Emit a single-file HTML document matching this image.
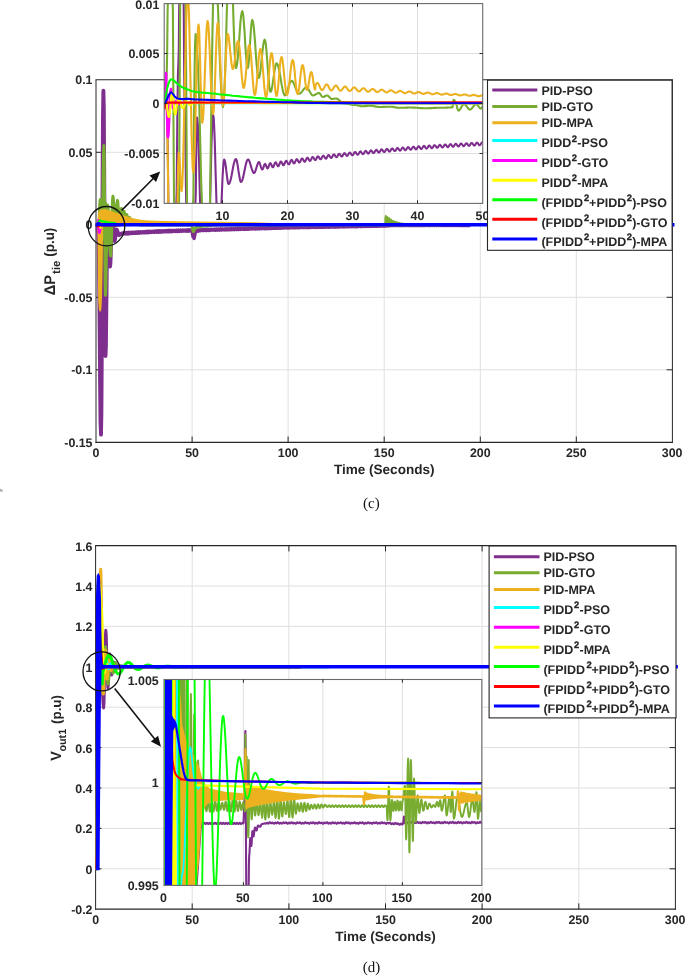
<!DOCTYPE html>
<html lang="en"><head><meta charset="utf-8"><title>Figure (c) and (d)</title>
<style>
html,body{margin:0;padding:0;background:#fff;}
body{width:685px;height:976px;overflow:hidden;}
svg{display:block;}
</style></head><body>
<svg width="685" height="976" viewBox="0 0 685 976" shape-rendering="geometricPrecision" text-rendering="geometricPrecision">
<rect width="685" height="976" fill="#fff"/>
<defs>
<clipPath id="clipC"><rect x="95.5" y="79.3" width="579" height="363.5"/></clipPath>
</defs>
<line x1="192.1" y1="79.8" x2="192.1" y2="442.3" stroke="#DFDFDF" stroke-width="1"/>
<line x1="288.1" y1="79.8" x2="288.1" y2="442.3" stroke="#DFDFDF" stroke-width="1"/>
<line x1="384.2" y1="79.8" x2="384.2" y2="442.3" stroke="#DFDFDF" stroke-width="1"/>
<line x1="480.3" y1="79.8" x2="480.3" y2="442.3" stroke="#DFDFDF" stroke-width="1"/>
<line x1="576.3" y1="79.8" x2="576.3" y2="442.3" stroke="#DFDFDF" stroke-width="1"/>
<line x1="96" y1="152.3" x2="672.4" y2="152.3" stroke="#DFDFDF" stroke-width="1"/>
<line x1="96" y1="224.8" x2="672.4" y2="224.8" stroke="#DFDFDF" stroke-width="1"/>
<line x1="96" y1="297.3" x2="672.4" y2="297.3" stroke="#DFDFDF" stroke-width="1"/>
<line x1="96" y1="369.8" x2="672.4" y2="369.8" stroke="#DFDFDF" stroke-width="1"/>
<line x1="96" y1="79.8" x2="96" y2="442.8" stroke="#262626" stroke-width="1.0"/>
<line x1="672.4" y1="79.8" x2="672.4" y2="442.8" stroke="#262626" stroke-width="1.0"/>
<line x1="95.5" y1="79.8" x2="672.9" y2="79.8" stroke="#262626" stroke-width="1.1"/>
<line x1="95.5" y1="442.3" x2="672.9" y2="442.3" stroke="#262626" stroke-width="1.2"/>
<line x1="192.1" y1="442.3" x2="192.1" y2="436.5" stroke="#262626" stroke-width="1"/>
<line x1="192.1" y1="79.8" x2="192.1" y2="85.6" stroke="#262626" stroke-width="1"/>
<line x1="288.1" y1="442.3" x2="288.1" y2="436.5" stroke="#262626" stroke-width="1"/>
<line x1="288.1" y1="79.8" x2="288.1" y2="85.6" stroke="#262626" stroke-width="1"/>
<line x1="384.2" y1="442.3" x2="384.2" y2="436.5" stroke="#262626" stroke-width="1"/>
<line x1="384.2" y1="79.8" x2="384.2" y2="85.6" stroke="#262626" stroke-width="1"/>
<line x1="480.3" y1="442.3" x2="480.3" y2="436.5" stroke="#262626" stroke-width="1"/>
<line x1="480.3" y1="79.8" x2="480.3" y2="85.6" stroke="#262626" stroke-width="1"/>
<line x1="576.3" y1="442.3" x2="576.3" y2="436.5" stroke="#262626" stroke-width="1"/>
<line x1="576.3" y1="79.8" x2="576.3" y2="85.6" stroke="#262626" stroke-width="1"/>
<line x1="96" y1="152.3" x2="101.8" y2="152.3" stroke="#262626" stroke-width="1"/>
<line x1="672.4" y1="152.3" x2="666.6" y2="152.3" stroke="#262626" stroke-width="1"/>
<line x1="96" y1="224.8" x2="101.8" y2="224.8" stroke="#262626" stroke-width="1"/>
<line x1="672.4" y1="224.8" x2="666.6" y2="224.8" stroke="#262626" stroke-width="1"/>
<line x1="96" y1="297.3" x2="101.8" y2="297.3" stroke="#262626" stroke-width="1"/>
<line x1="672.4" y1="297.3" x2="666.6" y2="297.3" stroke="#262626" stroke-width="1"/>
<line x1="96" y1="369.8" x2="101.8" y2="369.8" stroke="#262626" stroke-width="1"/>
<line x1="672.4" y1="369.8" x2="666.6" y2="369.8" stroke="#262626" stroke-width="1"/>
<g clip-path="url(#clipC)">
<path d="M96.5 224.8 L96.8 225.3 L97.1 226.8 L97.4 228.8 L97.7 230.8 L98 232.3 L98.3 232.8 L98.8 246.3 L99.2 283.2 L99.7 333.7 L100.1 384.1 L100.5 421.1 L101 434.6 L101.4 411.6 L101.8 348.6 L102.2 262.7 L102.6 176.7 L103 113.7 L103.4 90.7 L103.8 108.5 L104.1 157 L104.5 223.3 L104.8 289.7 L105.2 338.2 L105.5 356 L105.9 346.4 L106.2 320 L106.6 284 L107 248 L107.3 221.6 L107.7 212 L108.1 215.7 L108.5 225.7 L108.8 239.3 L109.2 253 L109.6 262.9 L110 266.6 L110.4 263.5 L110.7 255.2 L111.1 243.8 L111.5 232.4 L111.8 224.1 L112.2 221 L112.6 222.3 L113 226 L113.3 231 L113.7 236 L114.1 239.7 L114.5 241 L114.8 240.2 L115.2 238.1 L115.5 235.2 L115.8 232.4 L116.2 230.3 L116.5 229.5 L116.9 229.9 L117.3 230.9 L117.8 232.2 L118.2 233.6 L118.6 234.6 L119 235 L119.4 234.9 L119.8 234.7 L120.2 234.3 L120.7 233.9 L121.1 233.7 L121.5 233.6" fill="none" stroke="#7E2F8E" stroke-width="3.9" stroke-linejoin="round" stroke-linecap="round" />
<path d="M121.1 233.7 L121.5 233.6 L122 233.9 L122.5 234.1 L123 233 L123.5 232.8 L124 233.9 L124.5 233.8 L125 232.7 L125.5 232.9 L126 233.9 L126.5 233.5 L127 232.4 L127.5 233 L128 233.9 L128.5 233.1 L129 232.3 L129.5 233.1 L130 233.7 L130.5 232.7 L131 232.2 L131.5 233.2 L132 233.5 L132.5 232.4 L133 232.2 L133.5 233.3 L134 233.3 L134.5 232.1 L135 232.2 L135.5 233.3 L136 233 L136.5 231.9 L137 232.4 L137.5 233.3 L138 232.6 L138.5 231.7 L139 232.5 L139.5 233.2 L140 232.3 L140.5 231.7 L141 232.6 L141.5 233 L142 232 L142.5 231.7 L143 232.7 L143.5 232.8 L144 231.7 L144.5 231.7 L145 232.8 L145.5 232.5 L146 231.4 L146.5 231.8 L147 232.8 L147.5 232.2 L148 231.3 L148.5 232 L149 232.7 L149.5 231.8 L150 231.2 L150.5 232.1 L151 232.5 L151.5 231.5 L152 231.2 L152.5 232.2 L153 232.3 L153.5 231.2 L154 231.2 L154.5 232.2 L155 232 L155.5 231 L156 231.3 L156.5 232.3 L157 231.7 L157.5 230.8 L158 231.4 L158.5 232.2 L159 231.4 L159.5 230.7 L160 231.5 L160.5 232.1 L161 231.1 L161.5 230.7 L162 231.7 L162.5 231.9 L163 230.9 L163.5 230.8 L164 231.8 L164.5 231.7 L165 230.7 L165.5 230.9 L166 231.8 L166.5 231.4 L167 230.5 L167.5 231 L168 231.8 L168.5 231.1 L169 230.4 L169.5 231.2 L170 231.7 L170.5 230.9 L171 230.4 L171.5 231.3 L172 231.6 L172.5 230.6 L173 230.5 L173.5 231.4 L174 231.4 L174.5 230.4 L175 230.6 L175.5 231.5 L176 231.1 L176.5 230.2 L177 230.7 L177.5 231.5 L178 230.9 L178.5 230.1 L179 230.8 L179.5 231.4 L180 230.6 L180.5 230.1 L181 231 L181.5 231.3 L182 230.3 L182.5 230.1 L183 231.1 L183.5 231.1 L184 230.1 L184.5 230.2 L185 231.1 L185.5 230.9 L186 230 L186.5 230.3 L187 231.2 L187.5 230.6 L188 229.8 L188.5 230.5 L189 231.1 L189.5 230.3 L190 229.8 L190.5 230.6 L191 231 L191.5 230.5 L192 231.3 L192.5 234.2 L193 236.7 L193.5 237.2 L194 238.5 L194.5 236.8 L195 234 L195.5 231.5 L196 231 L196.5 231.5 L197 230.9 L197.5 230 L198 230.5 L198.5 231.1 L199 230.3 L199.5 229.7 L200 230.4 L200.5 230.8 L201 229.9 L201.5 229.5 L202 230.4 L202.5 230.5 L203 229.6 L203.5 229.6 L204 230.5 L204.5 230.3 L205 229.4 L205.5 229.7 L206 230.5 L206.5 230.1 L207 229.3 L207.5 229.8 L208 230.5 L208.5 229.8 L209 229.2 L209.5 229.9 L210 230.4 L210.5 229.6 L211 229.2 L211.5 230.1 L212 230.2 L212.5 229.4 L213 229.3 L213.5 230.1 L214 230.1 L214.5 229.2 L215 229.4 L215.5 230.2 L216 229.8 L216.5 229 L217 229.5 L217.5 230.2 L218 229.6 L218.5 229 L219 229.6 L219.5 230.1 L220 229.3 L220.5 228.9 L221 229.7 L221.5 230 L222 229.1 L222.5 229 L223 229.8 L223.5 229.8 L224 228.9 L224.5 229.1 L225 229.9 L225.5 229.6 L226 228.8 L226.5 229.2 L227 229.9 L227.5 229.3 L228 228.7 L228.5 229.3 L229 229.8 L229.5 229.1 L230 228.7 L230.5 229.4 L231 229.7 L231.5 228.9 L232 228.7 L232.5 229.5 L233 229.5 L233.5 228.7 L234 228.8 L234.5 229.6 L235 229.3 L235.5 228.5 L236 228.9 L236.5 229.6 L237 229.1 L237.5 228.4 L238 229 L238.5 229.5 L239 228.9 L239.5 228.4 L240 229.1 L240.5 229.4 L241 228.6 L241.5 228.4 L242 229.2 L242.5 229.3 L243 228.4 L243.5 228.4 L244 229.3 L244.5 229.1 L245 228.3 L245.5 228.5 L246 229.3 L246.5 228.8 L247 228.2 L247.5 228.7 L248 229.2 L248.5 228.6 L249 228.1 L249.5 228.8 L250 229.1 L250.5 228.4 L251 228.1 L251.5 228.9 L252 229 L252.5 228.2 L253 228.1 L253.5 228.9 L254 228.8 L254.5 228 L255 228.2 L255.5 229 L256 228.6 L256.5 227.9 L257 228.3 L257.5 228.9 L258 228.4 L258.5 227.8 L259 228.4 L259.5 228.9 L260 228.1 L260.5 227.8 L261 228.5 L261.5 228.7 L262 227.9 L262.5 227.8 L263 228.6 L263.5 228.5 L264 227.8 L264.5 227.9 L265 228.7 L265.5 228.3 L266 227.6 L266.5 228 L267 228.6 L267.5 228.1 L268 227.6 L268.5 228.1 L269 228.6 L269.5 227.9 L270 227.5 L270.5 228.2 L271 228.5 L271.5 227.7 L272 227.6 L272.5 228.3 L273 228.3 L273.5 227.5 L274 227.6 L274.5 228.3 L275 228.1 L275.5 227.4 L276 227.7 L276.5 228.3 L277 227.9 L277.5 227.3 L278 227.8 L278.5 228.3 L279 227.6 L279.5 227.2 L280 227.9 L280.5 228.2 L281 227.4 L281.5 227.3 L282 228 L282.5 228 L283 227.3 L283.5 227.3 L284 228 L284.5 227.8 L285 227.1 L285.5 227.4 L286 228 L286.5 227.6 L287 227 L287.5 227.5 L288 228 L288.5 227.4 L289 227 L289.5 227.6 L290 227.9 L290.5 227.2 L291 227 L291.5 227.7 L292 227.8 L292.5 227.1 L293 227.1 L293.5 227.8 L294 227.6 L294.5 226.9 L295 227.2 L295.5 227.8 L296 227.5 L296.5 226.8 L297 227.3 L297.5 227.8 L298 227.3 L298.5 226.8 L299 227.4 L299.5 227.8 L300 227.1 L300.5 226.8 L301 227.5 L301.5 227.6 L302 226.9 L302.5 226.9 L303 227.6 L303.5 227.5 L304 226.8 L304.5 227 L305 227.6 L305.5 227.3 L306 226.7 L306.5 227.1 L307 227.6 L307.5 227.1 L308 226.6 L308.5 227.2 L309 227.6 L309.5 226.9 L310 226.6 L310.5 227.3 L311 227.5 L311.5 226.8 L312 226.7 L312.5 227.4 L313 227.3 L313.5 226.6 L314 226.8 L314.5 227.4 L315 227.2 L315.5 226.5 L316 226.9 L316.5 227.5 L317 227 L317.5 226.5 L318 227 L318.5 227.4 L319 226.8 L319.5 226.5 L320 227.1 L320.5 227.3 L321 226.6 L321.5 226.5 L322 227.2 L322.5 227.2 L323 226.5 L323.5 226.6 L324 227.2 L324.5 227 L325 226.4 L325.5 226.7 L326 227.3 L326.5 226.8 L327 226.3 L327.5 226.8 L328 227.2 L328.5 226.7 L329 226.3 L329.5 226.9 L330 227.2 L330.5 226.5 L331 226.3 L331.5 227 L332 227 L332.5 226.3 L333 226.4 L333.5 227.1 L334 226.9 L334.5 226.2 L335 226.5 L335.5 227.1 L336 226.7 L336.5 226.1 L337 226.6 L337.5 227.1 L338 226.5 L338.5 226.1 L339 226.7 L339.5 227 L340 226.3 L340.5 226.1 L341 226.8 L341.5 226.9 L342 226.2 L342.5 226.2 L343 226.9 L343.5 226.7 L344 226.1 L344.5 226.3 L345 226.9 L345.5 226.6 L346 226 L346.5 226.4 L347 226.9 L347.5 226.4 L348 225.9 L348.5 226.5 L349 226.8 L349.5 226.2 L350 225.9 L350.5 226.6 L351 226.7 L351.5 226 L352 226 L352.5 226.7 L353 226.6 L353.5 225.9 L354 226.1 L354.5 226.7 L355 226.4 L355.5 225.8 L356 226.2 L356.5 226.7 L357 226.2 L357.5 225.8 L358 226.3 L358.5 226.6 L359 226.1 L359.5 225.8 L360 226.4 L360.5 226.5 L361 225.9 L361.5 225.8 L362 226.5 L362.5 226.4 L363 225.8 L363.5 225.9 L364 226.5 L364.5 226.3 L365 225.7 L365.5 226 L366 226.5 L366.5 226.1 L367 225.6 L367.5 226.1 L368 226.5 L368.5 225.9 L369 225.6 L369.5 226.2 L370 226.4 L370.5 225.7 L371 225.6 L371.5 226.3 L372 226.3 L372.5 225.6 L373 225.7 L373.5 226.3 L374 226.1 L374.5 225.5 L375 225.8 L375.5 226.3 L376 225.9 L376.5 225.4 L377 225.9 L377.5 226.3 L378 225.8 L378.5 225.4 L379 226 L379.5 226.2 L380 225.6 L380.5 225.5 L381 226.1 L381.5 226.1 L382 225.5 L382.5 225.5 L383 226.2 L383.5 226 L384 225.4 L384.5 225.6 L385 226.2 L385.5 225.8 L386 225.3 L386.5 225.6 L387 226 L387.5 225.5 L388 225.1 L388.5 225.6 L389 225.8 L389.5 225.2 L390 225 L390.5 225.6 L391 225.6 L391.5 225 L392 225 L392.5 225.6 L393 225.5 L393.5 224.9 L394 225.1 L394.5 225.6 L395 225.3 L395.5 224.8 L396 225.2 L396.5 225.6 L397 225.2 L397.5 224.8 L398 225.3 L398.5 225.6 L399 225.1 L399.5 224.8 L400 225.4 L400.5 225.6 L401 224.9 L401.5 224.9 L402 225.5 L402.5 225.5 L403 224.8 L403.5 225 L404 225.6 L404.5 225.3 L405 224.8 L405.5 225.1 L406 225.6 L406.5 225.2 L407 224.8 L407.5 225.3 L408 225.6 L408.5 225.1 L409 224.8 L409.5 225.4 L410 225.6 L410.5 225 L411 224.9 L411.5 225.5 L412 225.5 L412.5 224.9 L413 225 L413.5 225.6 L414 225.4 L414.5 224.8 L415 225.1 L415.5 225.6 L416 225.2 L416.5 224.8 L417 225.2 L417.5 225.6 L418 225.1 L418.5 224.8 L419 225.4 L419.5 225.6 L420 225 L420.5 224.9 L421 225.5 L421.5 225.5 L422 224.9 L422.5 225 L423 225.6 L423.5 225.4 L424 224.8 L424.5 225.1 L425 225.6 L425.5 225.3 L426 224.8 L426.5 225.2 L427 225.6 L427.5 225.1 L428 224.8 L428.5 225.3 L429 225.6 L429.5 225 L430 224.9 L430.5 225.5 L431 225.5 L431.5 224.9 L432 224.9 L432.5 225.5 L433 225.4 L433.5 224.8 L434 225.1 L434.5 225.6 L435 225.3 L435.5 224.8 L436 225.2 L436.5 225.6 L437 225.2 L437.5 224.8 L438 225.3 L438.5 225.6 L439 225 L439.5 224.8 L440 225.4 L440.5 225.5 L441 224.9 L441.5 224.9 L442 225.5 L442.5 225.4 L443 224.8 L443.5 225 L444 225.6 L444.5 225.3 L445 224.8 L445.5 225.2 L446 225.6 L446.5 225.2 L447 224.8 L447.5 225.3 L448 225.6 L448.5 225.1 L449 224.8 L449.5 225.4 L450 225.5 L450.5 224.9 L451 224.9 L451.5 225.5 L452 225.4 L452.5 224.9 L453 225 L453.5 225.6 L454 225.3 L454.5 224.8 L455 225.1 L455.5 225.6 L456 225.2 L456.5 224.8 L457 225.3 L457.5 225.6 L458 225.1 L458.5 224.8 L459 225.4 L459.5 225.5 L460 225 L460.5 224.9 L461 225.5 L461.5 225.5 L462 224.9 L462.5 225 L463 225.6 L463.5 225.4 L464 224.8 L464.5 225.1 L465 225.6 L465.5 225.2 L466 224.8 L466.5 225.2 L467 225.6 L467.5 225.1 L468 224.8 L468.5 225.4 L469 225.6 L469.5 225" fill="none" stroke="#7E2F8E" stroke-width="3.4" stroke-linejoin="round" stroke-linecap="round" />
<path d="M96.5 224.8 L96.8 224.9 L97.2 225.3 L97.5 225.8 L97.9 226.3 L98.2 226.7 L98.6 226.8 L98.9 225 L99.2 220 L99.4 213.2 L99.7 206.4 L100 201.4 L100.3 199.6 L100.6 202.3 L100.8 209.7 L101.1 219.8 L101.4 229.9 L101.6 237.3 L101.9 240 L102.2 233.7 L102.6 216.4 L102.9 192.8 L103.2 169.1 L103.6 151.8 L103.9 145.5 L104.2 155.5 L104.4 182.9 L104.7 220.4 L104.9 257.9 L105.2 285.3 L105.4 295.3 L105.8 289.3 L106.1 272.7 L106.5 250.2 L106.9 227.6 L107.2 211 L107.6 205 L108.1 208.4 L108.6 217.8 L109.1 230.5 L109.6 243.2 L110.1 252.6 L110.6 256 L111 252 L111.4 241.1 L111.8 226.2 L112.1 211.2 L112.5 200.3 L112.9 196.3 L113.3 198.3 L113.7 203.7 L114.1 211.2 L114.4 218.6 L114.8 224 L115.2 226 L115.6 224.3 L116 219.6 L116.3 213.2 L116.7 206.8 L117.1 202.1 L117.5 200.4 L117.8 201.8 L118.1 205.8 L118.5 211.2 L118.8 216.6 L119.1 220.6 L119.4 222 L119.7 221.1 L120.1 218.6 L120.4 215.2 L120.7 211.9 L121.1 209.4 L121.4 208.5 L121.6 209.3 L121.9 211.6 L122.1 214.8 L122.3 217.9 L122.6 220.2 L122.8 221 L123 220.4 L123.3 218.6 L123.5 216.2 L123.7 213.9 L124 212.1 L124.2 211.5 L124.4 212.1 L124.6 213.9 L124.8 216.2 L125.1 218.6 L125.3 220.4 L125.5 221 L125.7 220.6 L125.9 219.4 L126.2 217.8 L126.4 216.1 L126.6 214.9 L126.8 214.5 L127 215 L127.3 216.4 L127.5 218.2 L127.7 220.1 L128 221.5 L128.2 222 L128.4 221.7 L128.7 220.9 L128.9 219.8 L129.1 218.6 L129.4 217.8 L129.6 217.5 L129.8 217.9 L130.1 218.9 L130.3 220.2 L130.5 221.6 L130.8 222.6 L131 223 L131.3 222.8 L131.7 222.4 L132 221.8 L132.3 221.1 L132.7 220.7 L133 220.5 L133.3 220.7 L133.7 221.2 L134 222 L134.3 222.8 L134.7 223.3 L135 223.5 L135.3 223.4 L135.7 223.2 L136 223 L136.3 222.8 L136.7 222.6 L137 222.5 L137.5 222.7 L138 223.1 L138.5 223.8 L139 224.4 L139.5 224.8 L140 225 L148.6 225 L157.2 225 L165.8 225 L174.3 225 L182.9 225 L191.5 225 L191.8 225.4 L192.1 226.7 L192.4 228.3 L192.8 229.9 L193.1 231.2 L193.4 231.6 L193.7 231.4 L194 230.8 L194.3 229.9 L194.6 229 L194.9 228.4 L195.2 228.2 L195.5 228.1 L195.8 227.9 L196.1 227.6 L196.4 227.3 L196.7 227.1 L197 227 L198.3 226.9 L199.7 226.8 L201 226.5 L202.3 226.2 L203.7 226.1 L205 226 L206.7 225.9 L208.3 225.8 L210 225.6 L211.7 225.3 L213.3 225.2 L215 225.1 L252.5 225.1 L290 225.1 L327.5 225.1 L365 225.1 L402.5 225.1 L440 225.1" fill="none" stroke="#77AC30" stroke-width="3.0" stroke-linejoin="round" stroke-linecap="round" />
<path d="M99.3 224.8 L99.6 203 L101 199.5 L103 200 L105 199 L107 203 L108.2 224.8Z" fill="#77AC30" stroke="none" />
<path d="M384.2 224.8 L384.5 217.5 L385.2 215.1 L386.3 215 L387 216.6 L387.8 216 L388.6 217.4 L389.4 217 L390.3 218.6 L391.2 218.4 L392.2 219.8 L394 220.6 L397 221.6 L401 222.5 L407 223.2 L407 224.8Z" fill="#77AC30" stroke="none" />
<path d="M97.3 224.8 L98.2 213 L100 209.8 L105.5 208.9 L112 211.3 L118 213.6 L125 215.8 L134 218.5 L142 219.9 L150 220.5 L165 221 L200 221.4 L240 221.9 L262 222.5 L285 223.4 L285 225.8 L97.3 225.8Z" fill="#EDB120" stroke="none" />
<path d="M97.4 224.8 L97.7 262 L98.2 300 L98.8 308.5 L99.6 311.5 L100.6 311.8 L101.4 309 L102 298 L102.7 262 L103.2 224.8Z" fill="#EDB120" stroke="none" />
<path d="M98.2 224.8 L98.8 229 L99.4 232.8 L100.2 230 L100.6 224.8" fill="none" stroke="#FF00FF" stroke-width="2.6" stroke-linejoin="round" stroke-linecap="round" />
<path d="M97.5 224.8 L98.2 220 L99 222.5" fill="none" stroke="#FF00FF" stroke-width="2.0" stroke-linejoin="round" stroke-linecap="round" />
<path d="M99.5 226 L100.5 228 L101.5 225.5" fill="none" stroke="#FFFF00" stroke-width="2" stroke-linejoin="round" stroke-linecap="round" />
<path d="M97.5 224.3 L99 221.3 L100.5 220.6 L103 221.4 L108 222.4 L115 223" fill="none" stroke="#00FF00" stroke-width="2.2" stroke-linejoin="round" stroke-linecap="round" />
<path d="M97 225.8 L98 226.4 L99.5 225.4 L120 225.2" fill="none" stroke="#FF0000" stroke-width="2.4" stroke-linejoin="round" stroke-linecap="round" />
<path d="M96.6 224.9 L98.2 223.7 L99.5 224.3 L102 224.8 L674 224.8" fill="none" stroke="#0000FF" stroke-width="3.6" stroke-linejoin="round" stroke-linecap="round" stroke-linecap="butt"/>
</g>
<text x="92.5" y="84.3" font-family='"Liberation Sans", Arial, Helvetica, sans-serif' font-weight="bold" font-size="12.4" text-anchor="end" fill="#262626" >0.1</text>
<text x="92.5" y="156.8" font-family='"Liberation Sans", Arial, Helvetica, sans-serif' font-weight="bold" font-size="12.4" text-anchor="end" fill="#262626" >0.05</text>
<text x="92.5" y="229.3" font-family='"Liberation Sans", Arial, Helvetica, sans-serif' font-weight="bold" font-size="12.4" text-anchor="end" fill="#262626" >0</text>
<text x="92.5" y="301.8" font-family='"Liberation Sans", Arial, Helvetica, sans-serif' font-weight="bold" font-size="12.4" text-anchor="end" fill="#262626" >-0.05</text>
<text x="92.5" y="374.3" font-family='"Liberation Sans", Arial, Helvetica, sans-serif' font-weight="bold" font-size="12.4" text-anchor="end" fill="#262626" >-0.1</text>
<text x="92.5" y="446.8" font-family='"Liberation Sans", Arial, Helvetica, sans-serif' font-weight="bold" font-size="12.4" text-anchor="end" fill="#262626" >-0.15</text>
<text x="96" y="457.4" font-family='"Liberation Sans", Arial, Helvetica, sans-serif' font-weight="bold" font-size="12.4" text-anchor="middle" fill="#262626" >0</text>
<text x="192.1" y="457.4" font-family='"Liberation Sans", Arial, Helvetica, sans-serif' font-weight="bold" font-size="12.4" text-anchor="middle" fill="#262626" >50</text>
<text x="288.1" y="457.4" font-family='"Liberation Sans", Arial, Helvetica, sans-serif' font-weight="bold" font-size="12.4" text-anchor="middle" fill="#262626" >100</text>
<text x="384.2" y="457.4" font-family='"Liberation Sans", Arial, Helvetica, sans-serif' font-weight="bold" font-size="12.4" text-anchor="middle" fill="#262626" >150</text>
<text x="480.3" y="457.4" font-family='"Liberation Sans", Arial, Helvetica, sans-serif' font-weight="bold" font-size="12.4" text-anchor="middle" fill="#262626" >200</text>
<text x="576.3" y="457.4" font-family='"Liberation Sans", Arial, Helvetica, sans-serif' font-weight="bold" font-size="12.4" text-anchor="middle" fill="#262626" >250</text>
<text x="672.1" y="457.4" font-family='"Liberation Sans", Arial, Helvetica, sans-serif' font-weight="bold" font-size="12.4" text-anchor="middle" fill="#262626" >300</text>
<text x="384.2" y="473.7" font-family='"Liberation Sans", Arial, Helvetica, sans-serif' font-weight="bold" font-size="13.55" text-anchor="middle" fill="#262626" >Time (Seconds)</text>
<g transform="translate(55.2,295.3) rotate(-90)">
<text x="0" y="0" font-family='"Liberation Sans", Arial, Helvetica, sans-serif' font-weight="bold" font-size="14.6" text-anchor="start" fill="#262626" transform="scale(1,1.06)">&#916;P</text>
<text x="21.4" y="4.8" font-family='"Liberation Sans", Arial, Helvetica, sans-serif' font-weight="bold" font-size="11.4" text-anchor="start" fill="#262626" >tie</text>
<text x="38.6" y="-0.7" font-family='"Liberation Sans", Arial, Helvetica, sans-serif' font-weight="bold" font-size="13.4" text-anchor="start" fill="#262626" transform="scale(1,1.03)">(p.u)</text>
</g>
<rect x="164.2" y="3.6" width="318.5" height="199.8" fill="#fff"/>
<line x1="222.5" y1="3.6" x2="222.5" y2="203.4" stroke="#DFDFDF" stroke-width="1"/>
<line x1="287.5" y1="3.6" x2="287.5" y2="203.4" stroke="#DFDFDF" stroke-width="1"/>
<line x1="352.5" y1="3.6" x2="352.5" y2="203.4" stroke="#DFDFDF" stroke-width="1"/>
<line x1="417.5" y1="3.6" x2="417.5" y2="203.4" stroke="#DFDFDF" stroke-width="1"/>
<line x1="164.2" y1="53.5" x2="482.7" y2="53.5" stroke="#DFDFDF" stroke-width="1"/>
<line x1="164.2" y1="103.5" x2="482.7" y2="103.5" stroke="#DFDFDF" stroke-width="1"/>
<line x1="164.2" y1="153.5" x2="482.7" y2="153.5" stroke="#DFDFDF" stroke-width="1"/>
<defs><clipPath id="clipCi"><rect x="164.2" y="3.6" width="318.5" height="199.8"/></clipPath></defs>
<g clip-path="url(#clipCi)">
<path d="M164.3 103.5 L164.6 103.5 L164.8 103.5 L165.1 103.5 L165.3 103.5 L165.6 103.5 L165.8 103.5 L166.1 103.5 L166.3 103.5 L166.6 103.5 L166.8 103.5 L167.4 118.1 L167.9 160.5 L168.5 211.4 L169.1 211.4 L169.7 211.4 L170.2 211.4 L170.8 211.4 L171.4 211.4 L171.9 211.4 L172.5 211.4 L173.1 211.4 L173.7 211.4 L174.3 211.4 L174.9 211.4 L175.5 211.4 L176.1 211.4 L176.7 191.9 L177.3 121.1 L177.9 75.7 L178.5 60 L178.8 48.7 L179.1 16.1 L179.4 -4.4 L179.7 -4.4 L180 -4.4 L180.3 -4.4 L180.6 -4.4 L180.9 -4.4 L181.2 -4.4 L181.5 -4.4 L181.8 -4.4 L182.1 -4.4 L182.5 -4.4 L182.8 -4.4 L183.1 -4.4 L183.4 -4.4 L183.7 4.9 L184.1 61.3 L184.4 97.5 L184.7 110 L185.3 129.3 L185.9 185.4 L186.4 211.4 L187 211.4 L187.6 211.4 L188.2 211.4 L188.8 211.4 L189.3 211.4 L189.9 211.4 L190.5 211.4 L191.2 211.4 L191.8 211.4 L192.5 211.4 L193.1 211.4 L193.8 211.4 L194.5 211.4 L195.1 211.4 L195.8 192.2 L196.4 136.6 L197.1 117.5 L197.9 124.9 L198.7 146.4 L199.5 179.8 L200.3 211.4 L201.1 211.4 L201.8 211.4 L202.6 211.4 L203.4 211.4 L204.2 211.4 L205 211.4 L205.8 211.4 L206.6 211.4 L207.4 211.4 L208.2 211.4 L209.1 211.4 L209.9 211.4 L210.7 177.5 L211.5 143.8 L212.3 122.1 L213.1 114.6 L213.7 117.9 L214.2 127.5 L214.8 142.5 L215.3 161.4 L215.9 182.3 L216.5 203.2 L217 211.4 L217.6 211.4 L218.1 211.4 L218.7 211.4 L219.2 211.4 L219.8 211.4 L220.3 211.4 L220.9 211.4 L221.4 204.8 L222 190.8 L222.5 178.2 L223.1 168.2 L223.6 161.8 L224.2 159.6 L224.6 160.2 L225.1 161.9 L225.5 164.6 L226 168 L226.4 171.8 L226.9 175.6 L227.3 179 L227.8 181.7 L228.2 183.4 L228.7 184 L229.4 183.4 L230.1 181.6 L230.9 178.8 L231.6 175.4 L232.3 171.5 L233 167.6 L233.7 164.2 L234.5 161.4 L235.2 159.6 L235.9 159 L236.4 159.6 L236.9 161.2 L237.4 163.7 L237.9 166.9 L238.4 170.5 L239 174.1 L239.5 177.3 L240 179.8 L240.5 181.4 L241 182 L241.7 181.4 L242.4 179.9 L243.1 177.4 L243.8 174.2 L244.5 170.8 L245.2 167.3 L245.9 164.1 L246.6 161.6 L247.3 160.1 L248 159.5 L248.6 159.8 L249.2 160.8 L249.8 162.3 L250.4 164.2 L251 166.2 L251.6 168.3 L252.2 170.2 L252.8 171.7 L253.4 172.7 L254 173 L254.5 172.7 L255 171.9 L255.5 170.7 L256 169.2 L256.5 167.5 L257 165.8 L257.5 164.3 L258 163.1 L258.5 162.3 L259 162 L259.3 162.2 L259.6 162.6 L259.8 163.3 L260.1 164.2 L260.4 165.2 L260.7 166.3 L261 167.2 L261.2 167.9 L261.5 168.3 L261.8 168.5 L262 169.4 L262.5 169.4 L263 168.6 L263.5 167.1 L264 165.6 L264.5 164.4 L265 163.9 L265.5 164.3 L266 165.4 L266.5 166.8 L267 167.9 L267.5 168.4 L268 168.1 L268.5 167 L269 165.5 L269.5 164.1 L270 163.3 L270.5 163.2 L271 163.8 L271.5 165 L272 166.3 L272.5 167.1 L273 167.3 L273.5 166.7 L274 165.5 L274.5 164 L275 162.9 L275.5 162.3 L276 162.5 L276.5 163.4 L277 164.6 L277.5 165.7 L278 166.3 L278.5 166.1 L279 165.3 L279.5 164 L280 162.7 L280.5 161.7 L281 161.5 L281.5 162 L282 163 L282.5 164.1 L283 165 L283.5 165.3 L284 164.9 L284.5 163.8 L285 162.6 L285.5 161.4 L286 160.8 L286.5 160.8 L287 161.5 L287.5 162.6 L288 163.6 L288.5 164.3 L289 164.3 L289.5 163.6 L290 162.5 L290.5 161.2 L291 160.3 L291.5 159.9 L292 160.2 L292.5 161.1 L293 162.2 L293.5 163 L294 163.4 L294.5 163.2 L295 162.3 L295.5 161.1 L296 160 L296.5 159.3 L297 159.2 L297.5 159.8 L298 160.7 L298.5 161.7 L299 162.4 L299.5 162.5 L300 162 L300.5 161 L301 159.9 L301.5 158.9 L302 158.5 L302.5 158.6 L303 159.3 L303.5 160.3 L304 161.2 L304.5 161.7 L305 161.6 L305.5 160.8 L306 159.8 L306.5 158.7 L307 157.9 L307.5 157.7 L308 158.1 L308.5 159 L309 159.9 L309.5 160.6 L310 160.9 L310.5 160.5 L311 159.7 L311.5 158.6 L312 157.6 L312.5 157.1 L313 157.1 L313.5 157.7 L314 158.6 L314.5 159.5 L315 160 L315.5 160 L316 159.5 L316.5 158.5 L317 157.4 L317.5 156.6 L318 156.3 L318.5 156.6 L319 157.3 L319.5 158.2 L320 159 L320.5 159.3 L321 159.1 L321.5 158.4 L322 157.4 L322.5 156.4 L323 155.8 L323.5 155.7 L324 156.2 L324.5 157 L325 157.9 L325.5 158.5 L326 158.6 L326.5 158.2 L327 157.3 L327.5 156.3 L328 155.4 L328.5 155 L329 155.2 L329.5 155.8 L330 156.7 L330.5 157.5 L331 157.9 L331.5 157.8 L332 157.2 L332.5 156.2 L333 155.2 L333.5 154.6 L334 154.4 L334.5 154.7 L335 155.5 L335.5 156.3 L336 157 L336.5 157.2 L337 156.9 L337.5 156.1 L338 155.2 L338.5 154.3 L339 153.8 L339.5 153.8 L340 154.4 L340.5 155.2 L341 156 L341.5 156.5 L342 156.5 L342.5 156 L343 155.1 L343.5 154.2 L344 153.4 L344.5 153.1 L345 153.4 L345.5 154.1 L346 154.9 L346.5 155.6 L347 155.9 L347.5 155.7 L348 155.1 L348.5 154.1 L349 153.2 L349.5 152.7 L350 152.6 L350.5 153 L351 153.8 L351.5 154.6 L352 155.2 L352.5 155.3 L353 154.9 L353.5 154.1 L354 153.2 L354.5 152.4 L355 152 L355.5 152.1 L356 152.7 L356.5 153.6 L357 154.3 L357.5 154.7 L358 154.6 L358.5 154 L359 153.2 L359.5 152.2 L360 151.6 L360.5 151.4 L361 151.8 L361.5 152.5 L362 153.3 L362.5 153.9 L363 154.2 L363.5 153.9 L364 153.1 L364.5 152.2 L365 151.4 L365.5 150.9 L366 151 L366.5 151.5 L367 152.3 L367.5 153.1 L368 153.5 L368.5 153.6 L369 153.1 L369.5 152.2 L370 151.3 L370.5 150.6 L371 150.4 L371.5 150.6 L372 151.3 L372.5 152.1 L373 152.8 L373.5 153.1 L374 152.9 L374.5 152.2 L375 151.4 L375.5 150.5 L376 150 L376.5 149.9 L377 150.3 L377.5 151.1 L378 151.9 L378.5 152.4 L379 152.5 L379.5 152.2 L380 151.4 L380.5 150.5 L381 149.7 L381.5 149.4 L382 149.5 L382.5 150.1 L383 150.9 L383.5 151.6 L384 152 L384.5 151.9 L385 151.4 L385.5 150.5 L386 149.7 L386.5 149.1 L387 148.9 L387.5 149.2 L388 149.9 L388.5 150.7 L389 151.4 L389.5 151.6 L390 151.3 L390.5 150.6 L391 149.7 L391.5 148.9 L392 148.5 L392.5 148.5 L393 149 L393.5 149.8 L394 150.5 L394.5 151 L395 151 L395.5 150.6 L396 149.8 L396.5 148.9 L397 148.2 L397.5 148 L398 148.2 L398.5 148.9 L399 149.7 L399.5 150.3 L400 150.6 L400.5 150.5 L401 149.8 L401.5 149 L402 148.2 L402.5 147.6 L403 147.6 L403.5 148 L404 148.7 L404.5 149.5 L405 150.1 L405.5 150.2 L406 149.8 L406.5 149.1 L407 148.2 L407.5 147.5 L408 147.1 L408.5 147.3 L409 147.8 L409.5 148.6 L410 149.3 L410.5 149.7 L411 149.7 L411.5 149.1 L412 148.3 L412.5 147.5 L413 146.9 L413.5 146.7 L414 147 L414.5 147.7 L415 148.5 L415.5 149.1 L416 149.4 L416.5 149.1 L417 148.4 L417.5 147.5 L418 146.8 L418.5 146.3 L419 146.4 L419.5 146.9 L420 147.7 L420.5 148.4 L421 148.9 L421.5 148.9 L422 148.5 L422.5 147.7 L423 146.8 L423.5 146.2 L424 145.9 L424.5 146.2 L425 146.8 L425.5 147.6 L426 148.3 L426.5 148.6 L427 148.4 L427.5 147.8 L428 146.9 L428.5 146.1 L429 145.6 L429.5 145.6 L430 146 L430.5 146.7 L431 147.5 L431.5 148.1 L432 148.2 L432.5 147.8 L433 147.1 L433.5 146.2 L434 145.5 L434.5 145.2 L435 145.3 L435.5 145.9 L436 146.7 L436.5 147.4 L437 147.8 L437.5 147.7 L438 147.2 L438.5 146.4 L439 145.6 L439.5 145 L440 144.8 L440.5 145.2 L441 145.9 L441.5 146.6 L442 147.3 L442.5 147.5 L443 147.2 L443.5 146.6 L444 145.7 L444.5 144.9 L445 144.5 L445.5 144.6 L446 145.1 L446.5 145.8 L447 146.6 L447.5 147.1 L448 147.1 L448.5 146.7 L449 145.9 L449.5 145 L450 144.4 L450.5 144.1 L451 144.4 L451.5 145 L452 145.8 L452.5 146.5 L453 146.8 L453.5 146.6 L454 146 L454.5 145.2 L455 144.4 L455.5 143.9 L456 143.9 L456.5 144.3 L457 145 L457.5 145.8 L458 146.3 L458.5 146.5 L459 146.1 L459.5 145.4 L460 144.6 L460.5 143.8 L461 143.5 L461.5 143.7 L462 144.2 L462.5 145 L463 145.7 L463.5 146.1 L464 146.1 L464.5 145.6 L465 144.8 L465.5 143.9 L466 143.4 L466.5 143.2 L467 143.6 L467.5 144.2 L468 145 L468.5 145.7 L469 145.9 L469.5 145.6 L470 145 L470.5 144.1 L471 143.4 L471.5 143 L472 143 L472.5 143.5 L473 144.3 L473.5 145 L474 145.5 L474.5 145.5 L475 145.1 L475.5 144.3 L476 143.5 L476.5 142.9 L477 142.6 L477.5 142.9 L478 143.5 L478.5 144.3 L479 145 L479.5 145.3 L480 145.1 L480.5 144.5 L481 143.7 L481.5 142.9 L482 142.4 L482.5 142.4 L483 142.8" fill="none" stroke="#7E2F8E" stroke-width="2.1" stroke-linejoin="round" stroke-linecap="round" />
<path d="M164.3 100 L164.5 99.5 L164.7 98.1 L164.9 95.9 L165.1 93.1 L165.4 90 L165.6 86.9 L165.8 84.1 L166 81.9 L166.2 80.5 L166.4 80 L166.8 71.9 L167.2 48.5 L167.6 12 L168 -4.4 L168.4 -4.4 L168.9 -4.4 L169.3 -4.4 L169.7 -4.4 L170.1 -4.4 L170.5 -4.4 L171.1 -4.4 L171.7 -4.4 L172.3 -4.4 L172.9 9.1 L173.5 125 L174.1 211.4 L174.7 211.4 L175.3 211.4 L175.9 211.4 L176.5 211.4 L177.1 211.4 L177.7 211.4 L178.4 211.4 L179 211.4 L179.6 100 L180.2 -4.4 L180.8 -4.4 L181.5 -4.4 L182.1 -4.4 L182.7 -4.4 L183.4 -4.4 L184.2 -4.4 L184.9 -4.4 L185.6 -4.4 L186.3 100 L187.1 211.4 L187.8 211.4 L188.5 211.4 L189.3 211.4 L190 211.4 L190.6 211.4 L191.1 211.4 L191.7 211.4 L192.2 211.4 L192.8 211.4 L193.4 195 L193.9 130 L194.5 78.5 L195 45.4 L195.6 34 L196.7 41.2 L197.8 62.3 L199 95 L200.1 136.3 L201.2 182 L202.3 211.4 L203.4 211.4 L204.6 211.4 L205.7 211.4 L206.8 211.4 L207.6 211.4 L208.4 211.4 L209.2 211.4 L210 202.2 L210.8 145 L211.6 87.8 L212.4 36.3 L213.2 -4.4 L214 -4.4 L214.8 -4.4 L215.6 -4.4 L216.4 -4.4 L217.3 -4.4 L218.1 10.8 L218.9 33.5 L219.7 56.2 L220.5 76.7 L221.4 93 L222.2 103.4 L223 107 L223.7 102.9 L224.4 91.1 L225.1 72.6 L225.8 49.3 L226.5 23.5 L227.2 -2.3 L227.9 -4.4 L228.6 -4.4 L229.3 -4.4 L230 -4.4 L230.6 -4.4 L231.2 -4.4 L231.8 -4.4 L232.4 -4.4 L233 4 L233.6 23.8 L234.2 41.6 L234.8 55.8 L235.4 64.9 L236 68 L236.6 66.6 L237.3 62.6 L237.9 56.3 L238.5 48.4 L239.2 39.6 L239.8 30.8 L240.4 22.9 L241 16.6 L241.7 12.6 L242.3 11.2 L242.8 12.6 L243.4 16.6 L243.9 22.9 L244.5 30.8 L245 39.6 L245.5 48.4 L246.1 56.3 L246.6 62.6 L247.2 66.6 L247.7 68 L248.2 66.8 L248.6 63.4 L249.1 58.1 L249.5 51.4 L250 44 L250.5 36.5 L250.9 29.8 L251.4 24.5 L251.8 21.1 L252.3 19.9 L252.9 21.3 L253.6 25.4 L254.2 31.9 L254.9 40 L255.5 48.9 L256.1 57.9 L256.8 66 L257.4 72.5 L258.1 76.6 L258.7 78 L259.3 77.1 L259.9 74.3 L260.5 70.1 L261.1 64.8 L261.7 58.9 L262.3 52.9 L262.9 47.6 L263.5 43.4 L264.1 40.6 L264.7 39.7 L265.3 41 L265.9 44.7 L266.4 50.4 L267 57.7 L267.6 65.8 L268.2 73.8 L268.8 81.1 L269.3 86.8 L269.9 90.5 L270.5 91.8 L271.1 91.1 L271.7 89.1 L272.3 85.9 L272.9 82 L273.6 77.5 L274.2 73.1 L274.8 69.2 L275.4 66 L276 64 L276.6 63.3 L277.4 64.1 L278.3 66.4 L279.1 69.9 L280 74.4 L280.8 79.4 L281.6 84.4 L282.5 88.9 L283.3 92.4 L284.2 94.7 L285 95.5 L285.6 95.1 L286.3 94.1 L286.9 92.4 L287.6 90.4 L288.2 88.1 L288.9 85.8 L289.6 83.8 L290.2 82.1 L290.9 81.1 L291.5 80.7 L292.2 81 L293 82 L293.8 83.4 L294.5 85.2 L295.2 87.2 L296 89.3 L296.8 91.1 L297.5 92.5 L298.2 93.5 L299 93.8 L299.7 93.6 L300.5 93.2 L301.2 92.5 L302 91.6 L302.7 90.6 L303.4 89.6 L304.2 88.7 L304.9 88 L305.7 87.6 L306.4 87.4 L307.1 87.6 L307.7 88.2 L308.4 89.1 L309 90.2 L309.7 91.5 L310.4 92.7 L311 93.8 L311.7 94.7 L312.3 95.3 L313 95.5 L313.6 95.4 L314.2 95.3 L314.7 95 L315.3 94.6 L315.9 94.2 L316.5 93.9 L317.1 93.5 L317.6 93.2 L318.2 93.1 L318.8 93 L319.2 93.1 L319.6 93.4 L320.1 93.8 L320.5 94.4 L320.9 95 L321.3 95.6 L321.7 96.2 L322.2 96.6 L322.6 96.9 L323 97 L323.4 97 L323.8 96.9 L324.2 96.7 L324.6 96.5 L325 96.2 L325.4 96 L325.8 95.8 L326.2 95.6 L326.6 95.5 L327 95.5 L327.5 95.6 L328 95.8 L328.5 96.2 L329 96.7 L329.5 97.2 L330 97.8 L330.5 98.3 L331 98.7 L331.5 98.9 L332 99 L332.4 99 L332.8 99 L333.2 98.9 L333.6 98.8 L334 98.8 L334.4 98.7 L334.8 98.6 L335.2 98.5 L335.6 98.5 L336 98.5 L336.8 98.6 L337.6 99 L338.4 99.5 L339.2 100.2 L340 101 L340.8 101.8 L341.6 102.5 L342.4 103 L343.2 103.4 L344 103.5 L345.1 103.5 L346.2 103.6 L347.3 103.8 L348.4 104 L349.5 104.2 L350.6 104.5 L351.7 104.7 L352.8 104.9 L353.9 105 L355 105 L355.7 105 L356.4 105.1 L357.1 105.2 L357.8 105.4 L358.5 105.6 L359.2 105.8 L359.9 106 L360.6 106.1 L361.3 106.2 L362 106.2 L362.8 106.2 L363.6 106.2 L364.4 106.1 L365.2 106.1 L366 106 L366.8 105.9 L367.6 105.9 L368.4 105.8 L369.2 105.8 L370 105.8 L371 105.8 L372 105.9 L373 106 L374 106.2 L375 106.4 L376 106.6 L377 106.8 L378 106.9 L379 107 L380 107 L381 107 L382 107 L383 106.9 L384 106.9 L385 106.9 L386 106.8 L387 106.8 L388 106.7 L389 106.7 L390 106.7 L391 106.7 L392 106.8 L393 106.9 L394 107.1 L395 107.2 L396 107.4 L397 107.6 L398 107.7 L399 107.8 L400 107.8 L401 107.8 L402 107.8 L403 107.7 L404 107.7 L405 107.7 L406 107.6 L407 107.6 L408 107.5 L409 107.5 L410 107.5 L411.5 107.5 L413 107.6 L414.5 107.6 L416 107.7 L417.5 107.8 L419 108 L420.5 108.1 L422 108.1 L423.5 108.2 L425 108.2 L426.5 108.2 L428 108.2 L429.5 108.1 L431 108.1 L432.5 108 L434 107.9 L435.5 107.9 L437 107.8 L438.5 107.8 L440 107.8 L441 107.8 L442 107.8 L443 107.7 L444 107.7 L445 107.7 L446 107.6 L447 107.6 L448 107.5 L449 107.5 L450 107.5 L450.2 107.5 L450.5 107.5 L450.7 107.5 L451 107.4 L451.2 107.4 L451.4 107.4 L451.7 107.3 L451.9 107.3 L452.2 107.3 L452.4 107.3 L452.5 107.1 L452.6 106.6 L452.8 105.8 L452.9 104.7 L453 103.5 L453.1 102.4 L453.2 101.3 L453.4 100.5 L453.5 100 L453.6 99.8 L453.7 99.8 L453.9 99.9 L454 100.1 L454.2 100.3 L454.3 100.5 L454.4 100.7 L454.6 100.9 L454.7 101.1 L454.9 101.2 L455 101.2 L455.4 101.4 L455.7 102.1 L456.1 103.1 L456.4 104.4 L456.8 105.9 L457.1 107.4 L457.4 108.7 L457.8 109.7 L458.1 110.4 L458.5 110.6 L459.1 110.4 L459.6 110 L460.1 109.3 L460.7 108.4 L461.2 107.4 L461.8 106.4 L462.4 105.5 L462.9 104.8 L463.4 104.4 L464 104.2 L464.6 104.3 L465.2 104.7 L465.8 105.3 L466.4 106.1 L467 106.9 L467.6 107.7 L468.2 108.5 L468.8 109.1 L469.4 109.5 L470 109.6 L470.6 109.5 L471.2 109.1 L471.8 108.5 L472.4 107.7 L473 106.9 L473.6 106.1 L474.2 105.3 L474.8 104.7 L475.4 104.3 L476 104.2 L476.5 104.3 L477 104.6 L477.5 105.1 L478 105.7 L478.5 106.4 L479 107.1 L479.5 107.7 L480 108.2 L480.5 108.5 L481 108.6 L481.2 108.5 L481.4 108.4 L481.6 108.1 L481.8 107.7 L482 107.3 L482.2 106.9 L482.4 106.5 L482.6 106.2 L482.8 106.1 L483 106" fill="none" stroke="#77AC30" stroke-width="2.1" stroke-linejoin="round" stroke-linecap="round" />
<path d="M164.3 103.5 L164.5 103.5 L164.8 103.5 L165 103.5 L165.2 103.5 L165.4 103.5 L165.7 103.5 L165.9 103.5 L166.1 103.5 L166.4 103.5 L166.6 103.5 L167.2 118.1 L167.8 160.5 L168.4 211.4 L169 211.4 L169.6 211.4 L170.1 211.4 L170.7 211.4 L171.3 211.4 L171.9 211.4 L172.5 211.4 L173.1 211.4 L173.7 211.4 L174.4 211.4 L175 211.4 L175.6 211.4 L176.2 211.4 L176.8 211.4 L177.5 204.9 L178.1 166 L178.7 152.6 L179 153.5 L179.3 156.3 L179.6 160.5 L179.9 165.9 L180.1 171.8 L180.4 177.7 L180.7 183.1 L181 187.3 L181.3 190.1 L181.6 191 L182.2 186.1 L182.8 172 L183.4 150 L184 122.2 L184.6 91.5 L185.3 60.8 L185.9 33 L186.5 11 L187.1 -3.1 L187.7 -4.4 L188.3 -3.6 L188.8 9.2 L189.4 29.2 L189.9 54.3 L190.5 82.2 L191.1 110.1 L191.6 135.2 L192.2 155.2 L192.7 168 L193.3 172.4 L193.8 168.8 L194.3 158.3 L194.9 141.9 L195.4 121.3 L195.9 98.5 L196.4 75.6 L196.9 55 L197.5 38.6 L198 28.1 L198.5 24.5 L198.9 26.9 L199.3 33.9 L199.6 44.8 L200 58.5 L200.4 73.6 L200.8 88.8 L201.2 102.5 L201.5 113.4 L201.9 120.4 L202.3 122.8 L202.8 120.3 L203.4 113.1 L203.9 101.8 L204.4 87.6 L204.9 71.9 L205.5 56.2 L206 42 L206.5 30.7 L207.1 23.5 L207.6 21 L208.2 23.3 L208.7 29.9 L209.2 40.2 L209.8 53.1 L210.3 67.5 L210.9 81.9 L211.4 94.8 L212 105.1 L212.5 111.7 L213.1 114 L213.6 111.8 L214 105.3 L214.5 95.2 L215 82.5 L215.4 68.4 L215.9 54.3 L216.4 41.6 L216.9 31.5 L217.3 25 L217.8 22.8 L218.3 24.8 L218.8 30.7 L219.4 39.9 L219.9 51.5 L220.4 64.3 L220.9 77.1 L221.4 88.7 L222 97.9 L222.5 103.8 L223 105.8 L223.5 104 L223.9 98.9 L224.4 91 L224.9 81 L225.3 69.8 L225.8 58.7 L226.3 48.7 L226.8 40.8 L227.2 35.7 L227.7 33.9 L228.2 34.8 L228.7 37.3 L229.2 41.1 L229.7 46 L230.2 51.4 L230.8 56.9 L231.3 61.8 L231.8 65.6 L232.3 68.1 L232.8 69 L233.3 68.3 L233.9 66.3 L234.4 63.2 L234.9 59.3 L235.4 55 L236 50.7 L236.5 46.8 L237 43.7 L237.6 41.7 L238.1 41 L238.7 42.2 L239.2 45.5 L239.8 50.7 L240.3 57.2 L240.9 64.5 L241.5 71.8 L242 78.3 L242.6 83.5 L243.1 86.8 L243.7 88 L244.3 86.9 L244.8 83.9 L245.4 79.1 L245.9 73.1 L246.5 66.5 L247.1 59.9 L247.6 53.9 L248.2 49.1 L248.7 46.1 L249.3 45 L249.9 46.2 L250.4 49.8 L251 55.3 L251.5 62.3 L252.1 70 L252.6 77.7 L253.2 84.7 L253.7 90.2 L254.2 93.8 L254.8 95 L255.4 93.9 L255.9 90.6 L256.5 85.5 L257 79.1 L257.6 72 L258.2 64.9 L258.7 58.5 L259.3 53.4 L259.8 50.1 L260.4 49 L261 50.2 L261.5 53.6 L262.1 58.9 L262.6 65.6 L263.2 73 L263.8 80.4 L264.3 87.1 L264.9 92.4 L265.4 95.8 L266 97 L266.6 95.9 L267.1 92.8 L267.7 87.9 L268.2 81.8 L268.8 75 L269.4 68.2 L269.9 62.1 L270.5 57.2 L271 54.1 L271.6 53 L272.1 54.1 L272.6 57.1 L273.1 61.9 L273.6 67.9 L274.1 74.5 L274.5 81.1 L275 87.1 L275.5 91.9 L276 94.9 L276.5 96 L277 95 L277.5 92.3 L278 88 L278.5 82.5 L279 76.5 L279.5 70.5 L280 65 L280.5 60.7 L281 58 L281.5 57 L282.1 57.9 L282.6 60.6 L283.1 64.8 L283.7 70.1 L284.2 76 L284.8 81.9 L285.4 87.2 L285.9 91.4 L286.4 94.1 L287 95 L287.6 94.1 L288.1 91.7 L288.7 87.8 L289.3 82.9 L289.9 77.5 L290.4 72.1 L291 67.2 L291.6 63.3 L292.1 60.9 L292.7 60 L293.2 60.8 L293.7 63.2 L294.2 67 L294.7 71.7 L295.1 77 L295.6 82.3 L296.1 87 L296.6 90.8 L297.1 93.2 L297.6 94 L298.1 93.3 L298.6 91.2 L299.1 88 L299.6 84 L300.1 79.5 L300.6 75 L301.1 71 L301.6 67.8 L302.1 65.7 L302.6 65 L303 65.6 L303.5 67.4 L303.9 70.2 L304.4 73.6 L304.8 77.5 L305.2 81.4 L305.7 84.8 L306.1 87.6 L306.6 89.4 L307 90 L307.4 89.6 L307.9 88.3 L308.3 86.3 L308.7 83.8 L309.1 81 L309.6 78.2 L310 75.7 L310.4 73.7 L310.9 72.4 L311.3 72 L311.7 72.4 L312.1 73.7 L312.5 75.6 L312.9 78 L313.2 80.8 L313.6 83.5 L314 85.9 L314.4 87.8 L314.8 89.1 L315.2 89.5 L315.5 85.4 L316 84.4 L316.5 83.6 L317 83.1 L317.5 83 L318 83.3 L318.5 83.9 L319 84.9 L319.5 86 L320 87.2 L320.5 88.3 L321 89.2 L321.5 89.8 L322 90.1 L322.5 90 L323 89.5 L323.5 88.8 L324 87.9 L324.5 86.9 L325 86 L325.5 85.2 L326 84.6 L326.5 84.4 L327 84.5 L327.5 84.9 L328 85.6 L328.5 86.5 L329 87.5 L329.5 88.5 L330 89.4 L330.5 90 L331 90.4 L331.5 90.4 L332 90.2 L332.5 89.6 L333 88.9 L333.5 88.1 L334 87.2 L334.5 86.5 L335 85.9 L335.5 85.6 L336 85.5 L336.5 85.8 L337 86.3 L337.5 87 L338 87.9 L338.5 88.7 L339 89.5 L339.5 90.2 L340 90.6 L340.5 90.8 L341 90.6 L341.5 90.3 L342 89.7 L342.5 89 L343 88.3 L343.5 87.6 L344 87 L344.5 86.6 L345 86.5 L345.5 86.6 L346 87 L346.5 87.6 L347 88.3 L347.5 89 L348 89.7 L348.5 90.4 L349 90.8 L349.5 91 L350 91 L350.5 90.8 L351 90.4 L351.5 89.8 L352 89.2 L352.5 88.5 L353 88 L353.5 87.6 L354 87.4 L354.5 87.4 L355 87.7 L355.5 88.1 L356 88.7 L356.5 89.3 L357 90 L357.5 90.6 L358 91 L358.5 91.3 L359 91.4 L359.5 91.3 L360 91 L360.5 90.5 L361 90 L361.5 89.4 L362 88.9 L362.5 88.5 L363 88.3 L363.5 88.2 L364 88.3 L364.5 88.7 L365 89.1 L365.5 89.7 L366 90.2 L366.5 90.8 L367 91.2 L367.5 91.6 L368 91.7 L368.5 91.7 L369 91.5 L369.5 91.1 L370 90.7 L370.5 90.2 L371 89.7 L371.5 89.3 L372 89.1 L372.5 88.9 L373 89 L373.5 89.2 L374 89.6 L374.5 90 L375 90.5 L375.5 91.1 L376 91.5 L376.5 91.8 L377 92 L377.5 92.1 L378 91.9 L378.5 91.7 L379 91.3 L379.5 90.9 L380 90.5 L380.5 90.1 L381 89.8 L381.5 89.7 L382 89.6 L382.5 89.8 L383 90.1 L383.5 90.4 L384 90.9 L384.5 91.3 L385 91.8 L385.5 92.1 L386 92.3 L386.5 92.4 L387 92.4 L387.5 92.2 L388 91.9 L388.5 91.5 L389 91.2 L389.5 90.8 L390 90.5 L390.5 90.3 L391 90.3 L391.5 90.4 L392 90.6 L392.5 90.9 L393 91.2 L393.5 91.6 L394 92 L394.5 92.4 L395 92.6 L395.5 92.7 L396 92.8 L396.5 92.6 L397 92.4 L397.5 92.1 L398 91.8 L398.5 91.5 L399 91.2 L399.5 91 L400 90.9 L400.5 90.9 L401 91.1 L401.5 91.3 L402 91.6 L402.5 92 L403 92.3 L403.5 92.7 L404 92.9 L404.5 93.1 L405 93.1 L405.5 93.1 L406 92.9 L406.5 92.7 L407 92.4 L407.5 92.1 L408 91.8 L408.5 91.6 L409 91.5 L409.5 91.5 L410 91.6 L410.5 91.7 L411 92 L411.5 92.3 L412 92.6 L412.5 93 L413 93.2 L413.5 93.4 L414 93.5 L414.5 93.5 L415 93.4 L415.5 93.2 L416 93 L416.5 92.7 L417 92.4 L417.5 92.2 L418 92.1 L418.5 92 L419 92.1 L419.5 92.2 L420 92.4 L420.5 92.7 L421 93 L421.5 93.3 L422 93.5 L422.5 93.7 L423 93.8 L423.5 93.9 L424 93.8 L424.5 93.7 L425 93.5 L425.5 93.2 L426 93 L426.5 92.8 L427 92.6 L427.5 92.6 L428 92.6 L428.5 92.6 L429 92.8 L429.5 93 L430 93.3 L430.5 93.6 L431 93.8 L431.5 94.1 L432 94.2 L432.5 94.3 L433 94.2 L433.5 94.1 L434 94 L434.5 93.8 L435 93.6 L435.5 93.3 L436 93.2 L436.5 93.1 L437 93 L437.5 93.1 L438 93.2 L438.5 93.4 L439 93.7 L439.5 93.9 L440 94.2 L440.5 94.4 L441 94.5 L441.5 94.6 L442 94.6 L442.5 94.6 L443 94.4 L443.5 94.3 L444 94.1 L444.5 93.9 L445 93.7 L445.5 93.6 L446 93.5 L446.5 93.6 L447 93.6 L447.5 93.8 L448 94 L448.5 94.2 L449 94.5 L449.5 94.7 L450 94.9 L450.5 95 L451 95 L451.5 95 L452 94.9 L452.5 94.8 L453 94.6 L453.5 94.4 L454 94.2 L454.5 94.1 L455 94 L455.5 94 L456 94.1 L456.5 94.2 L457 94.4 L457.5 94.6 L458 94.8 L458.5 95 L459 95.2 L459.5 95.3 L460 95.4 L460.5 95.4 L461 95.3 L461.5 95.2 L462 95.1 L462.5 94.9 L463 94.7 L463.5 94.6 L464 94.5 L464.5 94.5 L465 94.5 L465.5 94.6 L466 94.7 L466.5 94.9 L467 95.1 L467.5 95.3 L468 95.5 L468.5 95.7 L469 95.8 L469.5 95.8 L470 95.7 L470.5 95.7 L471 95.5 L471.5 95.4 L472 95.2 L472.5 95.1 L473 95 L473.5 94.9 L474 94.9 L474.5 95 L475 95.1 L475.5 95.3 L476 95.5 L476.5 95.7 L477 95.8 L477.5 96 L478 96.1 L478.5 96.2 L479 96.2 L479.5 96.1 L480 96 L480.5 95.8 L481 95.7 L481.5 95.5 L482 95.4 L482.5 95.4 L483 95.3" fill="none" stroke="#EDB120" stroke-width="2.1" stroke-linejoin="round" stroke-linecap="round" />
<path d="M164.3 103.4 L483 103.4" fill="none" stroke="#00FFFF" stroke-width="1.7000000000000002" stroke-linejoin="round" stroke-linecap="round" />
<path d="M164.3 103.5 L164.4 102.6 L164.6 101.4 L164.8 99.8 L165 97.7 L165.2 95 L165.4 90.7 L165.5 84.8 L165.6 78.9 L165.8 74.5 L165.9 73 L166.1 75.2 L166.2 80.1 L166.4 86.6 L166.5 93.6 L166.7 100 L166.9 106.2 L167 112.9 L167.2 119.5 L167.4 125.4 L167.5 130 L167.6 133.2 L167.7 135.4 L167.9 136.7 L168 137.2 L168.1 137 L168.2 136 L168.4 134.2 L168.6 131.6 L168.7 128.5 L168.9 125 L169.1 120.6 L169.2 115.3 L169.4 109.6 L169.6 104.3 L169.8 100 L170 96.6 L170.3 93.5 L170.5 91.1 L170.8 89.6 L171 89 L171.2 89.8 L171.4 92 L171.6 94.8 L171.8 97.6 L172 100 L172.2 102 L172.4 104 L172.6 105.9 L172.8 107.3 L173 108 L173.3 107.8 L173.6 106.8 L173.9 105.4 L174.2 104 L174.5 103 L174.8 102.3 L175.1 101.8 L175.4 101.3 L175.7 101.1 L176 101 L176.4 101.3 L176.7 101.8 L177.1 102.5 L177.5 103.2 L178 103.6 L178.6 103.7 L179.3 103.7 L180 103.5 L180.6 103.4 L181 103.3" fill="none" stroke="#FF00FF" stroke-width="2.6" stroke-linejoin="round" stroke-linecap="round" />
<path d="M164.3 103.5 L164.5 103.3 L164.6 102.8 L164.8 102.1 L164.9 101.2 L165.1 100.4 L165.3 99.7 L165.4 99.2 L165.6 99 L166 99.7 L166.4 101.6 L166.8 104.6 L167.2 108 L167.6 111.4 L168 114.4 L168.4 116.3 L168.8 117 L169.2 116.1 L169.7 113.4 L170.1 109.4 L170.5 104.8 L170.9 100.1 L171.3 96.1 L171.8 93.4 L172.2 92.5 L172.6 93.3 L172.9 95.7 L173.3 99.3 L173.7 103.5 L174.1 107.7 L174.4 111.3 L174.8 113.7 L175.2 114.5 L175.6 113.9 L176 112.1 L176.4 109.4 L176.8 106.2 L177.3 103.1 L177.7 100.4 L178.1 98.6 L178.5 98 L179 98.4 L179.6 99.5 L180.1 101.1 L180.7 103 L181.2 104.9 L181.7 106.5 L182.3 107.6 L182.8 108 L183.3 107.8 L183.7 107 L184.2 106 L184.7 104.8 L185.1 103.5 L185.6 102.5 L186 101.7 L186.5 101.5 L186.9 101.6 L187.4 102 L187.8 102.6 L188.2 103.2 L188.7 103.9 L189.1 104.5 L189.6 104.9 L190 105 L190.5 104.9 L191 104.7 L191.5 104.4 L192 104 L192.5 103.6 L193 103.3 L193.5 103.1 L194 103 L230.1 103 L266.2 103.1 L302.4 103.2 L338.5 103.3 L374.6 103.4 L410.8 103.5 L446.9 103.6 L483 103.6" fill="none" stroke="#FFFF00" stroke-width="2.1" stroke-linejoin="round" stroke-linecap="round" />
<path d="M164.3 102.5 L164.4 102 L164.6 101.4 L164.7 100.7 L164.9 99.8 L165.1 98.9 L165.4 98 L165.6 97 L165.8 96 L166 94.9 L166.2 93.8 L166.4 92.5 L166.7 91.2 L166.9 89.9 L167.1 88.7 L167.4 87.5 L167.6 86.5 L167.9 85.6 L168.1 84.7 L168.4 83.8 L168.7 83 L169 82.3 L169.3 81.7 L169.5 81.1 L169.8 80.6 L170 80.2 L170.3 79.9 L170.5 79.7 L170.7 79.6 L171 79.5 L171.2 79.4 L171.4 79.4 L171.7 79.4 L172 79.4 L172.2 79.5 L172.5 79.6 L172.8 79.7 L173.1 79.9 L173.4 80.1 L173.7 80.4 L174 80.6 L174.3 80.9 L174.6 81.2 L174.9 81.5 L175.2 81.9 L175.6 82.2 L176 82.6 L176.5 83.1 L177 83.5 L177.6 84 L178.2 84.5 L178.9 85 L179.7 85.5 L180.5 86.1 L181.4 86.6 L182.3 87.2 L183.4 87.7 L184.6 88.2 L185.8 88.8 L187.1 89.3 L188.5 89.8 L190 90.4 L191.6 90.9 L193.2 91.3 L195 91.7 L196.8 92 L198.7 92.3 L200.7 92.5 L202.8 92.7 L205 92.8 L207.4 93 L209.9 93.2 L212.6 93.5 L215.5 93.8 L218.7 94.2 L222 94.5 L225.5 94.9 L229.1 95.3 L232.7 95.7 L236.4 96 L240 96.4 L243.6 96.7 L247.3 97.1 L251.1 97.4 L254.8 97.8 L258.6 98.1 L262.4 98.4 L266.2 98.7 L270 99 L273.7 99.3 L277.3 99.6 L280.8 99.8 L284.4 100.1 L288 100.3 L291.8 100.6 L295.8 100.8 L300 101 L304.4 101.2 L308.8 101.4 L313.4 101.6 L318.1 101.7 L323.1 101.9 L328.4 102 L334 102.2 L340 102.3 L346.4 102.4 L353.1 102.5 L360 102.6 L367.3 102.6 L374.9 102.7 L382.9 102.7 L391.3 102.8 L400 102.8 L409.8 102.8 L421.1 102.9 L433.1 102.9 L445.2 102.9 L456.9 103 L467.5 103 L476.4 103 L483 103" fill="none" stroke="#00FF00" stroke-width="2.1" stroke-linejoin="round" stroke-linecap="round" />
<path d="M164.6 108.5 L165.2 104 L166.5 102.6 L483 102.4" fill="none" stroke="#FF0000" stroke-width="2.1" stroke-linejoin="round" stroke-linecap="round" />
<path d="M164.3 103.2 L164.4 103.1 L164.5 103 L164.6 102.9 L164.8 102.8 L165 102.7 L165.1 102.5 L165.3 102.3 L165.5 102 L165.7 101.7 L165.9 101.3 L166.1 100.9 L166.4 100.4 L166.6 100 L166.8 99.5 L167.1 99 L167.3 98.5 L167.5 98 L167.8 97.5 L168 96.9 L168.2 96.4 L168.5 95.8 L168.7 95.3 L169 94.8 L169.2 94.4 L169.4 94 L169.7 93.7 L169.9 93.3 L170.2 93 L170.4 92.7 L170.6 92.5 L170.9 92.4 L171.1 92.3 L171.3 92.3 L171.5 92.4 L171.7 92.5 L171.9 92.7 L172.1 93 L172.3 93.2 L172.6 93.5 L172.8 93.8 L173 94.1 L173.3 94.5 L173.6 94.9 L173.9 95.3 L174.1 95.7 L174.4 96.1 L174.7 96.5 L175 96.8 L175.3 97.1 L175.6 97.3 L175.8 97.5 L176.1 97.7 L176.4 97.9 L176.7 98.1 L177.1 98.3 L177.5 98.4 L178 98.5 L178.4 98.7 L179 98.8 L179.5 98.9 L180.1 98.9 L180.7 99 L181.4 99.1 L182 99.1 L182.6 99.1 L183.3 99.1 L183.9 99.1 L184.5 99 L185.2 98.9 L186 98.9 L187 98.9 L188 98.9 L189 98.9 L189.9 99 L190.8 99.1 L191.9 99.2 L193.2 99.2 L194.9 99.4 L197.1 99.5 L200 99.6 L203.6 99.7 L207.8 99.9 L212.5 100.1 L217.6 100.3 L223 100.5 L228.6 100.6 L234.3 100.8 L240 101 L245.8 101.2 L252 101.3 L258.5 101.5 L265 101.7 L271.5 101.9 L278 102 L284.2 102.2 L290 102.3 L294.7 102.4 L298.1 102.6 L300.8 102.7 L303.6 102.8 L307.2 102.9 L312.3 103 L319.7 103 L330 103.1 L344.8 103.1 L363.9 103.2 L385.8 103.2 L409 103.2 L431.9 103.2 L452.9 103.2 L470.4 103.2 L483 103.2" fill="none" stroke="#0000FF" stroke-width="2.1" stroke-linejoin="round" stroke-linecap="round" />
</g>
<rect x="164.2" y="3.6" width="318.5" height="199.8" fill="none" stroke="#6a6a6a" stroke-width="1.1"/>
<line x1="222.5" y1="203.4" x2="222.5" y2="200.2" stroke="#262626" stroke-width="1"/>
<line x1="222.5" y1="3.6" x2="222.5" y2="6.8" stroke="#262626" stroke-width="1"/>
<line x1="287.5" y1="203.4" x2="287.5" y2="200.2" stroke="#262626" stroke-width="1"/>
<line x1="287.5" y1="3.6" x2="287.5" y2="6.8" stroke="#262626" stroke-width="1"/>
<line x1="352.5" y1="203.4" x2="352.5" y2="200.2" stroke="#262626" stroke-width="1"/>
<line x1="352.5" y1="3.6" x2="352.5" y2="6.8" stroke="#262626" stroke-width="1"/>
<line x1="417.5" y1="203.4" x2="417.5" y2="200.2" stroke="#262626" stroke-width="1"/>
<line x1="417.5" y1="3.6" x2="417.5" y2="6.8" stroke="#262626" stroke-width="1"/>
<line x1="164.2" y1="53.5" x2="167.4" y2="53.5" stroke="#262626" stroke-width="1"/>
<line x1="482.7" y1="53.5" x2="479.5" y2="53.5" stroke="#262626" stroke-width="1"/>
<line x1="164.2" y1="103.5" x2="167.4" y2="103.5" stroke="#262626" stroke-width="1"/>
<line x1="482.7" y1="103.5" x2="479.5" y2="103.5" stroke="#262626" stroke-width="1"/>
<line x1="164.2" y1="153.5" x2="167.4" y2="153.5" stroke="#262626" stroke-width="1"/>
<line x1="482.7" y1="153.5" x2="479.5" y2="153.5" stroke="#262626" stroke-width="1"/>
<text x="159.4" y="8.9" font-family='"Liberation Sans", Arial, Helvetica, sans-serif' font-weight="bold" font-size="12.4" text-anchor="end" fill="#262626" >0.01</text>
<text x="159.4" y="58.1" font-family='"Liberation Sans", Arial, Helvetica, sans-serif' font-weight="bold" font-size="12.4" text-anchor="end" fill="#262626" >0.005</text>
<text x="159.4" y="108.1" font-family='"Liberation Sans", Arial, Helvetica, sans-serif' font-weight="bold" font-size="12.4" text-anchor="end" fill="#262626" >0</text>
<text x="159.4" y="158.1" font-family='"Liberation Sans", Arial, Helvetica, sans-serif' font-weight="bold" font-size="12.4" text-anchor="end" fill="#262626" >-0.005</text>
<text x="159.4" y="208.1" font-family='"Liberation Sans", Arial, Helvetica, sans-serif' font-weight="bold" font-size="12.4" text-anchor="end" fill="#262626" >-0.01</text>
<text x="222.4" y="220" font-family='"Liberation Sans", Arial, Helvetica, sans-serif' font-weight="bold" font-size="12.4" text-anchor="middle" fill="#262626" >10</text>
<text x="287.4" y="220" font-family='"Liberation Sans", Arial, Helvetica, sans-serif' font-weight="bold" font-size="12.4" text-anchor="middle" fill="#262626" >20</text>
<text x="352.4" y="220" font-family='"Liberation Sans", Arial, Helvetica, sans-serif' font-weight="bold" font-size="12.4" text-anchor="middle" fill="#262626" >30</text>
<text x="417.4" y="220" font-family='"Liberation Sans", Arial, Helvetica, sans-serif' font-weight="bold" font-size="12.4" text-anchor="middle" fill="#262626" >40</text>
<text x="482.4" y="220" font-family='"Liberation Sans", Arial, Helvetica, sans-serif' font-weight="bold" font-size="12.4" text-anchor="middle" fill="#262626" >50</text>
<rect x="487.5" y="80.2" width="184.6" height="170.1" fill="#fff" stroke="#262626" stroke-width="1.1"/>
<line x1="492.3" y1="90.1" x2="537.3" y2="90.1" stroke="#7E2F8E" stroke-width="3"/>
<text font-family='"Liberation Sans", Arial, Helvetica, sans-serif' font-weight="bold" fill="#262626"><tspan x="541.4" y="94.7" font-size="12.5">PID-PSO</tspan></text>
<line x1="492.3" y1="106.4" x2="537.3" y2="106.4" stroke="#77AC30" stroke-width="3"/>
<text font-family='"Liberation Sans", Arial, Helvetica, sans-serif' font-weight="bold" fill="#262626"><tspan x="541.4" y="111" font-size="12.5">PID-GTO</tspan></text>
<line x1="492.3" y1="122.8" x2="537.3" y2="122.8" stroke="#EDB120" stroke-width="3"/>
<text font-family='"Liberation Sans", Arial, Helvetica, sans-serif' font-weight="bold" fill="#262626"><tspan x="541.4" y="127.4" font-size="12.5">PID-MPA</tspan></text>
<line x1="492.3" y1="140.5" x2="537.3" y2="140.5" stroke="#00FFFF" stroke-width="3"/>
<text font-family='"Liberation Sans", Arial, Helvetica, sans-serif' font-weight="bold" fill="#262626"><tspan x="541.4" y="147.4" font-size="12.5">PIDD</tspan><tspan x="571.7" y="141.5" font-size="9.4" stroke="#262626" stroke-width="0.35">2</tspan><tspan x="577.3" y="147.4" font-size="12.5">-PSO</tspan></text>
<line x1="492.3" y1="160.4" x2="537.3" y2="160.4" stroke="#FF00FF" stroke-width="3"/>
<text font-family='"Liberation Sans", Arial, Helvetica, sans-serif' font-weight="bold" fill="#262626"><tspan x="541.4" y="167.3" font-size="12.5">PIDD</tspan><tspan x="571.7" y="161.4" font-size="9.4" stroke="#262626" stroke-width="0.35">2</tspan><tspan x="577.3" y="167.3" font-size="12.5">-GTO</tspan></text>
<line x1="492.3" y1="180.3" x2="537.3" y2="180.3" stroke="#FFFF00" stroke-width="3"/>
<text font-family='"Liberation Sans", Arial, Helvetica, sans-serif' font-weight="bold" fill="#262626"><tspan x="541.4" y="187.2" font-size="12.5">PIDD</tspan><tspan x="571.7" y="181.3" font-size="9.4" stroke="#262626" stroke-width="0.35">2</tspan><tspan x="577.3" y="187.2" font-size="12.5">-MPA</tspan></text>
<line x1="492.3" y1="199.7" x2="537.3" y2="199.7" stroke="#00FF00" stroke-width="3"/>
<text font-family='"Liberation Sans", Arial, Helvetica, sans-serif' font-weight="bold" fill="#262626"><tspan x="541.4" y="207" font-size="12.5">(FPIDD</tspan><tspan x="584.1" y="201.1" font-size="9.4" stroke="#262626" stroke-width="0.35">2</tspan><tspan x="589.1" y="207" font-size="12.5">+PIDD</tspan><tspan x="626.7" y="201.1" font-size="9.4" stroke="#262626" stroke-width="0.35">2</tspan><tspan x="632.2" y="207" font-size="12.5">)-PSO</tspan></text>
<line x1="492.3" y1="219.3" x2="537.3" y2="219.3" stroke="#FF0000" stroke-width="3"/>
<text font-family='"Liberation Sans", Arial, Helvetica, sans-serif' font-weight="bold" fill="#262626"><tspan x="541.4" y="226.6" font-size="12.5">(FPIDD</tspan><tspan x="584.1" y="220.7" font-size="9.4" stroke="#262626" stroke-width="0.35">2</tspan><tspan x="589.1" y="226.6" font-size="12.5">+PIDD</tspan><tspan x="626.7" y="220.7" font-size="9.4" stroke="#262626" stroke-width="0.35">2</tspan><tspan x="632.2" y="226.6" font-size="12.5">)-GTO</tspan></text>
<line x1="492.3" y1="238.9" x2="537.3" y2="238.9" stroke="#0000FF" stroke-width="3"/>
<text font-family='"Liberation Sans", Arial, Helvetica, sans-serif' font-weight="bold" fill="#262626"><tspan x="541.4" y="246.2" font-size="12.5">(FPIDD</tspan><tspan x="584.1" y="240.3" font-size="9.4" stroke="#262626" stroke-width="0.35">2</tspan><tspan x="589.1" y="246.2" font-size="12.5">+PIDD</tspan><tspan x="626.7" y="240.3" font-size="9.4" stroke="#262626" stroke-width="0.35">2</tspan><tspan x="632.2" y="246.2" font-size="12.5">)-MPA</tspan></text>
<ellipse cx="106.5" cy="226.2" rx="18.3" ry="19.7" fill="none" stroke="#111" stroke-width="1.3"/>
<line x1="121.7" y1="210.4" x2="153.5" y2="178.2" stroke="#111" stroke-width="1.55"/>
<path d="M160.2 171.4 L156.1 182.1 L149.5 175.6Z" fill="#111"/>
<text x="371.4" y="507.5" font-family='"Liberation Serif", "Times New Roman", Times, serif' font-weight="normal" font-size="15" text-anchor="middle" fill="#111" >(c)</text>
<defs><clipPath id="clipD"><rect x="95.1" y="545.1" width="582.6" height="364.6"/></clipPath></defs>
<line x1="192.2" y1="545.6" x2="192.2" y2="909.2" stroke="#DFDFDF" stroke-width="1"/>
<line x1="288.9" y1="545.6" x2="288.9" y2="909.2" stroke="#DFDFDF" stroke-width="1"/>
<line x1="385.5" y1="545.6" x2="385.5" y2="909.2" stroke="#DFDFDF" stroke-width="1"/>
<line x1="482.1" y1="545.6" x2="482.1" y2="909.2" stroke="#DFDFDF" stroke-width="1"/>
<line x1="578.8" y1="545.6" x2="578.8" y2="909.2" stroke="#DFDFDF" stroke-width="1"/>
<line x1="95.6" y1="586" x2="675.4" y2="586" stroke="#DFDFDF" stroke-width="1"/>
<line x1="95.6" y1="626.4" x2="675.4" y2="626.4" stroke="#DFDFDF" stroke-width="1"/>
<line x1="95.6" y1="666.8" x2="675.4" y2="666.8" stroke="#DFDFDF" stroke-width="1"/>
<line x1="95.6" y1="707.2" x2="675.4" y2="707.2" stroke="#DFDFDF" stroke-width="1"/>
<line x1="95.6" y1="747.6" x2="675.4" y2="747.6" stroke="#DFDFDF" stroke-width="1"/>
<line x1="95.6" y1="788" x2="675.4" y2="788" stroke="#DFDFDF" stroke-width="1"/>
<line x1="95.6" y1="828.4" x2="675.4" y2="828.4" stroke="#DFDFDF" stroke-width="1"/>
<line x1="95.6" y1="868.8" x2="675.4" y2="868.8" stroke="#DFDFDF" stroke-width="1"/>
<line x1="95.6" y1="545.6" x2="95.6" y2="909.7" stroke="#262626" stroke-width="1.0"/>
<line x1="675.4" y1="545.6" x2="675.4" y2="909.7" stroke="#262626" stroke-width="1.0"/>
<line x1="95.1" y1="545.6" x2="675.9" y2="545.6" stroke="#262626" stroke-width="1.1"/>
<line x1="95.1" y1="909.2" x2="675.9" y2="909.2" stroke="#262626" stroke-width="1.2"/>
<line x1="192.2" y1="909.2" x2="192.2" y2="903.4" stroke="#262626" stroke-width="1"/>
<line x1="192.2" y1="545.6" x2="192.2" y2="551.4" stroke="#262626" stroke-width="1"/>
<line x1="288.9" y1="909.2" x2="288.9" y2="903.4" stroke="#262626" stroke-width="1"/>
<line x1="288.9" y1="545.6" x2="288.9" y2="551.4" stroke="#262626" stroke-width="1"/>
<line x1="385.5" y1="909.2" x2="385.5" y2="903.4" stroke="#262626" stroke-width="1"/>
<line x1="385.5" y1="545.6" x2="385.5" y2="551.4" stroke="#262626" stroke-width="1"/>
<line x1="482.1" y1="909.2" x2="482.1" y2="903.4" stroke="#262626" stroke-width="1"/>
<line x1="482.1" y1="545.6" x2="482.1" y2="551.4" stroke="#262626" stroke-width="1"/>
<line x1="578.8" y1="909.2" x2="578.8" y2="903.4" stroke="#262626" stroke-width="1"/>
<line x1="578.8" y1="545.6" x2="578.8" y2="551.4" stroke="#262626" stroke-width="1"/>
<line x1="675.4" y1="586" x2="669.6" y2="586" stroke="#262626" stroke-width="1"/>
<line x1="95.6" y1="586" x2="101.4" y2="586" stroke="#262626" stroke-width="1"/>
<line x1="675.4" y1="626.4" x2="669.6" y2="626.4" stroke="#262626" stroke-width="1"/>
<line x1="95.6" y1="626.4" x2="101.4" y2="626.4" stroke="#262626" stroke-width="1"/>
<line x1="675.4" y1="666.8" x2="669.6" y2="666.8" stroke="#262626" stroke-width="1"/>
<line x1="95.6" y1="666.8" x2="101.4" y2="666.8" stroke="#262626" stroke-width="1"/>
<line x1="675.4" y1="707.2" x2="669.6" y2="707.2" stroke="#262626" stroke-width="1"/>
<line x1="95.6" y1="707.2" x2="101.4" y2="707.2" stroke="#262626" stroke-width="1"/>
<line x1="675.4" y1="747.6" x2="669.6" y2="747.6" stroke="#262626" stroke-width="1"/>
<line x1="95.6" y1="747.6" x2="101.4" y2="747.6" stroke="#262626" stroke-width="1"/>
<line x1="675.4" y1="788" x2="669.6" y2="788" stroke="#262626" stroke-width="1"/>
<line x1="95.6" y1="788" x2="101.4" y2="788" stroke="#262626" stroke-width="1"/>
<line x1="675.4" y1="828.4" x2="669.6" y2="828.4" stroke="#262626" stroke-width="1"/>
<line x1="95.6" y1="828.4" x2="101.4" y2="828.4" stroke="#262626" stroke-width="1"/>
<line x1="675.4" y1="868.8" x2="669.6" y2="868.8" stroke="#262626" stroke-width="1"/>
<line x1="95.6" y1="868.8" x2="101.4" y2="868.8" stroke="#262626" stroke-width="1"/>
<g clip-path="url(#clipD)">
<path d="M96.6 868.8 L96.9 850.1 L97.1 799.1 L97.4 729.4 L97.7 659.7 L97.9 608.7 L98.2 590 L98.5 593.3 L98.9 602.5 L99.2 615 L99.5 627.5 L99.9 636.7 L100.2 640 L100.8 644.6 L101.3 657 L101.9 674 L102.5 691 L103 703.4 L103.6 708 L104 702.8 L104.3 688.6 L104.7 669.1 L105.1 649.7 L105.4 635.5 L105.8 630.3 L106.2 634.2 L106.5 644.7 L106.8 659.1 L107.2 673.6 L107.6 684.1 L107.9 688 L108.2 685.7 L108.5 679.5 L108.8 671 L109.2 662.5 L109.5 656.3 L109.8 654 L110.1 655.4 L110.4 659.2 L110.7 664.5 L111 669.8 L111.3 673.6 L111.6 675 L111.9 674.1 L112.3 671.8 L112.6 668.5 L112.9 665.2 L113.3 662.9 L113.6 662 L114 662.5 L114.4 663.8 L114.8 665.5 L115.2 667.2 L115.6 668.5 L116 669 L116.5 668.8 L117 668.2 L117.5 667.4 L118 666.6 L118.5 666 L119 665.8 L119.8 665.9 L120.7 666.1 L121.5 666.4 L122.3 666.8 L123.2 667 L124 667.1 L153.3 667.1 L182.7 667.1 L212 667.1 L241.3 667.1 L270.7 667.1 L300 667.1" fill="none" stroke="#7E2F8E" stroke-width="3.0" stroke-linejoin="round" stroke-linecap="round" />
<path d="M96.6 868.8 L96.9 849.5 L97.1 796.6 L97.4 724.4 L97.7 652.2 L97.9 599.3 L98.2 580 L98.6 584.7 L99 597.5 L99.4 615 L99.8 632.5 L100.2 645.3 L100.6 650 L100.9 652.8 L101.3 660.5 L101.6 671 L101.9 681.5 L102.3 689.2 L102.6 692 L103.1 689 L103.6 680.7 L104 669.4 L104.5 658 L105 649.7 L105.5 646.7 L105.9 649.2 L106.3 656 L106.8 665.4 L107.2 674.7 L107.6 681.5 L108 684 L108.4 682.2 L108.9 677.2 L109.3 670.5 L109.7 663.8 L110.2 658.8 L110.6 657 L111 658.1 L111.4 661 L111.8 665 L112.3 669 L112.7 671.9 L113.1 673 L113.5 672.3 L113.9 670.4 L114.3 667.8 L114.8 665.1 L115.2 663.2 L115.6 662.5 L116 662.9 L116.4 664 L116.8 665.5 L117.2 667.1 L117.6 668.2 L118 668.6 L118.5 668.4 L119 667.9 L119.5 667.2 L120 666.5 L120.5 666 L121 665.8 L121.7 665.9 L122.3 666.1 L123 666.4 L123.7 666.7 L124.3 666.9 L125 667 L154.2 667 L183.3 667 L212.5 667 L241.7 667 L270.8 667 L300 667" fill="none" stroke="#77AC30" stroke-width="3.0" stroke-linejoin="round" stroke-linecap="round" />
<path d="M96.6 868.8 L97 850.8 L97.5 801.6 L97.9 734.4 L98.3 667.2 L98.8 618 L99.2 600 L99.5 597.9 L99.7 592.3 L100 584.6 L100.2 577 L100.5 571.4 L100.7 569.3 L100.9 574 L101.2 587 L101.4 604.6 L101.6 622.3 L101.9 635.3 L102.1 640 L102.3 643.6 L102.5 653.5 L102.7 667 L102.9 680.5 L103.1 690.4 L103.3 694 L103.6 691.1 L103.9 683 L104.2 672 L104.4 661 L104.7 652.9 L105 650 L105.3 651.9 L105.7 657.2 L106 664.5 L106.3 671.8 L106.7 677.1 L107 679 L107.3 677.7 L107.7 674.2 L108 669.5 L108.3 664.8 L108.7 661.3 L109 660 L109.3 660.7 L109.7 662.6 L110 665.2 L110.3 667.9 L110.7 669.8 L111 670.5 L111.3 670.1 L111.7 669 L112 667.6 L112.3 666.1 L112.7 665 L113 664.6 L113.5 664.8 L114 665.3 L114.5 666 L115 666.7 L115.5 667.2 L116 667.4 L116.7 667.4 L117.3 667.2 L118 667.1 L118.7 667 L119.3 666.8 L120 666.8 L150 666.8 L180 666.8 L210 666.8 L240 666.8 L270 666.8 L300 666.8" fill="none" stroke="#EDB120" stroke-width="3.0" stroke-linejoin="round" stroke-linecap="round" />
<path d="M96.6 868.8 L97 850.1 L97.4 799.1 L97.8 729.4 L98.2 659.7 L98.6 608.7 L99 590 L99.4 593.7 L99.7 603.8 L100.1 617.5 L100.5 631.2 L100.8 641.3 L101.2 645 L101.6 646.8 L102 651.8 L102.4 658.5 L102.8 665.2 L103.2 670.2 L103.6 672 L104 671.2 L104.4 669 L104.8 666 L105.2 663 L105.6 660.8 L106 660 L106.4 660.6 L106.9 662.2 L107.3 664.4 L107.7 666.6 L108.2 668.2 L108.6 668.8 L109 668.4 L109.4 667.5 L109.8 666.1 L110.2 664.8 L110.6 663.9 L111 663.5 L111.5 663.8 L112 664.5 L112.5 665.5 L113 666.6 L113.5 667.3 L114 667.6 L114.7 667.5 L115.3 667.4 L116 667.2 L116.7 667 L117.3 666.9 L118 666.8 L148.3 666.8 L178.7 666.8 L209 666.8 L239.3 666.8 L269.7 666.8 L300 666.8" fill="none" stroke="#00FFFF" stroke-width="2.8" stroke-linejoin="round" stroke-linecap="round" />
<path d="M96.6 868.8 L97 850.8 L97.3 801.6 L97.7 734.4 L98.1 667.2 L98.4 618 L98.8 600 L99.2 604 L99.5 615 L99.9 630 L100.3 645 L100.6 656 L101 660 L101.3 660.7 L101.7 662.5 L102 665 L102.3 667.5 L102.7 669.3 L103 670 L103.5 669.7 L104 669.1 L104.5 668.1 L105 667.2 L105.5 666.5 L106 666.2 L106.7 666.3 L107.3 666.4 L108 666.6 L108.7 666.8 L109.3 666.9 L110 667" fill="none" stroke="#FF00FF" stroke-width="2.4" stroke-linejoin="round" stroke-linecap="round" />
<path d="M96.6 868.8 L97.1 849.8 L97.6 797.9 L98.1 726.9 L98.6 656 L99.1 604 L99.6 585 L99.9 586.7 L100.3 591.2 L100.6 597.5 L100.9 603.8 L101.3 608.3 L101.6 610 L101.8 613.3 L102.1 622.5 L102.3 635 L102.6 647.5 L102.8 656.7 L103.1 660 L103.3 660.9 L103.5 663.2 L103.7 666.5 L103.8 669.8 L104 672.1 L104.2 673 L104.5 672.4 L104.9 670.6 L105.2 668.3 L105.5 666 L105.9 664.2 L106.2 663.6 L106.5 663.9 L106.8 664.6 L107.1 665.6 L107.4 666.6 L107.7 667.3 L108 667.6 L108.7 667.5 L109.3 667.4 L110 667.2 L110.7 667 L111.3 666.9 L112 666.8 L143.3 666.8 L174.7 666.8 L206 666.8 L237.3 666.8 L268.7 666.8 L300 666.8" fill="none" stroke="#FFFF00" stroke-width="2.8" stroke-linejoin="round" stroke-linecap="round" />
<path d="M96.6 868.8 L97 843.1 L97.3 775.9 L97.7 692.9 L98 625.7 L98.4 600 L98.8 604.3 L99.2 615.5 L99.6 629.5 L100 640.7 L100.4 645 L100.8 648.7 L101.1 658.5 L101.5 670.5 L101.8 680.3 L102.2 684 L102.4 682.8 L102.5 679.8 L102.7 676 L102.8 672.9 L103 671.7 L103 671.7 L103.5 669.9 L104 668 L104.5 666.1 L105 664.2 L105.5 662.3 L106 660.6 L106.5 659.1 L107 657.7 L107.5 656.6 L108 655.7 L108.5 655.4 L109 655.4 L109.5 655.7 L110 656.3 L110.5 657.1 L111 658.1 L111.5 659.3 L112 660.6 L112.5 662.1 L113 663.6 L113.5 665.1 L114 666.5 L114.5 667.9 L115 669.2 L115.5 670.4 L116 671.5 L116.5 672.3 L117 673 L117.5 673.5 L118 673.8 L118.5 673.9 L119 673.8 L119.5 673.6 L120 673.1 L120.5 672.6 L121 671.9 L121.5 671.1 L122 670.2 L122.5 669.3 L123 668.4 L123.5 667.5 L124 666.6 L124.5 665.7 L125 664.9 L125.5 664.3 L126 663.7 L126.5 663.2 L127 662.8 L127.5 662.5 L128 662.4 L128.5 662.4 L129 662.5 L129.5 662.7 L130 663 L130.5 663.4 L131 663.9 L131.5 664.4 L132 664.9 L132.5 665.5 L133 666.1 L133.5 666.6 L134 667.2 L134.5 667.7 L135 668.1 L135.5 668.6 L136 668.9 L136.5 669.2 L137 669.4 L137.5 669.5 L138 669.5 L138.5 669.5 L139 669.4 L139.5 669.3 L140 669 L140.5 668.8 L141 668.5 L141.5 668.2 L142 667.8 L142.5 667.5 L143 667.1 L143.5 666.8 L144 666.4 L144.5 666.1 L145 665.8 L145.5 665.6 L146 665.4 L146.5 665.3 L147 665.2 L147.5 665.1 L148 665.1 L148.5 665.1 L149 665.2 L149.5 665.3 L150 665.5 L150.5 665.6 L151 665.8 L151.5 666 L152 666.3 L152.5 666.5 L153 666.7 L153.5 666.9 L154 667.1 L154.5 667.3 L155 667.5 L155.5 667.6 L156 667.7 L156.5 667.8 L157 667.8 L157.5 667.9 L158 667.8 L158.5 667.8 L159 667.8 L159.5 667.7 L160 667.6 L160.5 667.5 L161 667.3 L161.5 667.2 L162 667.1 L162.5 666.9 L163 666.8 L163.5 666.7 L164 666.6 L164.5 666.4 L165 666.4 L165.5 666.3 L166 666.2 L166.5 666.2 L167 666.2 L167.5 666.1 L168 666.2 L168.5 666.2 L169 666.2 L169.5 666.3 L170 666.3 L170.5 666.4 L171 666.5 L171.5 666.6 L172 666.7 L172.5 666.8 L173 666.8 L173.5 666.9 L174 667 L174.5 667 L175 667.1 L175.5 667.1 L176 667.2 L176.5 667.2 L177 667.2 L177.5 667.2 L178 667.2 L178.5 667.2 L179 667.1 L179.5 667.1 L180 667.1 L180.5 667 L181 667 L181.5 666.9 L182 666.9 L182.5 666.8 L183 666.8 L183.5 666.7 L184 666.7 L184.5 666.6 L185 666.6 L185.5 666.6 L186 666.6 L186.5 666.6 L187 666.5 L187.5 666.6 L188 666.6 L188.5 666.6 L189 666.6 L189.5 666.6 L190 666.7 L190.5 666.7 L191 666.7 L191.5 666.7 L192 666.8 L192.5 666.8 L193 666.8 L193.5 666.9 L194 666.9 L194.5 666.9 L195 666.9 L195.5 666.9 L196 667 L196.5 667 L197 667 L197.5 667 L198 666.9 L198.5 666.9 L199 666.9 L199.5 666.9 L200 666.9 L200.5 666.9 L201 666.8 L201.5 666.8 L202 666.8 L202.5 666.8 L203 666.8 L203.5 666.8 L204 666.7 L204.5 666.7 L205 666.7 L205.5 666.7 L206 666.7 L206.5 666.7 L207 666.7 L207.5 666.7 L208 666.7 L208.5 666.7 L209 666.7 L209.5 666.7 L210 666.8 L210.5 666.8 L211 666.8 L211.5 666.8 L212 666.8 L212.5 666.8 L213 666.8 L213.5 666.8 L214 666.8 L214.5 666.8 L215 666.9 L215.5 666.9 L216 666.9 L216.5 666.9 L217 666.9 L217.5 666.9 L218 666.9 L218.5 666.8 L219 666.8 L219.5 666.8 L220 666.8 L220.5 666.8 L221 666.8 L221.5 666.8 L222 666.8 L222.5 666.8 L223 666.8 L223.5 666.8 L224 666.8 L224.5 666.8 L225 666.8 L225.5 666.8 L226 666.8 L226.5 666.8 L227 666.8 L227.5 666.8 L228 666.8 L228.5 666.8 L229 666.8 L229.5 666.8 L230 666.8 L230.5 666.8 L231 666.8 L231.5 666.8 L232 666.8 L232.5 666.8 L233 666.8 L233.5 666.8 L234 666.8 L234.5 666.8 L235 666.8 L235.5 666.8 L236 666.8 L236.5 666.8 L237 666.8 L237.5 666.8 L238 666.8 L238.5 666.8 L239 666.8 L239.5 666.8 L240 666.8 L240.5 666.8 L241 666.8 L241.5 666.8 L242 666.8 L242.5 666.8 L243 666.8 L243.5 666.8 L244 666.8 L244.5 666.8 L245 666.8 L245.5 666.8 L246 666.8 L246.5 666.8 L247 666.8 L247.5 666.8 L248 666.8 L248.5 666.8 L249 666.8 L249.5 666.8 L250 666.8 L250.5 666.8 L251 666.8 L251.5 666.8 L252 666.8 L252.5 666.8 L253 666.8 L253.5 666.8 L254 666.8 L254.5 666.8 L255 666.8 L255.5 666.8 L256 666.8 L256.5 666.8 L257 666.8 L257.5 666.8 L258 666.8 L258.5 666.8 L259 666.8 L259.5 666.8 L260 666.8 L260.5 666.8 L261 666.8 L261.5 666.8 L262 666.8 L262.5 666.8 L263 666.8 L263.5 666.8 L264 666.8 L264.5 666.8 L265 666.8 L265.5 666.8 L266 666.8 L266.5 666.8 L267 666.8 L267.5 666.8 L268 666.8 L268.5 666.8 L269 666.8 L269.5 666.8 L270 666.8 L270.5 666.8 L271 666.8 L271.5 666.8 L272 666.8 L272.5 666.8 L273 666.8 L273.5 666.8 L274 666.8 L274.5 666.8 L275 666.8 L275.5 666.8 L276 666.8 L276.5 666.8 L277 666.8 L277.5 666.8 L278 666.8 L278.5 666.8 L279 666.8 L279.5 666.8 L280 666.8 L280.5 666.8 L281 666.8 L281.5 666.8 L282 666.8 L282.5 666.8 L283 666.8 L283.5 666.8 L284 666.8 L284.5 666.8 L285 666.8 L285.5 666.8 L286 666.8 L286.5 666.8 L287 666.8 L287.5 666.8 L288 666.8 L288.5 666.8 L289 666.8 L289.5 666.8 L290 666.8 L290.5 666.8 L291 666.8 L291.5 666.8 L292 666.8 L292.5 666.8 L293 666.8 L293.5 666.8 L294 666.8 L294.5 666.8 L295 666.8 L295.5 666.8 L296 666.8 L296.5 666.8 L297 666.8 L297.5 666.8 L298 666.8 L298.5 666.8 L299 666.8 L299.5 666.8 L300 666.8 L300.5 666.8 L301 666.8 L301.5 666.8 L302 666.8 L302.5 666.8 L303 666.8 L303.5 666.8 L304 666.8 L304.5 666.8 L305 666.8 L305.5 666.8 L306 666.8 L306.5 666.8 L307 666.8 L307.5 666.8 L308 666.8 L308.5 666.8 L309 666.8 L309.5 666.8 L310 666.8 L310.5 666.8 L311 666.8 L311.5 666.8 L312 666.8 L312.5 666.8 L313 666.8 L313.5 666.8 L314 666.8 L314.5 666.8 L315 666.8 L315.5 666.8 L316 666.8 L316.5 666.8 L317 666.8 L317.5 666.8 L318 666.8 L318.5 666.8 L319 666.8 L319.5 666.8 L320 666.8 L320.5 666.8 L321 666.8 L321.5 666.8 L322 666.8 L322.5 666.8 L323 666.8 L323.5 666.8 L324 666.8 L324.5 666.8 L325 666.8 L325.5 666.8 L326 666.8 L326.5 666.8 L327 666.8 L327.5 666.8 L328 666.8 L328.5 666.8 L329 666.8 L329.5 666.8" fill="none" stroke="#00FF00" stroke-width="3.0" stroke-linejoin="round" stroke-linecap="round" />
<path d="M96.6 868.8 L96.9 850.1 L97.1 799.1 L97.4 729.4 L97.7 659.7 L97.9 608.7 L98.2 590 L98.6 594 L99 605 L99.4 620 L99.8 635 L100.2 646 L100.6 650 L100.9 651.2 L101.2 654.6 L101.5 659.2 L101.8 663.9 L102.1 667.3 L102.4 668.5 L102.8 668.4 L103.3 668.1 L103.7 667.7 L104.1 667.2 L104.6 666.9 L105 666.8 L137.5 666.8 L170 666.8 L202.5 666.8 L235 666.8 L267.5 666.8 L300 666.8" fill="none" stroke="#FF0000" stroke-width="2.8" stroke-linejoin="round" stroke-linecap="round" />
<path d="M95.8 870.3 L95.9 600 L96.7 576 L98.3 572.8 L99.9 576 L101.1 600 L101.5 650 L102.6 664 L104 665.2 L104 668.4 L101.6 669 L100.9 700 L100.3 770 L99.6 870.3Z" fill="#0000FF" stroke="none" />
<path d="M101 666.7 L677.6 666.7" fill="none" stroke="#0000FF" stroke-width="3.5" stroke-linejoin="round" stroke-linecap="round" stroke-linecap="butt"/>
</g>
<text x="92.5" y="550.5" font-family='"Liberation Sans", Arial, Helvetica, sans-serif' font-weight="bold" font-size="12.4" text-anchor="end" fill="#262626" >1.6</text>
<text x="92.5" y="590.9" font-family='"Liberation Sans", Arial, Helvetica, sans-serif' font-weight="bold" font-size="12.4" text-anchor="end" fill="#262626" >1.4</text>
<text x="92.5" y="631.3" font-family='"Liberation Sans", Arial, Helvetica, sans-serif' font-weight="bold" font-size="12.4" text-anchor="end" fill="#262626" >1.2</text>
<text x="92.5" y="671.7" font-family='"Liberation Sans", Arial, Helvetica, sans-serif' font-weight="bold" font-size="12.4" text-anchor="end" fill="#262626" >1</text>
<text x="92.5" y="712.1" font-family='"Liberation Sans", Arial, Helvetica, sans-serif' font-weight="bold" font-size="12.4" text-anchor="end" fill="#262626" >0.8</text>
<text x="92.5" y="752.5" font-family='"Liberation Sans", Arial, Helvetica, sans-serif' font-weight="bold" font-size="12.4" text-anchor="end" fill="#262626" >0.6</text>
<text x="92.5" y="792.9" font-family='"Liberation Sans", Arial, Helvetica, sans-serif' font-weight="bold" font-size="12.4" text-anchor="end" fill="#262626" >0.4</text>
<text x="92.5" y="833.3" font-family='"Liberation Sans", Arial, Helvetica, sans-serif' font-weight="bold" font-size="12.4" text-anchor="end" fill="#262626" >0.2</text>
<text x="92.5" y="873.7" font-family='"Liberation Sans", Arial, Helvetica, sans-serif' font-weight="bold" font-size="12.4" text-anchor="end" fill="#262626" >0</text>
<text x="92.5" y="914.1" font-family='"Liberation Sans", Arial, Helvetica, sans-serif' font-weight="bold" font-size="12.4" text-anchor="end" fill="#262626" >-0.2</text>
<text x="95.6" y="924.2" font-family='"Liberation Sans", Arial, Helvetica, sans-serif' font-weight="bold" font-size="12.4" text-anchor="middle" fill="#262626" >0</text>
<text x="192.2" y="924.2" font-family='"Liberation Sans", Arial, Helvetica, sans-serif' font-weight="bold" font-size="12.4" text-anchor="middle" fill="#262626" >50</text>
<text x="288.9" y="924.2" font-family='"Liberation Sans", Arial, Helvetica, sans-serif' font-weight="bold" font-size="12.4" text-anchor="middle" fill="#262626" >100</text>
<text x="385.5" y="924.2" font-family='"Liberation Sans", Arial, Helvetica, sans-serif' font-weight="bold" font-size="12.4" text-anchor="middle" fill="#262626" >150</text>
<text x="482.1" y="924.2" font-family='"Liberation Sans", Arial, Helvetica, sans-serif' font-weight="bold" font-size="12.4" text-anchor="middle" fill="#262626" >200</text>
<text x="578.8" y="924.2" font-family='"Liberation Sans", Arial, Helvetica, sans-serif' font-weight="bold" font-size="12.4" text-anchor="middle" fill="#262626" >250</text>
<text x="675.1" y="924.2" font-family='"Liberation Sans", Arial, Helvetica, sans-serif' font-weight="bold" font-size="12.4" text-anchor="middle" fill="#262626" >300</text>
<text x="385.5" y="940.8" font-family='"Liberation Sans", Arial, Helvetica, sans-serif' font-weight="bold" font-size="13.55" text-anchor="middle" fill="#262626" >Time (Seconds)</text>
<g transform="translate(60.9,760.8) rotate(-90)">
<text x="0" y="0" font-family='"Liberation Sans", Arial, Helvetica, sans-serif' font-weight="bold" font-size="14.3" text-anchor="start" fill="#262626" transform="scale(1,1.04)">V</text>
<text x="9.2" y="5" font-family='"Liberation Sans", Arial, Helvetica, sans-serif' font-weight="bold" font-size="10.8" text-anchor="start" fill="#262626" >out1</text>
<text x="36.8" y="0" font-family='"Liberation Sans", Arial, Helvetica, sans-serif' font-weight="bold" font-size="13.4" text-anchor="start" fill="#262626" >(p.u)</text>
</g>
<rect x="164" y="679.5" width="317.8" height="205.9" fill="#fff"/>
<line x1="243.4" y1="679.5" x2="243.4" y2="885.4" stroke="#DFDFDF" stroke-width="1"/>
<line x1="322.9" y1="679.5" x2="322.9" y2="885.4" stroke="#DFDFDF" stroke-width="1"/>
<line x1="402.4" y1="679.5" x2="402.4" y2="885.4" stroke="#DFDFDF" stroke-width="1"/>
<line x1="164" y1="782.5" x2="481.8" y2="782.5" stroke="#DFDFDF" stroke-width="1"/>
<defs><clipPath id="clipDi"><rect x="164" y="679.5" width="317.8" height="205.9"/></clipPath></defs>
<g clip-path="url(#clipDi)">
<path d="M196 893.4 L200.4 832 L201.2 823.4 L201.5 822.8 L202 823.2 L202.5 823.8 L203 824 L203.5 823.4 L204 822.9 L204.5 822.9 L205 823.6 L205.5 824 L206 823.7 L206.5 823.1 L207 822.8 L207.5 823.2 L208 823.9 L208.5 823.9 L209 823.4 L209.5 822.8 L210 823 L210.5 823.6 L211 824 L211.5 823.7 L212 823 L212.5 822.8 L213 823.3 L213.5 823.9 L214 823.9 L214.5 823.3 L215 822.8 L215.5 823 L216 823.6 L216.5 824 L217 823.6 L217.5 823 L218 822.8 L218.5 823.3 L219 823.9 L219.5 823.9 L220 823.3 L220.5 822.8 L221 823 L221.5 823.7 L222 824 L222.5 823.6 L223 823 L223.5 822.8 L224 823.4 L224.5 823.9 L225 823.9 L225.5 823.2 L226 822.8 L226.5 823.1 L227 823.7 L227.5 824 L228 823.5 L228.5 822.9 L229 822.9 L229.5 823.4 L230 824 L230.5 823.8 L231 823.2 L231.5 822.8 L232 823.1 L232.5 823.8 L233 824 L233.5 823.5 L234 822.9 L234.5 822.9 L235 823.5 L235.5 824 L236 823.8 L236.5 823.1 L237 822.8 L237.5 823.2 L238 823.8 L238.5 824 L239 823.4 L239.5 822.9 L240 822.9 L240.5 823.5 L241 824 L241.5 823.7 L242 823.1 L242.5 822.8 L243 823.2 L243.4 823.4 L243.6 822.2 L243.7 818.8 L243.9 814.2 L244 809.6 L244.2 806.2 L244.3 805 L244.5 800 L244.7 786.5 L244.9 768 L245 749.5 L245.2 736 L245.4 731 L245.6 749 L245.8 798.2 L246.1 865.5 L246.3 893.4 L246.5 893.4 L246.7 893.4 L246.9 893.4 L247.2 893.4 L247.4 893.4 L247.7 893.4 L247.9 893.4 L248.2 893.4 L248.4 893.4 L248.6 888.6 L248.8 877.2 L248.9 865.8 L249.1 857.5 L249.3 854.4 L249.5 853.3 L249.6 850.3 L249.8 846.2 L250 842.1 L250.1 839.1 L250.3 838 L250.5 838.5 L250.6 840 L250.8 842 L251 844 L251.1 845.5 L251.3 846 L251.5 845 L251.7 842.2 L251.9 838.5 L252.1 834.8 L252.3 832 L252.5 831 L252.7 831.4 L252.8 832.4 L253 833.8 L253.2 835.1 L253.3 836.1 L253.5 836.5 L253.8 835.9 L254 834.2 L254.2 832 L254.5 829.8 L254.8 828.1 L255 827.5 L255.2 827.7 L255.5 828.2 L255.8 829 L256 829.8 L256.2 830.3 L256.5 830.5 L256.8 830.2 L257 829.2 L257.2 828 L257.5 826.8 L257.8 825.8 L258 825.5 L258.3 825.6 L258.7 825.8 L259 826.1 L259.3 826.5 L259.7 826.7 L260 826.8 L260.3 826.6 L260.7 826.1 L261 825.4 L261.3 824.7 L261.7 824.2 L262 824 L262.5 824 L263 823.9 L263.5 823.7 L264 823.5 L264.5 823.4 L265 823.4 L265.5 823.6 L266 823.6 L266.5 823.1 L267 822.8 L267.5 823 L268 823.5 L268.5 823.6 L269 823 L269.5 822.4 L270 822.3 L270.5 822.8 L271 823.3 L271.5 823.2 L272 822.7 L272.5 822.5 L273 823 L273.5 823.6 L274 823.8 L274.5 823.3 L275 822.7 L275.5 822.6 L276 823 L276.5 823.4 L277 823.1 L277.5 822.4 L278 822.2 L278.5 822.6 L279 823.3 L279.5 823.6 L280 823.2 L280.5 822.8 L281 822.9 L281.5 823.4 L282 823.7 L282.5 823.4 L283 822.6 L283.5 822.3 L284 822.6 L284.5 823.1 L285 823.2 L285.5 822.8 L286 822.4 L286.5 822.7 L287 823.4 L287.5 823.8 L288 823.6 L288.5 822.9 L289 822.6 L289.5 823 L290 823.4 L290.5 823.3 L291 822.6 L291.5 822.2 L292 822.4 L292.5 823.1 L293 823.5 L293.5 823.3 L294 822.8 L294.5 822.8 L295 823.3 L295.5 823.7 L296 823.6 L296.5 822.9 L297 822.4 L297.5 822.5 L298 823 L298.5 823.2 L299 822.9 L299.5 822.4 L300 822.4 L300.5 823.1 L301 823.7 L301.5 823.7 L302 823.1 L302.5 822.7 L303 822.9 L303.5 823.4 L304 823.5 L304.5 822.9 L305 822.3 L305.5 822.2 L306 822.8 L306.5 823.3 L307 823.3 L307.5 822.9 L308 822.7 L308.5 823 L309 823.7 L309.5 823.8 L310 823.2 L310.5 822.6 L311 822.5 L311.5 822.9 L312 823.3 L312.5 823 L313 822.5 L313.5 822.3 L314 822.8 L314.5 823.5 L315 823.7 L315.5 823.3 L316 822.8 L316.5 822.8 L317 823.3 L317.5 823.6 L318 823.2 L318.5 822.5 L319 822.2 L319.5 822.5 L320 823.2 L320.5 823.3 L321 822.9 L321.5 822.6 L322 822.8 L322.5 823.5 L323 823.8 L323.5 823.5 L324 822.8 L324.5 822.5 L325 822.8 L325.5 823.2 L326 823.2 L326.5 822.6 L327 822.2 L327.5 822.5 L328 823.2 L328.5 823.7 L329 823.4 L329.5 822.9 L330 822.8 L330.5 823.2 L331 823.6 L331.5 823.5 L332 822.8 L332.5 822.2 L333 822.4 L333.5 823 L334 823.3 L334.5 823 L335 822.6 L335.5 822.6 L336 823.2 L336.5 823.8 L337 823.7 L337.5 823.1 L338 822.6 L338.5 822.7 L339 823.2 L339.5 823.3 L340 822.9 L340.5 822.3 L341 822.3 L341.5 822.9 L342 823.5 L342.5 823.5 L343 823 L343.5 822.7 L344 823 L344.5 823.6 L345 823.7 L345.5 823.1 L346 822.4 L346.5 822.3 L347 822.8 L347.5 823.2 L348 823.1 L348.5 822.6 L349 822.4 L349.5 822.9 L350 823.6 L350.5 823.8 L351 823.3 L351.5 822.8 L352 822.7 L352.5 823.1 L353 823.4 L353.5 823.1 L354 822.4 L354.5 822.2 L355 822.6 L355.5 823.3 L356 823.5 L356.5 823.1 L357 822.7 L357.5 822.9 L358 823.5 L358.5 823.8 L359 823.4 L359.5 822.7 L360 822.3 L360.5 822.6 L361 823.1 L361.5 823.2 L362 822.7 L362.5 822.3 L363 822.6 L363.5 823.3 L364 823.8 L364.5 823.5 L365 822.9 L365.5 822.7 L366 823.1 L366.5 823.5 L367 823.3 L367.5 822.7 L368 822.2 L368.5 822.4 L369 823 L369.5 823.4 L370 823.2 L370.5 822.7 L371 822.7 L371.5 823.3 L372 823.8 L372.5 823.7 L373 823 L373.5 822.5 L374 822.6 L374.5 823.1 L375 823.3 L375.5 822.9 L376 822.3 L376.5 822.4 L377 823 L377.5 823.6 L378 823.6 L378.5 823.1 L379 822.7 L379.5 823 L380 823.5 L380.5 823.5 L381 823 L381.5 822.3 L382 822.2 L382.5 822.8 L383 823.3 L383.5 823.2 L384 822.8 L384.5 822.6 L385 823 L385.5 823.7 L386 823.9 L386.5 823.4 L387 822.8 L387.5 822.7 L388 823.2 L388.5 823.5 L389 823.3 L389.5 822.7 L390 822.6 L390.5 823.1 L391 823.8 L391.5 824.1 L392 823.7 L392.5 823.3 L393 823.4 L393.5 823.9 L394 824.3 L394.5 823.9 L395 823.2 L395.5 822.9 L396 823.3 L396.5 823.9 L397 824.1 L397.5 823.7 L398 823.4 L398.5 823.7 L399 824.4 L399.5 824.8 L400 824.5 L400.5 823.9 L401 823.6 L401.5 824 L402 824.4 L402.5 824.4 L403 823.8 L403.5 820.6 L404 816.5 L404.5 817.7 L405 823.2 L405.5 823 L406 822.5 L406.5 822.4 L407 822.8 L407.5 823.3 L408 823.2 L408.5 822.5 L409 821.9 L409.5 822 L410 822.6 L410.5 822.9 L411 822.6 L411.5 822.1 L412 822.1 L412.5 822.7 L413 823.4 L413.5 823.3 L414 822.7 L414.5 822.3 L415 822.4 L415.5 822.9 L416 823 L416.5 822.5 L417 821.9 L417.5 821.8 L418 822.4 L418.5 823 L419 823 L419.5 822.6 L420 822.3 L420.5 822.7 L421 823.2 L421.5 823.3 L422 822.8 L422.5 822.1 L423 822 L423.5 822.4 L424 822.8 L424.5 822.7 L425 822.1 L425.5 822 L426 822.4 L426.5 823.1 L427 823.4 L427.5 822.9 L428 822.4 L428.5 822.4 L429 822.8 L429.5 823.1 L430 822.7 L430.5 822.1 L431 821.8 L431.5 822.2 L432 822.8 L432.5 823 L433 822.6 L433.5 822.3 L434 822.5 L434.5 823.1 L435 823.4 L435.5 823.1 L436 822.4 L436.5 822 L437 822.3 L437.5 822.8 L438 822.8 L438.5 822.3 L439 821.9 L439.5 822.1 L440 822.9 L440.5 823.3 L441 823.1 L441.5 822.5 L442 822.4 L442.5 822.7 L443 823.2 L443.5 823 L444 822.3 L444.5 821.8 L445 822 L445.5 822.6 L446 822.9 L446.5 822.7 L447 822.3 L447.5 822.3 L448 822.8 L448.5 823.4 L449 823.3 L449.5 822.7 L450 822.1 L450.5 822.2 L451 822.7 L451.5 822.9 L452 822.4 L452.5 821.9 L453 821.9 L453.5 822.5 L454 823.2 L454.5 823.2 L455 822.7 L455.5 822.4 L456 822.6 L456.5 823.1 L457 823.2 L457.5 822.6 L458 822 L458.5 821.9 L459 822.4 L459.5 822.9 L460 822.8 L460.5 822.3 L461 822.1 L461.5 822.6 L462 823.2 L462.5 823.4 L463 822.9 L463.5 822.3 L464 822.2 L464.5 822.6 L465 823 L465.5 822.7 L466 822 L466.5 821.8 L467 822.2 L467.5 822.9 L468 823.2 L468.5 822.8 L469 822.4 L469.5 822.5 L470 823 L470.5 823.3 L471 823 L471.5 822.2 L472 821.9 L472.5 822.2 L473 822.7 L473.5 822.8 L474 822.4 L474.5 822 L475 822.3 L475.5 823 L476 823.4 L476.5 823.1 L477 822.5 L477.5 822.3 L478 822.6 L478.5 823 L479 822.9 L479.5 822.2 L480 821.8 L480.5 822 L481 822.7 L481.5 823.1 L482 822.9 L482.5 822.4" fill="none" stroke="#7E2F8E" stroke-width="2.1" stroke-linejoin="round" stroke-linecap="round" />
<path d="M178.5 893.4 L178.8 893.4 L179.2 825 L179.5 671.5 L179.8 671.5 L180.2 671.5 L180.5 671.5 L180.8 671.5 L181 671.5 L181.2 750 L181.5 893.4 L181.8 893.4 L182 893.4 L182.2 893.4 L182.5 893.4 L182.8 750 L183 671.5 L183.2 671.5 L183.5 671.5 L183.8 671.5 L184.1 671.5 L184.3 750 L184.6 893.4 L184.9 893.4 L185.2 893.4 L185.5 893.4 L185.8 893.4 L186.1 850 L186.4 675 L186.7 671.5 L187 671.5 L187.3 671.5 L187.6 671.5 L187.8 750 L188.1 875 L188.4 893.4 L188.7 893.4 L189.1 893.4 L189.4 893.4 L189.8 847 L190.2 770.5 L190.5 714.5 L190.9 694 L191.2 711.1 L191.5 758 L191.8 822 L192 886 L192.3 893.4 L192.6 893.4 L192.9 893.4 L193.1 891.1 L193.4 832.2 L193.7 773.3 L193.9 730.2 L194.2 714.4 L194.5 726.8 L194.8 760.8 L195.1 807.2 L195.5 853.6 L195.8 887.6 L196.1 893.4 L196.4 890.6 L196.8 865.1 L197.1 830.2 L197.4 795.3 L197.8 769.8 L198.1 760.4 L198.3 765.1 L198.6 777.8 L198.8 795.2 L199.1 812.6 L199.3 825.3 L199.6 830 L199.8 828 L199.9 822.5 L200.1 815 L200.3 807.5 L200.4 802 L200.6 800 L200.8 803.3 L201 802.6 L201.2 802.4 L201.4 802.6 L201.6 803.3 L201.8 804.3 L202 805.6 L202.2 807.1 L202.4 808.4 L202.6 809.5 L202.8 810.1 L203 810.2 L203.2 809.8 L203.4 808.9 L203.6 807.6 L203.8 806 L204 804.4 L204.2 802.9 L204.4 801.8 L204.6 801.3 L204.8 801.3 L205 801.9 L205.2 803.1 L205.4 804.7 L205.6 806.5 L205.8 808.2 L206 809.7 L206.2 810.8 L206.4 811.3 L206.6 811 L206.8 810.2 L207 808.8 L207.2 807 L207.4 805 L207.6 803.2 L207.8 801.7 L208 800.7 L208.2 800.4 L208.4 800.8 L208.6 801.9 L208.8 803.5 L209 805.5 L209.2 807.5 L209.4 809.4 L209.6 810.8 L209.8 811.6 L210 811.7 L210.2 811.1 L210.4 809.8 L210.6 808 L210.8 806 L211 804 L211.2 802.2 L211.4 800.9 L211.6 800.3 L211.8 800.4 L212 801.2 L212.2 802.6 L212.4 804.5 L212.6 806.5 L212.8 808.5 L213 810.1 L213.2 811.2 L213.4 811.6 L213.6 811.3 L213.8 810.4 L214 808.9 L214.2 807 L214.4 805 L214.6 803.2 L214.8 801.8 L215 800.9 L215.2 800.7 L215.4 801.1 L215.6 802.2 L215.8 803.7 L216 805.5 L216.2 807.4 L216.4 809 L216.6 810.2 L216.8 810.8 L217 810.9 L217.2 810.3 L217.4 809.1 L217.6 807.7 L217.8 806 L218 804.4 L218.2 803 L218.4 802.1 L218.6 801.6 L218.8 801.8 L219 802.4 L219.2 803.5 L219.4 804.9 L219.6 806.4 L219.8 807.7 L220 808.8 L220.2 809.5 L220.4 809.8 L220.6 809.5 L220.8 808.8 L221 807.8 L221.2 806.6 L221.4 805.4 L221.6 804.3 L221.8 803.5 L222 803 L222.2 802.7 L222.4 802.9 L222.6 803.5 L222.8 804.5 L223 805.7 L223.2 807 L223.4 808.2 L223.6 809.2 L223.8 809.8 L224 809.9 L224.2 809.5 L224.4 808.7 L224.6 807.5 L224.8 806 L225 804.5 L225.2 803.1 L225.4 802.1 L225.6 801.6 L225.8 801.6 L226 802.2 L226.2 803.3 L226.4 804.7 L226.6 806.4 L226.8 808.1 L227 809.5 L227.2 810.6 L227.4 811 L227.6 810.8 L227.8 810 L228 808.6 L228.2 806.9 L228.4 805.1 L228.6 803.3 L228.8 801.8 L229 800.9 L229.2 800.6 L229.4 801 L229.6 802 L229.8 803.6 L230 805.5 L230.2 807.5 L230.4 809.3 L230.6 810.7 L230.8 811.5 L231 811.6 L231.2 811 L231.4 809.8 L231.6 808 L231.8 806 L232 804 L232.2 802.2 L232.4 800.9 L232.6 800.3 L232.8 800.3 L233 801.2 L233.2 802.6 L233.4 804.5 L233.6 806.5 L233.8 808.5 L234 810.2 L234.2 811.3 L234.4 811.7 L234.6 811.5 L234.8 810.5 L235 808.9 L235.2 807 L235.4 805 L235.6 803.1 L235.8 801.6 L236 800.7 L236.2 800.5 L236.4 800.9 L236.6 802.1 L236.8 803.6 L237 805.5 L237.2 807.4 L237.4 809.1 L237.6 810.4 L237.8 811.1 L238 811.1 L238.2 810.5 L238.4 809.3 L238.6 807.8 L238.8 806 L239 804.3 L239.2 802.8 L239.4 801.8 L239.6 801.3 L239.8 801.5 L240 802.2 L240.2 803.3 L240.4 804.8 L240.6 806.4 L240.8 807.9 L241 809.1 L241.2 809.9 L241.4 810.1 L241.6 809.9 L241.8 809.1 L242 808 L242.2 806.7 L242.4 805.3 L242.6 804.1 L242.8 803.2 L243 802.6 L243.2 802.5 L243.4 802.9 L243.6 802 L243.8 803.4 L244 805.2 L244.2 807.1 L244.4 808.8 L244.6 810.2 L244.8 811.1 L245 811.3 L245.2 810.8 L245.4 809.7 L245.6 808.2 L245.8 806.4 L246 804.7 L246.2 803.1 L246.4 802.1 L246.6 801.6 L246.8 756.6 L247 768.1 L247.2 783 L247.4 799.1 L247.6 813.9 L247.8 825.9 L248 833.9 L248.2 837.4 L248.4 836.4 L248.6 831.8 L248.8 824.5 L249 815.9 L249.2 807.1 L249.4 799.3 L249.6 793.5 L249.8 790 L250 789.2 L250.2 790.8 L250.4 794.3 L250.6 799.2 L250.8 804.7 L251 810 L251.2 814.5 L251.4 817.7 L251.6 819.3 L251.8 819.2 L252 817.7 L252.2 815 L252.4 811.5 L252.6 807.7 L252.8 804.2 L253 801.4 L253.2 799.6 L253.4 799 L253.6 799.5 L253.8 801.2 L254 803.6 L254.2 806.5 L254.4 809.5 L254.6 812.2 L254.8 814.2 L255 815.4 L255.2 815.6 L255.4 814.8 L255.6 813.1 L255.8 810.9 L256 808.4 L256.2 805.9 L256.4 803.8 L256.6 802.4 L256.8 801.8 L257 802.2 L257.2 803.3 L257.4 805.2 L257.6 807.5 L257.8 809.9 L258 812.1 L258.2 813.9 L258.4 814.9 L258.6 815.2 L258.8 814.5 L259 813.2 L259.2 811.2 L259.4 809 L259.6 806.8 L259.8 804.9 L260 803.6 L260.2 803 L260.4 803.3 L260.6 804.3 L260.8 806 L261 808.2 L261.2 810.5 L261.4 812.6 L261.6 814.3 L261.8 815.3 L262 815.6 L262.2 817.9 L262.4 815.9 L262.6 813.1 L262.8 809.7 L263 806.2 L263.2 803.1 L263.4 800.8 L263.6 799.8 L263.8 800 L264 801.6 L264.2 804.3 L264.4 807.7 L264.6 811.4 L264.8 814.9 L265 817.6 L265.2 819.2 L265.4 819.5 L265.6 818.5 L265.8 816.2 L266 813.1 L266.2 809.5 L266.4 805.9 L266.6 802.9 L266.8 800.8 L267 799.9 L267.2 800.4 L267.4 802 L267.6 804.6 L267.8 807.7 L268 811 L268.2 813.9 L268.4 816.1 L268.6 817.3 L268.8 817.4 L269 816.4 L269.2 814.5 L269.4 812 L269.6 809.3 L269.8 806.7 L270 804.6 L270.2 803.2 L270.4 802.8 L270.6 803.2 L270.8 804.4 L271 806.1 L271.2 808.1 L271.4 810.1 L271.6 811.8 L271.8 813.3 L272 814.4 L272.2 814.8 L272.4 814.4 L272.6 813.2 L272.8 811.4 L273 809.1 L273.2 806.6 L273.4 804.3 L273.6 802.5 L273.8 801.6 L274 801.6 L274.2 802.7 L274.4 804.7 L274.6 807.4 L274.8 810.5 L275 813.5 L275.2 815.9 L275.4 817.5 L275.6 817.9 L275.8 817.1 L276 815.2 L276.2 812.3 L276.4 808.9 L276.6 805.3 L276.8 802.3 L277 800 L277.2 798.9 L277.4 799.2 L277.6 800.8 L277.8 803.5 L278 806.9 L278.2 810.6 L278.4 814.1 L278.6 816.8 L278.8 818.4 L279 818.7 L279.2 817.6 L279.4 815.4 L279.6 812.2 L279.8 808.7 L280 805.1 L280.2 802.1 L280.4 800.1 L280.6 799.2 L280.8 799.6 L281 801.3 L281.2 803.8 L281.4 806.9 L281.6 810.2 L281.8 813.1 L282 815.2 L282.2 816.4 L282.4 816.5 L282.6 815.5 L282.8 813.6 L283 811.2 L283.2 808.5 L283.4 805.9 L283.6 803.8 L283.8 802.5 L284 802.1 L284.2 802.5 L284.4 803.7 L284.6 805.4 L284.8 807.4 L285 809.3 L285.2 811 L285.4 812.6 L285.6 813.7 L285.8 814.1 L286 813.7 L286.2 812.5 L286.4 810.6 L286.6 808.3 L286.8 805.7 L287 803.4 L287.2 801.6 L287.4 800.7 L287.6 800.7 L287.8 801.8 L288 803.9 L288.2 806.6 L288.4 809.7 L288.6 812.7 L288.8 815.2 L289 816.8 L289.2 817.2 L289.4 816.4 L289.6 814.4 L289.8 811.5 L290 808.1 L290.2 804.5 L290.4 801.4 L290.6 799.2 L290.8 798.1 L291 798.4 L291.2 800 L291.4 802.7 L291.6 806.1 L291.8 809.8 L292 813.3 L292.2 815.9 L292.4 817.3 L292.6 817.5 L292.8 816.3 L293 814.1 L293.2 811.1 L293.4 807.9 L293.6 804.7 L293.8 802.1 L294 800.4 L294.2 799.8 L294.4 800.2 L294.6 801.7 L294.8 803.9 L295 806.4 L295.2 809 L295.4 811.3 L295.6 812.9 L295.8 813.8 L296 813.8 L296.2 812.9 L296.4 811.5 L296.6 809.6 L296.8 807.7 L297 805.8 L297.2 804.4 L297.4 803.5 L297.6 803.3 L297.8 803.6 L298 804.4 L298.2 805.6 L298.4 806.9 L298.6 808.2 L298.8 809.4 L299 810.4 L299.2 811 L299.4 811.2 L299.6 810.9 L299.8 810.1 L300 808.9 L300.2 807.5 L300.4 806 L300.6 804.6 L300.8 803.6 L301 803.1 L301.2 803.2 L301.4 803.9 L301.6 805 L301.8 806.5 L302 808.2 L302.2 809.7 L302.4 810.9 L302.6 811.7 L302.8 811.8 L303 811.3 L303.2 810.3 L303.4 808.9 L303.6 807.3 L303.8 805.6 L304 804.2 L304.2 803.3 L304.4 802.8 L304.6 803 L304.8 803.7 L305 804.9 L305.2 806.4 L305.4 807.9 L305.6 809.3 L305.8 810.4 L306 811 L306.2 811 L306.4 810.6 L306.6 809.7 L306.8 808.4 L307 807.1 L307.2 805.7 L307.4 804.6 L307.6 803.9 L307.8 803.6 L308 803.8 L308.2 804.4 L308.4 805.3 L308.6 806.4 L308.8 807.5 L309 808.5 L309.2 809.2 L309.4 809.6 L309.6 809.6 L309.8 809.2 L310 808.6 L310.2 807.8 L310.4 806.9 L310.6 806 L310.8 805.3 L311 804.9 L311.2 804.7 L311.4 804.9 L311.6 805.2 L311.8 805.8 L312 806.4 L312.2 807.1 L312.4 807.7 L312.6 808.2 L312.8 808.5 L313 808.6 L313.2 808.4 L313.4 808 L313.6 807.4 L313.8 806.7 L314 805.9 L314.2 805.2 L314.4 804.7 L314.6 804.5 L314.8 804.6 L315 804.9 L315.2 805.4 L315.4 806.2 L315.6 807 L315.8 807.7 L316 808.3 L316.2 808.6 L316.4 808.7 L316.6 808.4 L316.8 807.9 L317 807.3 L317.2 806.5 L317.4 805.7 L317.6 805 L317.8 804.5 L318 804.3 L318.2 804.4 L318.4 804.7 L318.6 805.3 L318.8 806 L319 806.7 L319.2 807.4 L319.4 807.9 L319.6 808.2 L319.8 808.3 L320 808 L320.2 807.6 L320.4 807 L320.6 806.3 L320.8 805.6 L321 805 L321.2 804.6 L321.4 804.4 L321.6 804.5 L321.8 804.8 L322 805.3 L322.2 805.9 L322.4 806.5 L322.6 807 L322.8 807.4 L323 807.6 L323.2 807.6 L323.4 807.4 L323.6 807.1 L323.8 806.6 L324 806.1 L324.2 805.5 L324.4 805.1 L324.6 804.8 L324.8 804.7 L325 804.8 L325.2 805.9 L325.4 805.6 L325.6 805.4 L325.8 805.3 L326 805.3 L326.2 805.5 L326.4 805.8 L326.6 806.1 L326.8 806.5 L327 806.8 L327.2 807 L327.4 807.1 L327.6 807.1 L327.8 806.9 L328 806.7 L328.2 806.4 L328.4 806 L328.6 805.7 L328.8 805.5 L329 805.3 L329.2 805.3 L329.4 805.4 L329.6 805.6 L329.8 805.9 L330 806.3 L330.2 806.6 L330.4 806.9 L330.6 807.1 L330.8 807.1 L331 807 L331.2 806.8 L331.4 806.5 L331.6 806.2 L331.8 805.9 L332 805.6 L332.2 805.4 L332.4 805.3 L332.6 805.3 L332.8 805.5 L333 805.8 L333.2 806.1 L333.4 806.5 L333.6 806.8 L333.8 807 L334 807.1 L334.2 807.1 L334.4 806.9 L334.6 806.7 L334.8 806.4 L335 806 L335.2 805.7 L335.4 805.5 L335.6 805.3 L335.8 805.3 L336 805.4 L336.2 805.6 L336.4 805.9 L336.6 806.3 L336.8 806.6 L337 806.9 L337.2 807.1 L337.4 807.1 L337.6 807 L337.8 806.8 L338 806.5 L338.2 806.2 L338.4 805.9 L338.6 805.6 L338.8 805.4 L339 805.3 L339.2 805.3 L339.4 805.5 L339.6 805.8 L339.8 806.1 L340 806.5 L340.2 806.8 L340.4 807 L340.6 807.1 L340.8 807.1 L341 806.9 L341.2 806.7 L341.4 806.4 L341.6 806 L341.8 805.7 L342 805.5 L342.2 805.3 L342.4 805.3 L342.6 805.4 L342.8 805.6 L343 805.9 L343.2 806.3 L343.4 806.6 L343.6 806.9 L343.8 807.1 L344 807.1 L344.2 807 L344.4 806.8 L344.6 806.5 L344.8 806.2 L345 805.9 L345.2 805.6 L345.4 805.4 L345.6 805.3 L345.8 805.3 L346 805.5 L346.2 805.8 L346.4 806.1 L346.6 806.5 L346.8 806.8 L347 807 L347.2 807.1 L347.4 807.1 L347.6 806.9 L347.8 806.7 L348 806.4 L348.2 806 L348.4 805.7 L348.6 805.5 L348.8 805.3 L349 805.3 L349.2 805.4 L349.4 805.6 L349.6 805.9 L349.8 806.3 L350 806.6 L350.2 806.9 L350.4 807.1 L350.6 807.1 L350.8 807 L351 806.8 L351.2 806.5 L351.4 806.2 L351.6 805.9 L351.8 805.6 L352 805.4 L352.2 805.3 L352.4 805.3 L352.6 805.5 L352.8 805.8 L353 806.1 L353.2 806.5 L353.4 806.8 L353.6 807 L353.8 807.1 L354 807.1 L354.2 806.9 L354.4 806.7 L354.6 806.4 L354.8 806 L355 805.7 L355.2 805.5 L355.4 805.3 L355.6 805.3 L355.8 805.4 L356 805.6 L356.2 805.9 L356.4 806.3 L356.6 806.6 L356.8 806.9 L357 807.1 L357.2 807.1 L357.4 807 L357.6 806.8 L357.8 806.5 L358 806.2 L358.2 805.9 L358.4 805.6 L358.6 805.4 L358.8 805.3 L359 805.3 L359.2 805.5 L359.4 805.8 L359.6 806.1 L359.8 806.5 L360 806.8 L360.2 807 L360.4 807.1 L360.6 807.1 L360.8 806.9 L361 806.7 L361.2 806.4 L361.4 806 L361.6 805.7 L361.8 805.5 L362 805.3 L362.2 805.3 L362.4 805.4 L362.6 805.6 L362.8 805.9 L363 806.3 L363.2 806.6 L363.4 806.9 L363.6 807.1 L363.8 807.1 L364 807 L364.2 806.8 L364.4 806.5 L364.6 806.2 L364.8 805.9 L365 805.6 L365.2 805.4 L365.4 805.3 L365.6 805.3 L365.8 805.5 L366 805.8 L366.2 806.1 L366.4 806.5 L366.6 806.8 L366.8 807 L367 807.1 L367.2 807.1 L367.4 806.9 L367.6 806.7 L367.8 806.4 L368 806 L368.2 805.7 L368.4 805.5 L368.6 805.3 L368.8 805.3 L369 805.4 L369.2 805.6 L369.4 805.9 L369.6 806.3 L369.8 806.6 L370 806.9 L370.2 807.1 L370.4 807.1 L370.6 807 L370.8 806.8 L371 806.5 L371.2 806.2 L371.4 805.9 L371.6 805.6 L371.8 805.4 L372 805.3 L372.2 805.3 L372.4 805.5 L372.6 805.8 L372.8 806.1 L373 806.5 L373.2 806.8 L373.4 807 L373.6 807.1 L373.8 807.1 L374 806.9 L374.2 806.7 L374.4 806.4 L374.6 806 L374.8 805.7 L375 805.5 L375.2 805.3 L375.4 805.3 L375.6 805.4 L375.8 805.6 L376 805.9 L376.2 806.3 L376.4 806.6 L376.6 806.9 L376.8 807.1 L377 807.1 L377.2 807 L377.4 806.8 L377.6 806.5 L377.8 806.2 L378 805.9 L378.2 805.6 L378.4 805.4 L378.6 805.3 L378.8 805.3 L379 805.5 L379.2 805.8 L379.4 806.1 L379.6 806.5 L379.8 806.8 L380 807 L380.2 807.1 L380.4 807.1 L380.6 806.9 L380.8 806.7 L381 806.4 L381.2 806 L381.4 805.7 L381.6 805.5 L381.8 805.3 L382 805.3 L382.2 805.4 L382.4 805.6 L382.6 805.9 L382.8 806.3 L383 806.6 L383.2 806.9 L383.4 807.1 L383.6 807.1 L383.8 807 L384 806.8 L384.2 806.5 L384.4 806.2 L384.6 805.9 L384.8 805.6 L385 805.4 L385.2 805.3 L385.4 805.3 L385.6 805.5 L385.8 805.8 L386 806.1 L386.2 806.5 L386.4 806.8 L386.5 806 L386.6 806.5 L386.8 808.1 L386.9 810.4 L387 813.1 L387.1 815.9 L387.2 818.2 L387.4 819.8 L387.5 820.3 L387.7 819 L387.8 815.4 L388 809.9 L388.1 803.5 L388.3 797 L388.5 791.5 L388.6 787.9 L388.8 786.6 L389 787.9 L389.2 791.5 L389.4 797 L389.6 803.4 L389.8 809.9 L390 815.4 L390.2 819 L390.4 820.3 L390.6 819.5 L390.8 817.3 L391 814 L391.2 810.1 L391.4 806.3 L391.6 803 L391.8 800.8 L392 800 L392.2 800.4 L392.4 801.6 L392.5 803.4 L392.7 805.5 L392.9 807.6 L393 809.4 L393.2 810.6 L393.4 811 L393.6 810.6 L393.8 809.6 L393.9 808.1 L394.1 806.2 L394.3 804.4 L394.4 802.9 L394.6 801.9 L394.8 801.5 L395 801.8 L395.1 802.8 L395.3 804.3 L395.5 806 L395.6 807.7 L395.8 809.2 L395.9 810.2 L396.1 810.5 L396.3 810.1 L396.5 809 L396.6 807.4 L396.8 805.5 L397 803.6 L397.1 802 L397.3 800.9 L397.5 800.5 L397.7 800.9 L397.9 802 L398 803.6 L398.2 805.5 L398.4 807.4 L398.5 809 L398.7 810.1 L398.9 810.5 L399.1 810.2 L399.2 809.2 L399.4 807.7 L399.5 806 L399.7 804.3 L399.9 802.8 L400 801.8 L400.2 801.5 L400.4 801.8 L400.6 802.8 L400.7 804.3 L400.9 806 L401.1 807.7 L401.2 809.2 L401.4 810.2 L401.6 810.5 L401.8 810.1 L401.9 809 L402.1 807.3 L402.2 805.2 L402.4 803.2 L402.6 801.5 L402.7 800.4 L402.9 800 L403.1 799.5 L403.4 797.9 L403.6 795.6 L403.9 792.9 L404.1 790.2 L404.4 787.9 L404.6 786.3 L404.9 785.8 L405.1 787.8 L405.2 793.7 L405.4 802.4 L405.5 812.6 L405.7 822.9 L405.9 831.6 L406 837.5 L406.2 839.5 L406.4 836.4 L406.7 827.6 L406.9 814.5 L407.1 799 L407.4 783.5 L407.6 770.4 L407.9 761.6 L408.1 758.5 L408.3 762.1 L408.4 772.3 L408.6 787.5 L408.8 805.4 L408.9 823.4 L409.1 838.6 L409.2 848.8 L409.4 852.4 L409.6 848.9 L409.8 838.9 L409.9 823.9 L410.1 806.2 L410.3 788.5 L410.4 773.5 L410.6 763.5 L410.8 760 L411.1 763.1 L411.3 771.9 L411.6 785 L411.9 800.5 L412.1 816 L412.4 829.1 L412.6 837.9 L412.9 841 L413 838.6 L413.2 831.8 L413.3 821.7 L413.4 809.8 L413.6 797.8 L413.7 787.7 L413.9 780.9 L414 778.5 L414.2 780.2 L414.4 784.9 L414.6 791.9 L414.9 800.2 L415.1 808.6 L415.3 815.6 L415.5 820.3 L415.7 822 L415.9 821 L416.2 818.1 L416.4 813.8 L416.7 808.7 L416.9 803.6 L417.2 799.3 L417.4 796.4 L417.7 795.4 L417.9 796.1 L418.1 798 L418.3 800.8 L418.5 804.2 L418.7 807.6 L418.9 810.4 L419.1 812.3 L419.3 813 L419.6 812.5 L419.8 811 L420.1 808.8 L420.4 806.2 L420.6 803.6 L420.9 801.4 L421.1 799.9 L421.4 799.4 L421.6 799.8 L421.9 801.1 L422.1 802.9 L422.4 805 L422.6 807.2 L422.9 809 L423.1 810.3 L423.4 810.7 L423.6 810.4 L423.9 809.4 L424.1 808 L424.4 806.2 L424.6 804.5 L424.9 803.1 L425.1 802.1 L425.4 801.8 L425.7 802.1 L425.9 802.9 L426.2 804 L426.4 805.4 L426.7 806.8 L427 807.9 L427.2 808.7 L427.5 809 L427.8 808.8 L428 808.2 L428.2 807.3 L428.5 806.2 L428.8 805.2 L429 804.3 L429.2 803.7 L429.5 803.5 L429.8 803.7 L430 804.1 L430.2 804.7 L430.5 805.5 L430.8 806.3 L431 806.9 L431.2 807.3 L431.5 807.5 L431.8 807.4 L432 807.1 L432.2 806.7 L432.5 806.2 L432.8 805.8 L433 805.4 L433.2 805.1 L433.5 805 L433.7 805.1 L433.9 805.3 L434.1 805.6 L434.4 806 L434.6 806.4 L434.8 806.7 L435 806.9 L435.2 807 L435.4 806.8 L435.6 806.2 L435.9 805.4 L436.1 804.4 L436.3 803.4 L436.6 802.6 L436.8 802 L437 801.8 L437.2 802 L437.4 802.5 L437.6 803.3 L437.8 804.1 L438 805 L438.2 805.8 L438.4 806.3 L438.6 806.5 L438.8 806.3 L439 805.6 L439.2 804.6 L439.4 803.4 L439.6 802.1 L439.8 801.1 L440 800.4 L440.2 800.2 L440.4 800.6 L440.6 801.7 L440.8 803.4 L441 805.5 L441.2 807.5 L441.4 809.2 L441.6 810.3 L441.8 810.7 L442.2 810.1 L442.6 808.5 L443 806 L443.4 803.1 L443.8 800.1 L444.2 797.6 L444.6 796 L445 795.4 L445.2 796.2 L445.4 798.3 L445.6 801.6 L445.8 805.4 L446 809.3 L446.2 812.6 L446.4 814.7 L446.6 815.5 L447 814.8 L447.3 812.8 L447.7 809.8 L448.1 806.2 L448.4 802.7 L448.8 799.7 L449.1 797.7 L449.5 797 L449.7 797.6 L449.8 799.2 L450 801.6 L450.1 804.5 L450.3 807.4 L450.5 809.8 L450.6 811.4 L450.8 812 L451 811.2 L451.2 809 L451.4 805.6 L451.6 801.7 L451.7 797.8 L451.9 794.4 L452.1 792.2 L452.3 791.4 L452.5 792.4 L452.7 795.4 L452.9 799.8 L453.1 805 L453.3 810.3 L453.5 814.7 L453.7 817.7 L453.9 818.7 L454.3 817.9 L454.8 815.5 L455.2 812 L455.7 807.9 L456.1 803.7 L456.6 800.2 L457.1 797.8 L457.5 797 L458.1 797.8 L458.6 799.9 L459.1 803.2 L459.7 807 L460.2 810.8 L460.8 814.1 L461.3 816.2 L461.9 817 L462.5 816.5 L463.1 814.9 L463.7 812.6 L464.3 809.8 L464.9 807 L465.5 804.7 L466.1 803.1 L466.7 802.6 L467 803.1 L467.3 804.7 L467.6 807 L467.9 809.8 L468.2 812.6 L468.5 814.9 L468.8 816.5 L469.1 817 L469.5 816.3 L469.9 814.4 L470.3 811.6 L470.7 808.2 L471.1 804.8 L471.5 802 L471.9 800.1 L472.3 799.4 L472.6 799.9 L472.9 801.2 L473.1 803.3 L473.4 805.7 L473.7 808.1 L473.9 810.2 L474.2 811.5 L474.5 812 L474.7 811.2 L475 809.1 L475.2 805.9 L475.4 802.1 L475.7 798.3 L475.9 795.1 L476.2 793 L476.4 792.2 L476.6 793.2 L476.8 796.1 L477 800.4 L477.2 805.5 L477.4 810.5 L477.6 814.8 L477.8 817.7 L478 818.7 L478.2 818 L478.5 816 L478.8 812.9 L479 809.4 L479.2 805.8 L479.5 802.7 L479.8 800.7 L480 800 L480.1 800.4 L480.3 801.7 L480.4 803.5 L480.6 805.8 L480.8 808 L480.9 809.8 L481.1 811.1 L481.2 811.5 L481.4 811.2 L481.6 810.3 L481.9 808.9 L482.1 807.2 L482.3 805.6 L482.6 804.2 L482.8 803.3 L483 803" fill="none" stroke="#77AC30" stroke-width="1.9" stroke-linejoin="round" stroke-linecap="round" />
<path d="M245 800 L245.4 734.5 L245.9 800" fill="none" stroke="#77AC30" stroke-width="1.9" stroke-linejoin="round" stroke-linecap="round" />
<path d="M248.3 805 L248.7 760 L249.2 805" fill="none" stroke="#77AC30" stroke-width="1.9" stroke-linejoin="round" stroke-linecap="round" />
<path d="M177.8 679 L180 690 L181.2 704 L182.3 725 L186 740 L192 752 L199.4 767 L202 777.5 L205 784 L210 788.4 L225 791.8 L243.3 793.2 L243.3 800 L225 800.6 L212 801.8 L208 803.5 L205 807 L203 813 L201 830 L199.2 860 L196 886 L177.8 886Z" fill="#EDB120" stroke="none" />
<path d="M172.6 679 L176.4 679 L176.4 886 L172.6 886Z" fill="#EDB120" stroke="none" />
<path d="M243.3 796.6 L243.5 796 L243.7 794.3 L244 792.3 L244.2 790.6 L244.4 790 L244.6 786.1 L244.8 775.8 L245.1 763.2 L245.3 752.9 L245.5 749 L245.7 754.7 L245.9 769.6 L246.1 787.9 L246.3 802.8 L246.5 808.5 L246.7 806.2 L246.9 800 L247 792.5 L247.2 786.3 L247.4 784" fill="none" stroke="#EDB120" stroke-width="1.9" stroke-linejoin="round" stroke-linecap="round" />
<path d="M246.2 783.7 L250 785 L256 787.2 L262 788.6 L275 790.8 L286.5 792.3 L300 793.4 L311 794 L322 794.9 L322 797.2 L311 798.5 L300 799.6 L286.5 801 L275 802.6 L262 804.7 L256 806 L250 807.5 L246.2 808.5Z" fill="#EDB120" stroke="none" />
<path d="M322 796.3 L322.2 795.9 L322.5 795.7 L322.8 796.2 L323 796.2 L323.2 795.7 L323.5 795.9 L323.8 796.4 L324 796 L324.2 795.7 L324.5 796.1 L324.8 796.3 L325 795.8 L325.2 795.8 L325.5 796.3 L325.8 796.2 L326 795.7 L326.2 796 L326.5 796.4 L326.8 795.9 L327 795.8 L327.2 796.3 L327.5 796.3 L327.8 795.8 L328 795.9 L328.2 796.4 L328.5 796.1 L328.8 795.7 L329 796.2 L329.2 796.4 L329.5 795.9 L329.8 795.9 L330 796.4 L330.2 796.2 L330.5 795.8 L330.8 796.1 L331 796.4 L331.2 796 L331.5 795.8 L331.8 796.3 L332 796.3 L332.2 795.8 L332.5 796 L332.8 796.5 L333 796.1 L333.2 795.8 L333.5 796.2 L333.8 796.4 L334 795.9 L334.2 795.9 L334.5 796.4 L334.8 796.3 L335 795.8 L335.2 796.1 L335.5 796.5 L335.8 796 L336 795.9 L336.2 796.4 L336.5 796.4 L336.8 795.9 L337 796 L337.2 796.5 L337.5 796.2 L337.8 795.8 L338 796.3 L338.2 796.5 L338.5 796 L338.8 796 L339 796.5 L339.2 796.3 L339.5 795.9 L339.8 796.2 L340 796.5 L340.2 796.1 L340.5 795.9 L340.8 796.4 L341 796.4 L341.2 795.9 L341.5 796.1 L341.8 796.6 L342 796.2 L342.2 795.9 L342.5 796.4 L342.8 796.5 L343 796 L343.2 796 L343.5 796.5 L343.8 796.4 L344 795.9 L344.2 796.3 L344.5 796.6 L344.8 796.1 L345 796 L345.2 796.5 L345.5 796.5 L345.8 796 L346 796.2 L346.2 796.6 L346.5 796.3 L346.8 795.9 L347 796.4 L347.2 796.6 L347.5 796.1 L347.8 796.1 L348 796.6 L348.2 796.4 L348.5 796 L348.8 796.3 L349 796.6 L349.2 796.2 L349.5 796 L349.8 796.5 L350 796.5 L350.2 796 L350.5 796.2 L350.8 796.7 L351 796.3 L351.2 796 L351.5 796.5 L351.8 796.6 L352 796.1 L352.2 796.1 L352.5 796.6 L352.8 796.5 L353 796 L353.2 796.4 L353.5 796.7 L353.8 796.2 L354 796.1 L354.2 796.6 L354.5 796.6 L354.8 796.1 L355 796.3 L355.2 796.7 L355.5 796.4 L355.8 796 L356 796.5 L356.2 796.7 L356.5 796.2 L356.8 796.2 L357 796.7 L357.2 796.5 L357.5 796.1 L357.8 796.4 L358 796.7 L358.2 796.3 L358.5 796.1 L358.8 796.6 L359 796.6 L359.2 796.1 L359.5 796.3 L359.8 796.8 L360 796.4 L360.2 796.1 L360.5 796.6 L360.8 796.7 L361 796.2 L361.2 796.2 L361.5 796.7 L361.8 796.6 L362 796.1 L362.2 796.5 L362.5 796.8 L362.8 796.3 L363 796.2 L363.2 796.7 L363.5 800.2 L363.8 803.6 L364 804.4 L364.2 802.5 L364.5 798.4 L364.8 794.4 L365 792.2 L365.2 792.5 L365.5 795.1 L365.8 794.3 L366 799.4 L366.2 797.6 L366.5 793.3 L366.8 796.5 L367 799.5 L367.2 795.5 L367.5 794 L367.8 798.3 L368 798.3 L368.2 794.2 L368.5 795.6 L368.8 799.1 L369 796.5 L369.2 794.1 L369.5 797.4 L369.8 798.6 L370 795.1 L370.2 795.1 L370.5 798.4 L370.8 797.3 L371 794.5 L371.2 796.6 L371.5 798.5 L371.8 795.9 L372 794.9 L372.2 797.8 L372.5 797.7 L372.8 795 L373 796 L373.2 798.3 L373.5 796.6 L373.8 795 L374 797.1 L374.2 797.9 L374.5 795.6 L374.8 795.6 L375 797.9 L375.2 797.1 L375.5 795.2 L375.8 796.6 L376 797.9 L376.2 796.2 L376.5 795.5 L376.8 797.4 L377 797.4 L377.2 795.6 L377.5 796.2 L377.8 797.8 L378 796.6 L378.2 795.5 L378.5 797 L378.8 797.6 L379 796 L379.2 796 L379.5 797.5 L379.8 797 L380 795.7 L380.2 796.7 L380.5 797.6 L380.8 796.3 L381 795.9 L381.2 797.2 L381.5 797.2 L381.8 795.9 L382 796.4 L382.2 797.5 L382.5 796.7 L382.8 795.9 L383 797 L383.2 797.4 L383.5 796.2 L383.8 796.2 L384 797.4 L384.2 797 L384.5 796 L384.8 796.7 L385 797.4 L385.2 796.5 L385.5 796.1 L385.8 797.2 L386 797.2 L386.2 796.1 L386.5 796.5 L386.8 797.4 L387 796.7 L387.2 796.1 L387.5 797 L387.8 797.3 L388 796.3 L388.2 796.4 L388.5 797.3 L388.8 797 L389 796.2 L389.2 796.8 L389.5 797.3 L389.8 796.6 L390 796.5 L390.2 797 L390.5 797 L390.8 796.5 L391 796.7 L391.2 797.1 L391.5 796.8 L391.8 796.4 L392 796.9 L392.2 797.1 L392.5 796.6 L392.8 796.6 L393 797.1 L393.2 796.9 L393.5 796.5 L393.8 796.8 L394 797.2 L394.2 796.7 L394.5 796.5 L394.8 797 L395 797 L395.2 796.5 L395.5 796.7 L395.8 797.2 L396 796.8 L396.2 796.5 L396.5 797 L396.8 797.1 L397 796.6 L397.2 796.6 L397.5 797.2 L397.8 797 L398 796.5 L398.2 796.9 L398.5 797.2 L398.8 796.7 L399 796.6 L399.2 797.1 L399.5 797.1 L399.8 796.6 L400 796.8 L400.2 797.2 L400.5 796.9 L400.8 796.5 L401 797 L401.2 797.2 L401.5 796.7 L401.8 796.7 L402 797.2 L402.2 797 L402.5 796.6 L402.8 796.9 L403 797.3 L403.2 796.8 L403.5 796.6 L403.8 797.1 L404 797.1 L404.2 796.6 L404.5 796.8 L404.8 797.3 L405 796.9 L405.2 796.6 L405.5 797.1 L405.8 797.2 L406 796.7 L406.2 796.7 L406.5 797.3 L406.8 797.1 L407 796.6 L407.2 797 L407.5 797.3 L407.8 796.8 L408 796.7 L408.2 797.2 L408.5 797.2 L408.8 796.7 L409 796.9 L409.2 797.3 L409.5 797 L409.8 796.6 L410 797.1 L410.2 797.3 L410.5 796.8 L410.8 796.8 L411 797.3 L411.2 797.1 L411.5 796.7 L411.8 797 L412 797.4 L412.2 796.9 L412.5 796.7 L412.8 797.2 L413 797.2 L413.2 796.7 L413.5 796.9 L413.8 797.4 L414 797 L414.2 796.7 L414.5 797.2 L414.8 797.3 L415 796.8 L415.2 796.8 L415.5 797.4 L415.8 797.2 L416 796.7 L416.2 797.1 L416.5 797.4 L416.8 796.9 L417 796.8 L417.2 797.3 L417.5 797.3 L417.8 796.8 L418 797 L418.2 797.4 L418.5 797.1 L418.8 796.7 L419 797.2 L419.2 797.4 L419.5 796.9 L419.8 796.9 L420 797.4 L420.2 797.2 L420.5 796.8 L420.8 797.1 L421 797.5 L421.2 797 L421.5 796.8 L421.8 797.3 L422 797.3 L422.2 796.8 L422.5 797 L422.8 797.5 L423 797.1 L423.2 796.8 L423.5 797.3 L423.8 797.4 L424 796.9 L424.2 796.9 L424.5 797.5 L424.8 797.3 L425 796.8 L425.2 797.2 L425.5 797.5 L425.8 797 L426 796.9 L426.2 797.4 L426.5 797.4 L426.8 796.9 L427 797.1 L427.2 797.5 L427.5 797.2 L427.8 796.8 L428 797.3 L428.2 797.5 L428.5 797 L428.8 797 L429 797.5 L429.2 797.3 L429.5 796.9 L429.8 797.2 L430 797.6 L430.2 797.1 L430.5 796.9 L430.8 797.4 L431 797.5 L431.2 796.9 L431.5 797.1 L431.8 797.6 L432 797.2 L432.2 796.9 L432.5 797.4 L432.8 797.5 L433 797 L433.2 797 L433.5 797.6 L433.8 797.4 L434 796.9 L434.2 797.3 L434.5 797.6 L434.8 797.1 L435 797 L435.2 797.5 L435.5 797.5 L435.8 797 L436 797.2 L436.2 797.6 L436.5 797.3 L436.8 796.9 L437 797.4 L437.2 797.6 L437.5 797.1 L437.8 797.1 L438 797.6 L438.2 797.4 L438.5 797 L438.8 797.3 L439 797.7 L439.2 797.2 L439.5 797 L439.8 797.5 L440 797.6 L440.2 797 L440.5 797.2 L440.8 797.7 L441 797.3 L441.2 797 L441.5 797.5 L441.8 797.7 L442 797.1 L442.2 797.1 L442.5 797.7 L442.8 797.5 L443 797 L443.2 797.4 L443.5 797.7 L443.8 797.2 L444 797.1 L444.2 797.6 L444.5 797.6 L444.8 797.1 L445 797.3 L445.2 797.7 L445.5 797.4 L445.8 797 L446 797.5 L446.2 797.7 L446.5 797.2 L446.8 797.2 L447 797.7 L447.2 797.5 L447.5 797.1 L447.8 797.4 L448 797.8 L448.2 797.3 L448.5 797.1 L448.8 797.7 L449 797.7 L449.2 797.1 L449.5 797.3 L449.8 797.8 L450 797.4 L450.2 797.1 L450.5 797.6 L450.8 797.8 L451 797.2 L451.2 797.2 L451.5 797.8 L451.8 797.6 L452 797.1 L452.2 797.5 L452.5 797.8 L452.8 797.4 L453 797.2 L453.2 797.7 L453.5 797.7 L453.8 797.2 L454 797.4 L454.2 797.8 L454.5 797.5 L454.8 797.1 L455 797.6 L455.2 797.8 L455.5 797.3 L455.8 797.3 L456 797.8 L456.2 797.6 L456.5 797.2 L456.8 797.5 L457 797.9 L457.2 797.4 L457.5 795.4 L457.8 791.5 L458 791.1 L458.2 794.4 L458.5 800.9 L458.8 807.9 L459 810.5 L459.2 807.9 L459.5 800.9 L459.8 802.5 L460 793.9 L460.2 793.9 L460.5 802.4 L460.8 799.4 L461 792.2 L461.2 797.6 L461.5 802.8 L461.8 795.8 L462 793.1 L462.2 800.9 L462.5 800.8 L462.8 793.2 L463 795.9 L463.2 802.4 L463.5 797.6 L463.8 792.9 L464 799.2 L464.2 801.7 L464.5 794.6 L464.8 794.7 L465 801.5 L465.2 799.1 L465.5 793.3 L465.8 797.6 L466 801.9 L466.2 796.2 L466.5 794 L466.8 800.3 L467 800.3 L467.2 794.1 L467.5 796.3 L467.8 801.6 L468 797.6 L468.2 793.8 L468.5 799 L468.8 801 L469 795.2 L469.2 795.3 L469.5 800.9 L469.8 798.9 L470 794.1 L470.2 797.7 L470.5 801.1 L470.8 796.5 L471 794.7 L471.2 799.9 L471.5 799.9 L471.8 794.8 L472 796.6 L472.2 800.9 L472.5 797.7 L472.8 794.5 L473 798.8 L473.2 800.4 L473.5 795.7 L473.8 795.7 L474 800.3 L474.2 798.7 L474.5 794.8 L474.8 797.7 L475 800.6 L475.2 796.7 L475.5 795.3 L475.8 799.5 L476 799.5 L476.2 795.4 L476.5 796.8 L476.8 800.4 L477 797.7 L477.2 795.2 L477.5 798.6 L477.8 800 L478 796.1 L478.2 796.1 L478.5 799.9 L478.8 798.6 L479 795.4 L479.2 797.8 L479.5 800.1 L479.8 797 L480 795.7 L480.2 799.3 L480.5 799.3 L480.8 795.8 L481 797 L481.2 800 L481.5 797.8 L481.8 795.6 L482 798.5 L482.2 799.7 L482.5 796.4 L482.8 796.5" fill="none" stroke="#EDB120" stroke-width="2.1" stroke-linejoin="round" stroke-linecap="round" />
<path d="M176.9 679 L177.9 886" fill="none" stroke="#00FFFF" stroke-width="1.9" stroke-linejoin="round" stroke-linecap="round" />
<path d="M179.6 900 L179.9 899 L180.3 896.2 L180.6 892 L180.9 887 L181.3 882 L181.6 877.8 L182 875 L182.3 874 L183.3 869.2 L184.2 855.4 L185.2 834.9 L186.2 810.6 L187.1 786.4 L188.1 765.9 L189 752.1 L190 747.3 L190.6 748.5 L191.2 751.9 L191.8 757 L192.4 763 L193 769.1 L193.6 774.2 L194.2 777.6 L194.8 778.8 L195.2 779.2 L195.5 780.2 L195.9 781.8 L196.2 783.7 L196.6 785.6 L197 787.2 L197.3 788.2 L197.7 788.6 L198.1 788.5 L198.5 788.2 L198.9 787.7 L199.3 787.1 L199.8 786.5 L200.2 786 L200.6 785.7 L201 785.6 L201.5 785.6 L202 785.6 L202.5 785.6 L203 785.6 L203.5 785.6 L204 785.6 L204.5 785.6 L205 785.6" fill="none" stroke="#00FFFF" stroke-width="1.9" stroke-linejoin="round" stroke-linecap="round" />
<path d="M172 679 L174.9 679 L175.3 760 L176.8 886 L172 886Z" fill="#FFFF00" stroke="none" />
<path d="M197 785.2 L200 785.4 L320 788.6 L483 789.2" fill="none" stroke="#FFFF00" stroke-width="2.1" stroke-linejoin="round" stroke-linecap="round" />
<path d="M165.5 923.4 L165.7 923.4 L165.9 923.4 L166.1 923.4 L166.3 923.4 L166.5 923.4 L166.7 923.4 L166.9 923.4 L167.1 923.4 L167.3 923.4 L167.5 923.4 L167.7 923.4 L167.9 923.4 L168.1 923.4 L168.3 923.4 L168.5 923.4 L168.7 923.4 L168.9 923.4 L169.1 923.4 L169.3 923.4 L169.5 923.4 L169.7 923.4 L169.9 923.4 L170.1 923.4 L170.3 923.4 L170.5 923.4 L170.7 911.8 L170.9 857.7 L171.1 803.2 L171.3 748.6 L171.5 694.2 L171.7 641.5 L171.9 641.5 L172.1 641.5 L172.3 641.5 L172.5 641.5 L172.7 641.5 L172.9 641.5 L173.1 641.5 L173.3 641.5 L173.5 641.5 L173.7 641.5 L173.9 641.5 L174.1 641.5 L174.3 641.5 L174.5 641.5 L174.7 641.5 L174.9 641.5 L175.1 641.5 L175.3 641.5 L175.5 641.5 L175.7 641.5 L175.9 641.5 L176.1 641.5 L176.3 641.5 L176.5 641.5 L176.7 641.5 L176.9 641.5 L177.1 641.5 L177.3 641.5 L177.5 641.5 L177.7 641.5 L177.9 641.5 L178.1 641.5 L178.3 641.5 L178.5 641.5 L178.7 641.5 L178.9 694.2 L179.1 748.6 L179.3 803.2 L179.5 857.7 L179.7 911.8 L179.9 923.4 L180.1 923.4 L180.3 923.4 L180.5 923.4 L180.7 923.4 L180.9 923.4 L181.1 923.4 L181.3 923.4 L181.5 923.4 L181.7 923.4 L181.9 923.4 L182.1 923.4 L182.3 923.4 L182.5 923.4 L182.7 923.4 L182.9 923.4 L183.1 923.4 L183.3 923.4 L183.5 923.4 L183.7 923.4 L183.9 923.4 L184.1 923.4 L184.3 923.4 L184.5 923.4 L184.7 923.4 L184.9 923.4 L185.1 923.4 L185.3 923.4 L185.5 923.4 L185.7 923.4 L185.9 923.4 L186.1 923.4 L186.3 923.4 L186.5 923.4 L186.7 912.9 L186.9 867 L187.1 821.7 L187.3 777.2 L187.5 733.8 L187.7 691.7 L187.9 651.2 L188.1 641.5 L188.3 641.5 L188.5 641.5 L188.7 641.5 L188.9 641.5 L189.1 641.5 L189.3 641.5 L189.5 641.5 L189.7 641.5 L189.9 641.5 L190.1 641.5 L190.3 641.5 L190.5 641.5 L190.7 641.5 L190.9 641.5 L191.1 641.5 L191.3 641.5 L191.5 641.5 L191.7 641.5 L191.9 641.5 L192.1 641.5 L192.3 641.5 L192.5 641.5 L192.7 641.5 L192.9 641.5 L193.1 641.5 L193.3 641.5 L193.5 641.5 L193.7 641.5 L193.9 641.5 L194.1 641.5 L194.3 641.5 L194.5 666.2 L194.7 694.8 L194.9 723.4 L195.1 751.6 L195.3 779.3 L195.5 806.4 L195.7 832.8 L195.9 858.2 L196.1 882.5 L196.3 905.7 L196.5 923.4 L196.7 923.4 L196.9 923.4 L197.1 923.4 L197.3 923.4 L197.5 923.4 L197.7 923.4 L197.9 923.4 L198.1 923.4 L198.3 923.4 L198.5 923.4 L198.7 923.4 L198.9 923.4 L199.1 923.4 L199.3 923.4 L199.5 923.4 L199.7 923.4 L199.9 923.4 L200.1 923.4 L200.3 923.4 L200.5 923.4 L200.7 923.4 L200.9 923.4 L201.1 923.4 L201.3 923.4 L201.5 923.4 L201.7 923.4 L201.9 912 L202.1 894.8 L202.3 877.2 L202.5 859.5 L202.7 841.7 L202.9 824 L203.1 806.4 L203.3 789.1 L203.5 772.2 L203.7 755.7 L203.9 739.8 L204.1 724.5 L204.3 710 L204.5 696.2 L204.7 683.3 L204.9 671.3 L205.1 660.3 L205.3 650.2 L205.5 641.5 L205.7 641.5 L205.9 641.5 L206.1 641.5 L206.3 641.5 L206.5 641.5 L206.7 641.5 L206.9 641.5 L207.1 641.5 L207.3 641.5 L207.5 641.5 L207.7 641.5 L207.9 641.5 L208.1 641.5 L208.3 641.5 L208.5 641.5 L208.7 644 L208.9 652 L209.1 660.6 L209.3 669.8 L209.5 679.4 L209.7 689.5 L209.9 699.9 L210.1 710.5 L210.3 721.4 L210.5 732.4 L210.7 743.4 L210.9 754.4 L211.1 765.3 L211.3 776.1 L211.5 786.7 L211.7 797 L211.9 806.9 L212.1 816.5 L212.3 825.7 L212.5 834.4 L212.7 842.5 L212.9 850.1 L213.1 857.1 L213.3 863.5 L213.5 869.2 L213.7 874.3 L213.9 878.7 L214.1 882.4 L214.3 885.3 L214.5 887.6 L214.7 889.2 L214.9 890.1 L215.1 890.3 L215.3 889.9 L215.5 888.8 L215.7 887.1 L215.9 884.7 L216.1 881.8 L216.3 878.4 L216.5 874.4 L216.7 870 L216.9 865.1 L217.1 859.9 L217.3 854.3 L217.5 848.4 L217.7 842.2 L217.9 835.8 L218.1 829.2 L218.3 822.5 L218.5 815.7 L218.7 808.9 L218.9 802 L219.1 795.2 L219.3 788.5 L219.5 781.9 L219.7 775.5 L219.9 769.3 L220.1 763.3 L220.3 757.5 L220.5 752 L220.7 746.9 L220.9 742.1 L221.1 737.7 L221.3 733.6 L221.5 730 L221.7 726.7 L221.9 723.9 L222.1 721.5 L222.3 719.5 L222.5 718 L222.7 716.9 L222.9 716.2 L223.1 716 L223.3 716.2 L223.5 716.7 L223.7 717.7 L223.9 719.1 L224.1 720.8 L224.3 722.9 L224.5 725.2 L224.7 727.9 L224.9 730.8 L225.1 734 L225.3 737.5 L225.5 741.1 L225.7 744.9 L225.9 748.8 L226.1 752.9 L226.3 757 L226.5 761.2 L226.7 765.5 L226.9 769.7 L227.1 773.9 L227.3 778.1 L227.5 782.2 L227.7 786.3 L227.9 790.2 L228.1 793.9 L228.3 797.5 L228.5 801 L228.7 804.2 L228.9 807.2 L229.1 810.1 L229.3 812.6 L229.5 815 L229.7 817 L229.9 818.9 L230.1 820.4 L230.3 821.7 L230.5 822.7 L230.7 823.5 L230.9 823.9 L231.1 824.2 L231.3 824.1 L231.5 823.8 L231.7 823.3 L231.9 822.5 L232.1 821.5 L232.3 820.3 L232.5 818.8 L232.7 817.2 L232.9 815.4 L233.1 813.5 L233.3 811.4 L233.5 809.2 L233.7 806.8 L233.9 804.4 L234.1 801.9 L234.3 799.4 L234.5 796.8 L234.7 794.1 L234.9 791.5 L235.1 788.9 L235.3 786.3 L235.5 783.7 L235.7 781.2 L235.9 778.7 L236.1 776.4 L236.3 774.1 L236.5 772 L236.7 769.9 L236.9 768 L237.1 766.2 L237.3 764.6 L237.5 763.1 L237.7 761.8 L237.9 760.6 L238.1 759.6 L238.3 758.8 L238.5 758.1 L238.7 757.6 L238.9 757.2 L239.1 757.1 L239.3 757.1 L239.5 757.2 L239.7 757.5 L239.9 758 L240.1 758.6 L240.3 759.3 L240.5 760.1 L240.7 761.1 L240.9 762.2 L241.1 763.4 L241.3 764.6 L241.5 766 L241.7 767.4 L241.9 768.9 L242.1 770.5 L242.3 772 L242.5 773.7 L242.7 775.3 L242.9 776.9 L243.1 778.5 L243.3 780.2 L243.5 781.8 L243.7 783.3 L243.9 784.9 L244.1 786.3 L244.3 787.8 L244.5 789.1 L244.7 790.4 L244.9 791.6 L245.1 792.7 L245.3 793.8 L245.5 794.7 L245.7 795.6 L245.9 796.3 L246.1 797 L246.3 797.5 L246.5 798 L246.7 798.3 L246.9 798.5 L247.1 798.7 L247.3 798.7 L247.5 798.6 L247.7 798.5 L247.9 798.2 L248.1 797.9 L248.3 797.4 L248.5 796.9 L248.7 796.3 L248.9 795.7 L249.1 795 L249.3 794.2 L249.5 793.4 L249.7 792.5 L249.9 791.6 L250.1 790.6 L250.3 789.6 L250.5 788.6 L250.7 787.6 L250.9 786.6 L251.1 785.6 L251.3 784.6 L251.5 783.6 L251.7 782.6 L251.9 781.7 L252.1 780.8 L252.3 779.9 L252.5 779 L252.7 778.2 L252.9 777.4 L253.1 776.7 L253.3 776.1 L253.5 775.5 L253.7 774.9 L253.9 774.4 L254.1 774 L254.3 773.7 L254.5 773.4 L254.7 773.2 L254.9 773 L255.1 772.9 L255.3 772.9 L255.5 772.9 L255.7 773 L255.9 773.1 L256.1 773.3 L256.3 773.6 L256.5 773.9 L256.7 774.2 L256.9 774.6 L257.1 775.1 L257.3 775.5 L257.5 776 L257.7 776.6 L257.9 777.1 L258.1 777.7 L258.3 778.3 L258.5 778.9 L258.7 779.6 L258.9 780.2 L259.1 780.8 L259.3 781.4 L259.5 782.1 L259.7 782.7 L259.9 783.3 L260.1 783.8 L260.3 784.4 L260.5 784.9 L260.7 785.5 L260.9 785.9 L261.1 786.4 L261.3 786.8 L261.5 787.2 L261.7 787.5 L261.9 787.8 L262.1 788.1 L262.3 788.3 L262.5 788.5 L262.7 788.7 L262.9 788.8 L263.1 788.9 L263.3 788.9 L263.5 788.9 L263.7 788.8 L263.9 788.8 L264.1 788.6 L264.3 788.5 L264.5 788.3 L264.7 788.1 L264.9 787.9 L265.1 787.6 L265.3 787.3 L265.5 787 L265.7 786.7 L265.9 786.3 L266.1 786 L266.3 785.6 L266.5 785.2 L266.7 784.8 L266.9 784.4 L267.1 784 L267.3 783.7 L267.5 783.3 L267.7 782.9 L267.9 782.5 L268.1 782.2 L268.3 781.8 L268.5 781.5 L268.7 781.2 L268.9 780.8 L269.1 780.6 L269.3 780.3 L269.5 780.1 L269.7 779.8 L269.9 779.6 L270.1 779.5 L270.3 779.3 L270.5 779.2 L270.7 779.1 L270.9 779 L271.1 779 L271.3 778.9 L271.5 778.9 L271.7 779 L271.9 779 L272.1 779.1 L272.3 779.2 L272.5 779.3 L272.7 779.4 L272.9 779.5 L273.1 779.7 L273.3 779.9 L273.5 780.1 L273.7 780.3 L273.9 780.5 L274.1 780.7 L274.3 780.9 L274.5 781.2 L274.7 781.4 L274.9 781.6 L275.1 781.9 L275.3 782.1 L275.5 782.4 L275.7 782.6 L275.9 782.8 L276.1 783.1 L276.3 783.3 L276.5 783.5 L276.7 783.7 L276.9 783.9 L277.1 784.1 L277.3 784.2 L277.5 784.4 L277.7 784.5 L277.9 784.6 L278.1 784.8 L278.3 784.9 L278.5 784.9 L278.7 785 L278.9 785.1 L279.1 785.1 L279.3 785.1 L279.5 785.1 L279.7 785.1 L279.9 785.1 L280.1 785 L280.3 785 L280.5 784.9 L280.7 784.9 L280.9 784.8 L281.1 784.7 L281.3 784.6 L281.5 784.4 L281.7 784.3 L281.9 784.2 L282.1 784.1 L282.3 783.9 L282.5 783.8 L282.7 783.6 L282.9 783.5 L283.1 783.3 L283.3 783.2 L283.5 783 L283.7 782.9 L283.9 782.7 L284.1 782.6 L284.3 782.5 L284.5 782.3 L284.7 782.2 L284.9 782.1 L285.1 782 L285.3 781.9 L285.5 781.8 L285.7 781.7 L285.9 781.6 L286.1 781.5 L286.3 781.5 L286.5 781.4 L286.7 781.4 L286.9 781.3 L287.1 781.3 L287.3 781.3 L287.5 781.3 L287.7 781.3 L287.9 781.3 L288.1 781.3 L288.3 781.4 L288.5 781.4 L288.7 781.4 L288.9 781.5 L289.1 781.5 L289.3 781.6 L289.5 781.7 L289.7 781.8 L289.9 781.8 L290.1 781.9 L290.3 782 L290.5 782.1 L290.7 782.2 L290.9 782.3 L291.1 782.4 L291.3 782.5 L291.5 782.6 L291.7 782.6 L291.9 782.7 L292.1 782.8 L292.3 782.9 L292.5 783 L292.7 783.1 L292.9 783.2 L293.1 783.2 L293.3 783.3 L293.5 783.3 L293.7 783.4 L293.9 783.5 L294.1 783.5 L294.3 783.5 L294.5 783.6 L294.7 783.6 L294.9 783.6 L295.1 783.6 L295.3 783.7 L295.5 783.7 L295.7 783.7 L295.9 783.7 L296.1 783.6 L296.3 783.6 L296.5 783.6 L296.7 783.6 L296.9 783.5 L297.1 783.5 L297.3 783.5 L297.5 783.4 L297.7 783.4 L297.9 783.3 L298.1 783.3 L298.3 783.2 L298.5 783.2 L298.7 783.1 L298.9 783.1 L299.1 783 L299.3 782.9 L299.5 782.9 L299.7 782.8 L299.9 782.8 L300.1 782.7 L300.3 782.7 L300.5 782.6 L300.7 782.6 L300.9 782.5 L301.1 782.5 L301.3 782.4 L301.5 782.4 L301.7 782.4 L301.9 782.3 L302.1 782.3 L302.3 782.3 L302.5 782.2 L302.7 782.2 L302.9 782.2 L303.1 782.2 L303.3 782.2 L303.5 782.2 L303.7 782.2 L303.9 782.2 L304.1 782.2 L304.3 782.2 L304.5 782.2 L304.7 782.2 L304.9 782.3 L305.1 782.3 L305.3 782.3 L305.5 782.3 L305.7 782.4 L305.9 782.4 L306.1 782.4 L306.3 782.4 L306.5 782.5 L306.7 782.5 L306.9 782.6 L307.1 782.6 L307.3 782.6 L307.5 782.7 L307.7 782.7 L307.9 782.7 L308.1 782.8 L308.3 782.8 L308.5 782.8 L308.7 782.9 L308.9 782.9 L309.1 782.9 L309.3 782.9 L309.5 783 L309.7 783 L309.9 783 L310.1 783 L310.3 783 L310.5 783.1 L310.7 783.1 L310.9 783.1 L311.1 783.1 L311.3 783.1 L311.5 783.1 L311.7 783.1 L311.9 783.1 L312.1 783.1 L312.3 783.1 L312.5 783.1 L312.7 783.1 L312.9 783.1 L313.1 783 L313.3 783 L313.5 783 L313.7 783 L313.9 783 L314.1 783 L314.3 782.9 L314.5 782.9 L314.7 782.9 L314.9 782.9 L315.1 782.9 L315.3 782.8 L315.5 782.8 L315.7 782.8 L315.9 782.8 L316.1 782.7 L316.3 782.7 L316.5 782.7 L316.7 782.7 L316.9 782.7 L317.1 782.7 L317.3 782.6 L317.5 782.6 L317.7 782.6 L317.9 782.6 L318.1 782.6 L318.3 782.6 L318.5 782.6 L318.7 782.6 L318.9 782.5 L319.1 782.5 L319.3 782.5 L319.5 782.5 L319.7 782.5 L319.9 782.5 L320.1 782.5 L320.3 782.5 L320.5 782.5 L320.7 782.5 L320.9 782.6 L321.1 782.6 L321.3 782.6 L321.5 782.6 L321.7 782.6 L321.9 782.6 L322.1 782.6 L322.3 782.6 L322.5 782.6 L322.7 782.7 L322.9 782.7 L323.1 782.7 L323.3 782.7 L323.5 782.7 L323.7 782.7 L323.9 782.7 L324.1 782.7 L324.3 782.8 L324.5 782.8 L324.7 782.8 L324.9 782.8 L325.1 782.8 L325.3 782.8 L325.5 782.8 L325.7 782.8 L325.9 782.8 L326.1 782.9 L326.3 782.9 L326.5 782.9 L326.7 782.9 L326.9 782.9 L327.1 782.9 L327.3 782.9 L327.5 782.9 L327.7 782.9 L327.9 782.9 L328.1 782.9 L328.3 782.9 L328.5 782.9 L328.7 782.9 L328.9 782.9 L329.1 782.9 L329.3 782.9 L329.5 782.9 L329.7 782.9 L329.9 782.8 L330.1 782.8 L330.3 782.8 L330.5 782.8 L330.7 782.8 L330.9 782.8 L331.1 782.8 L331.3 782.8 L331.5 782.8 L331.7 782.8 L331.9 782.8 L332.1 782.8 L332.3 782.7 L332.5 782.7 L332.7 782.7 L332.9 782.7 L333.1 782.7 L333.3 782.7 L333.5 782.7 L333.7 782.7 L333.9 782.7 L334.1 782.7 L334.3 782.7 L334.5 782.7 L334.7 782.7 L334.9 782.7 L335.1 782.7 L335.3 782.7 L335.5 782.7 L335.7 782.7 L335.9 782.7 L336.1 782.7 L336.3 782.7 L336.5 782.7 L336.7 782.7 L336.9 782.7 L337.1 782.7 L337.3 782.7 L337.5 782.7 L337.7 782.7 L337.9 782.7 L338.1 782.7 L338.3 782.7 L338.5 782.7 L338.7 782.7 L338.9 782.7 L339.1 782.7 L339.3 782.7 L339.5 782.7 L339.7 782.7 L339.9 782.7 L340.1 782.7 L340.3 782.8 L340.5 782.8 L340.7 782.8 L340.9 782.8 L341.1 782.8 L341.3 782.8 L341.5 782.8 L341.7 782.8 L341.9 782.8 L342.1 782.8 L342.3 782.8 L342.5 782.8 L342.7 782.8 L342.9 782.8 L343.1 782.8 L343.3 782.8 L343.5 782.8 L343.7 782.8 L343.9 782.8 L344.1 782.8 L344.3 782.8 L344.5 782.8 L344.7 782.8 L344.9 782.8 L345.1 782.8 L345.3 782.8 L345.5 782.8 L345.7 782.8 L345.9 782.8 L346.1 782.8 L346.3 782.8 L346.5 782.8 L346.7 782.8 L346.9 782.8 L347.1 782.8 L347.3 782.8 L347.5 782.8 L347.7 782.8 L347.9 782.8 L348.1 782.8 L348.3 782.7 L348.5 782.7 L348.7 782.7 L348.9 782.7 L349.1 782.7 L349.3 782.7 L349.5 782.7 L349.7 782.7 L349.9 782.7 L350.1 782.7 L350.3 782.7 L350.5 782.7 L350.7 782.7 L350.9 782.7 L351.1 782.7 L351.3 782.7 L351.5 782.7 L351.7 782.7 L351.9 782.7 L352.1 782.7 L352.3 782.7 L352.5 782.7 L352.7 782.7 L352.9 782.7 L353.1 782.7 L353.3 782.7 L353.5 782.7 L353.7 782.7 L353.9 782.7 L354.1 782.7 L354.3 782.7 L354.5 782.7 L354.7 782.7 L354.9 782.7 L355.1 782.7 L355.3 782.7 L355.5 782.7 L355.7 782.7 L355.9 782.7 L356.1 782.7 L356.3 782.7 L356.5 782.8 L356.7 782.8 L356.9 782.8 L357.1 782.8 L357.3 782.8 L357.5 782.8 L357.7 782.8 L357.9 782.8 L358.1 782.8 L358.3 782.8 L358.5 782.8 L358.7 782.8 L358.9 782.8 L359.1 782.8 L359.3 782.8 L359.5 782.8 L359.7 782.8 L359.9 782.8 L360.1 782.8 L360.3 782.8 L360.5 782.8 L360.7 782.8 L360.9 782.8 L361.1 782.8 L361.3 782.8 L361.5 782.8 L361.7 782.8 L361.9 782.8 L362.1 782.8 L362.3 782.8 L362.5 782.8 L362.7 782.8 L362.9 782.8 L363.1 782.8 L363.3 782.8 L363.5 782.8 L363.7 782.8 L363.9 782.8 L364.1 782.8 L364.3 782.8 L364.5 782.7 L364.7 782.7 L364.9 782.7 L365.1 782.7 L365.3 782.7 L365.5 782.7 L365.7 782.7 L365.9 782.7 L366.1 782.7 L366.3 782.7 L366.5 782.7 L366.7 782.7 L366.9 782.7 L367.1 782.7 L367.3 782.7 L367.5 782.7 L367.7 782.7 L367.9 782.7 L368.1 782.7 L368.3 782.7 L368.5 782.7 L368.7 782.7 L368.9 782.7 L369.1 782.7 L369.3 782.7 L369.5 782.7 L369.7 782.7 L369.9 782.7 L370.1 782.7 L370.3 782.7 L370.5 782.7 L370.7 782.7 L370.9 782.7 L371.1 782.7 L371.3 782.7 L371.5 782.7 L371.7 782.7 L371.9 782.7 L372.1 782.7 L372.3 782.7 L372.5 782.8 L372.7 782.8 L372.9 782.8 L373.1 782.8 L373.3 782.8 L373.5 782.8 L373.7 782.8 L373.9 782.8 L374.1 782.8 L374.3 782.8 L374.5 782.8 L374.7 782.8 L374.9 782.8 L375.1 782.8 L375.3 782.8 L375.5 782.8 L375.7 782.8 L375.9 782.8 L376.1 782.8 L376.3 782.8 L376.5 782.8 L376.7 782.8 L376.9 782.8 L377.1 782.8 L377.3 782.8 L377.5 782.8 L377.7 782.8 L377.9 782.8 L378.1 782.8 L378.3 782.8 L378.5 782.8 L378.7 782.8 L378.9 782.8 L379.1 782.8 L379.3 782.8 L379.5 782.8 L379.7 782.8 L379.9 782.8 L380.1 782.8 L380.3 782.8 L380.5 782.7 L380.7 782.7 L380.9 782.7 L381.1 782.7 L381.3 782.7 L381.5 782.7 L381.7 782.7 L381.9 782.7 L382.1 782.7 L382.3 782.7 L382.5 782.7 L382.7 782.7 L382.9 782.7 L383.1 782.7 L383.3 782.7 L383.5 782.7 L383.7 782.7 L383.9 782.7 L384.1 782.7 L384.3 782.7 L384.5 782.7 L384.7 782.7 L384.9 782.7 L385.1 782.7 L385.3 782.7 L385.5 782.7 L385.7 782.7 L385.9 782.7 L386.1 782.7 L386.3 782.7 L386.5 782.7 L386.7 782.7 L386.9 782.7 L387.1 782.7 L387.3 782.7 L387.5 782.7 L387.7 782.7 L387.9 782.7 L388.1 782.7 L388.3 782.7 L388.5 782.7 L388.7 782.8 L388.9 782.8 L389.1 782.8 L389.3 782.8 L389.5 782.8 L389.7 782.8 L389.9 782.8 L390.1 782.8 L390.3 782.8 L390.5 782.8 L390.7 782.8 L390.9 782.8 L391.1 782.8 L391.3 782.8 L391.5 782.8 L391.7 782.8 L391.9 782.8 L392.1 782.8 L392.3 782.8 L392.5 782.8 L392.7 782.8 L392.9 782.8 L393.1 782.8 L393.3 782.8 L393.5 782.8 L393.7 782.8 L393.9 782.8 L394.1 782.8 L394.3 782.8 L394.5 782.8 L394.7 782.8 L394.9 782.8 L395.1 782.8 L395.3 782.8 L395.5 782.8 L395.7 782.8 L395.9 782.8 L396.1 782.8 L396.3 782.8 L396.5 782.8 L396.7 782.7 L396.9 782.7 L397.1 782.7 L397.3 782.7 L397.5 782.7 L397.7 782.7 L397.9 782.7 L398.1 782.7 L398.3 782.7 L398.5 782.7 L398.7 782.7 L398.9 782.7 L399.1 782.7 L399.3 782.7 L399.5 782.7 L399.7 782.7 L399.9 782.7 L400.1 782.7 L400.3 782.7 L400.5 782.7 L400.7 782.7 L400.9 782.7 L401.1 782.7 L401.3 782.7 L401.5 782.7 L401.7 782.7 L401.9 782.7 L402.1 782.7 L402.3 782.7 L402.5 782.7 L402.7 782.7 L402.9 782.7 L403.1 782.7 L403.3 782.7 L403.5 782.7 L403.7 782.7 L403.9 782.7 L404.1 782.7 L404.3 782.7 L404.5 782.7 L404.7 782.8 L404.9 782.8 L405.1 782.8 L405.3 782.8 L405.5 782.8 L405.7 782.8 L405.9 782.8 L406.1 782.8 L406.3 782.8 L406.5 782.8 L406.7 782.8 L406.9 782.8 L407.1 782.8 L407.3 782.8 L407.5 782.8 L407.7 782.8 L407.9 782.8 L408.1 782.8 L408.3 782.8 L408.5 782.8 L408.7 782.8 L408.9 782.8 L409.1 782.8 L409.3 782.8 L409.5 782.8 L409.7 782.8 L409.9 782.8 L410.1 782.8 L410.3 782.8 L410.5 782.8 L410.7 782.8 L410.9 782.8 L411.1 782.8 L411.3 782.8 L411.5 782.8 L411.7 782.8 L411.9 782.8 L412.1 782.8 L412.3 782.8 L412.5 782.8 L412.7 782.7 L412.9 782.7 L413.1 782.7 L413.3 782.7 L413.5 782.7 L413.7 782.7 L413.9 782.7 L414.1 782.7 L414.3 782.7 L414.5 782.7 L414.7 782.7 L414.9 782.7 L415.1 782.7 L415.3 782.7 L415.5 782.7 L415.7 782.7 L415.9 782.7 L416.1 782.7 L416.3 782.7 L416.5 782.7 L416.7 782.7 L416.9 782.7 L417.1 782.7 L417.3 782.7 L417.5 782.7 L417.7 782.7 L417.9 782.7 L418.1 782.7 L418.3 782.7 L418.5 782.7 L418.7 782.7 L418.9 782.7 L419.1 782.7 L419.3 782.7 L419.5 782.7 L419.7 782.7 L419.9 782.7" fill="none" stroke="#00FF00" stroke-width="1.9" stroke-linejoin="round" stroke-linecap="round" />
<path d="M164.9 679 L164.9 886" fill="none" stroke="#00FF00" stroke-width="1.6" stroke-linejoin="round" stroke-linecap="round" />
<path d="M172.2 752 L172.2 752.9 L172.2 754.1 L172.3 755.5 L172.3 757.1 L172.4 758.8 L172.6 760.4 L172.8 762.1 L173.1 764 L173.4 765.9 L173.8 767.8 L174.1 769.5 L174.5 771 L174.9 772.2 L175.2 773.2 L175.6 774 L176 774.7 L176.5 775.4 L177 776 L177.6 776.6 L178.2 777.2 L178.8 777.6 L179.5 778.1 L180.2 778.5 L181 778.8 L181.2 779.1 L180.7 779.2 L180.3 779.4 L180.6 779.5 L182.6 779.6 L186.9 779.8 L194 780 L203.4 780.3 L214.4 780.6 L226.3 780.9 L238.4 781.2 L250 781.4 L260.2 781.6 L269.4 781.8 L278.8 782 L289.5 782.1 L302.9 782.3 L320 782.4 L343.7 782.5 L373.5 782.7 L405.9 782.8 L437.3 782.9 L464.2 782.9 L483 783" fill="none" stroke="#FF0000" stroke-width="2.0" stroke-linejoin="round" stroke-linecap="round" />
<path d="M165 679 L171.9 679 L171.9 715 L173.6 719 L176 725 L173.3 731 L172.7 800 L172.1 886 L165 886Z" fill="#0000FF" stroke="none" />
<path d="M172 718.5 L172.2 718.7 L172.5 719 L172.9 719.3 L173.3 719.7 L173.7 720.1 L174 720.6 L174.3 721.1 L174.6 721.7 L174.9 722.3 L175.2 723 L175.5 723.9 L175.8 725 L176.1 726.3 L176.4 727.8 L176.6 729.4 L176.9 731.2 L177.2 733.1 L177.5 735 L177.8 737.1 L178.2 739.3 L178.6 741.7 L179 744 L179.3 746.4 L179.7 748.6 L180 750.8 L180.4 752.9 L180.7 755 L181 757 L181.4 759 L181.7 761 L182 763 L182.4 765 L182.7 767 L183.1 768.8 L183.4 770.5 L183.7 772 L184 773.2 L184.3 774.3 L184.5 775.1 L184.8 775.9 L185 776.6 L185.3 777.2 L185.5 777.8 L185.8 778.3 L186 778.7 L186.3 779 L186.5 779.3 L186.9 779.6 L187.2 779.8 L187.6 780 L187.9 780.1 L188.4 780.2 L189.1 780.2 L190 780.3 L190.8 780.4 L191.3 780.4 L192.1 780.4 L193.4 780.4 L195.9 780.4 L200 780.5 L205.8 780.6 L213 780.8 L221.2 781 L230.4 781.1 L240 781.3 L250 781.5 L260.4 781.7 L271.5 781.8 L283.1 782 L295.2 782.2 L307.5 782.4 L320 782.5 L332.7 782.6 L345.8 782.7 L359.2 782.9 L372.7 782.9 L386.4 783 L400 783.1 L414.6 783.2 L430.5 783.2 L446.5 783.2 L461.4 783.3 L473.9 783.3 L483 783.3" fill="none" stroke="#0000FF" stroke-width="2.1999999999999997" stroke-linejoin="round" stroke-linecap="round" />
</g>
<rect x="164" y="679.5" width="317.8" height="205.9" fill="none" stroke="#6a6a6a" stroke-width="1.1"/>
<line x1="243.4" y1="885.4" x2="243.4" y2="882.2" stroke="#262626" stroke-width="1"/>
<line x1="243.4" y1="679.5" x2="243.4" y2="682.7" stroke="#262626" stroke-width="1"/>
<line x1="322.9" y1="885.4" x2="322.9" y2="882.2" stroke="#262626" stroke-width="1"/>
<line x1="322.9" y1="679.5" x2="322.9" y2="682.7" stroke="#262626" stroke-width="1"/>
<line x1="402.4" y1="885.4" x2="402.4" y2="882.2" stroke="#262626" stroke-width="1"/>
<line x1="402.4" y1="679.5" x2="402.4" y2="682.7" stroke="#262626" stroke-width="1"/>
<line x1="481.8" y1="782.5" x2="478.6" y2="782.5" stroke="#262626" stroke-width="1"/>
<text x="158.7" y="685.1" font-family='"Liberation Sans", Arial, Helvetica, sans-serif' font-weight="bold" font-size="12.4" text-anchor="end" fill="#262626" >1.005</text>
<text x="158.7" y="787.1" font-family='"Liberation Sans", Arial, Helvetica, sans-serif' font-weight="bold" font-size="12.4" text-anchor="end" fill="#262626" >1</text>
<text x="158.7" y="889.8" font-family='"Liberation Sans", Arial, Helvetica, sans-serif' font-weight="bold" font-size="12.4" text-anchor="end" fill="#262626" >0.995</text>
<text x="163.4" y="902" font-family='"Liberation Sans", Arial, Helvetica, sans-serif' font-weight="bold" font-size="12.4" text-anchor="middle" fill="#262626" >0</text>
<text x="242.8" y="902" font-family='"Liberation Sans", Arial, Helvetica, sans-serif' font-weight="bold" font-size="12.4" text-anchor="middle" fill="#262626" >50</text>
<text x="322.3" y="902" font-family='"Liberation Sans", Arial, Helvetica, sans-serif' font-weight="bold" font-size="12.4" text-anchor="middle" fill="#262626" >100</text>
<text x="401.8" y="902" font-family='"Liberation Sans", Arial, Helvetica, sans-serif' font-weight="bold" font-size="12.4" text-anchor="middle" fill="#262626" >150</text>
<text x="481.2" y="902" font-family='"Liberation Sans", Arial, Helvetica, sans-serif' font-weight="bold" font-size="12.4" text-anchor="middle" fill="#262626" >200</text>
<rect x="489.1" y="546" width="186.9" height="171.9" fill="#fff" stroke="#262626" stroke-width="1.1"/>
<line x1="493.9" y1="556.7" x2="539.5" y2="556.7" stroke="#7E2F8E" stroke-width="3"/>
<text font-family='"Liberation Sans", Arial, Helvetica, sans-serif' font-weight="bold" fill="#262626"><tspan x="543.4" y="561.3" font-size="12.5">PID-PSO</tspan></text>
<line x1="493.9" y1="572.7" x2="539.5" y2="572.7" stroke="#77AC30" stroke-width="3"/>
<text font-family='"Liberation Sans", Arial, Helvetica, sans-serif' font-weight="bold" fill="#262626"><tspan x="543.4" y="577.3" font-size="12.5">PID-GTO</tspan></text>
<line x1="493.9" y1="589.4" x2="539.5" y2="589.4" stroke="#EDB120" stroke-width="3"/>
<text font-family='"Liberation Sans", Arial, Helvetica, sans-serif' font-weight="bold" fill="#262626"><tspan x="543.4" y="594" font-size="12.5">PID-MPA</tspan></text>
<line x1="493.9" y1="607.4" x2="539.5" y2="607.4" stroke="#00FFFF" stroke-width="3"/>
<text font-family='"Liberation Sans", Arial, Helvetica, sans-serif' font-weight="bold" fill="#262626"><tspan x="543.4" y="614.3" font-size="12.5">PIDD</tspan><tspan x="573.9" y="608.4" font-size="9.4" stroke="#262626" stroke-width="0.35">2</tspan><tspan x="579.5" y="614.3" font-size="12.5">-PSO</tspan></text>
<line x1="493.9" y1="627.3" x2="539.5" y2="627.3" stroke="#FF00FF" stroke-width="3"/>
<text font-family='"Liberation Sans", Arial, Helvetica, sans-serif' font-weight="bold" fill="#262626"><tspan x="543.4" y="634.2" font-size="12.5">PIDD</tspan><tspan x="573.9" y="628.3" font-size="9.4" stroke="#262626" stroke-width="0.35">2</tspan><tspan x="579.5" y="634.2" font-size="12.5">-GTO</tspan></text>
<line x1="493.9" y1="647.2" x2="539.5" y2="647.2" stroke="#FFFF00" stroke-width="3"/>
<text font-family='"Liberation Sans", Arial, Helvetica, sans-serif' font-weight="bold" fill="#262626"><tspan x="543.4" y="654.1" font-size="12.5">PIDD</tspan><tspan x="573.9" y="648.2" font-size="9.4" stroke="#262626" stroke-width="0.35">2</tspan><tspan x="579.5" y="654.1" font-size="12.5">-MPA</tspan></text>
<line x1="493.9" y1="666.5" x2="539.5" y2="666.5" stroke="#00FF00" stroke-width="3"/>
<text font-family='"Liberation Sans", Arial, Helvetica, sans-serif' font-weight="bold" fill="#262626"><tspan x="543.4" y="673.8" font-size="12.5">(FPIDD</tspan><tspan x="586.4" y="667.9" font-size="9.4" stroke="#262626" stroke-width="0.35">2</tspan><tspan x="591.4" y="673.8" font-size="12.5">+PIDD</tspan><tspan x="629.2" y="667.9" font-size="9.4" stroke="#262626" stroke-width="0.35">2</tspan><tspan x="634.7" y="673.8" font-size="12.5">)-PSO</tspan></text>
<line x1="493.9" y1="686.4" x2="539.5" y2="686.4" stroke="#FF0000" stroke-width="3"/>
<text font-family='"Liberation Sans", Arial, Helvetica, sans-serif' font-weight="bold" fill="#262626"><tspan x="543.4" y="693.7" font-size="12.5">(FPIDD</tspan><tspan x="586.4" y="687.8" font-size="9.4" stroke="#262626" stroke-width="0.35">2</tspan><tspan x="591.4" y="693.7" font-size="12.5">+PIDD</tspan><tspan x="629.2" y="687.8" font-size="9.4" stroke="#262626" stroke-width="0.35">2</tspan><tspan x="634.7" y="693.7" font-size="12.5">)-GTO</tspan></text>
<line x1="493.9" y1="706" x2="539.5" y2="706" stroke="#0000FF" stroke-width="3"/>
<text font-family='"Liberation Sans", Arial, Helvetica, sans-serif' font-weight="bold" fill="#262626"><tspan x="543.4" y="713.3" font-size="12.5">(FPIDD</tspan><tspan x="586.4" y="707.4" font-size="9.4" stroke="#262626" stroke-width="0.35">2</tspan><tspan x="591.4" y="713.3" font-size="12.5">+PIDD</tspan><tspan x="629.2" y="707.4" font-size="9.4" stroke="#262626" stroke-width="0.35">2</tspan><tspan x="634.7" y="713.3" font-size="12.5">)-MPA</tspan></text>
<line x1="676.8" y1="666.9" x2="677.6" y2="666.9" stroke="#0000FF" stroke-width="2.6"/>
<ellipse cx="101.6" cy="671.4" rx="18.6" ry="19.5" fill="none" stroke="#111" stroke-width="1.3"/>
<line x1="114.7" y1="688.4" x2="155.1" y2="739.4" stroke="#111" stroke-width="1.55"/>
<path d="M161 746.8 L150.9 741.4 L158.1 735.7Z" fill="#111"/>
<text x="371.6" y="972" font-family='"Liberation Serif", "Times New Roman", Times, serif' font-weight="normal" font-size="15" text-anchor="middle" fill="#111" >(d)</text>
<path d="M0 488.7 L1.6 488.9 L2.8 490.2 L2.9 491.8 L0 491.8Z" fill="#b4b4b0"/>
</svg>
</body></html>
